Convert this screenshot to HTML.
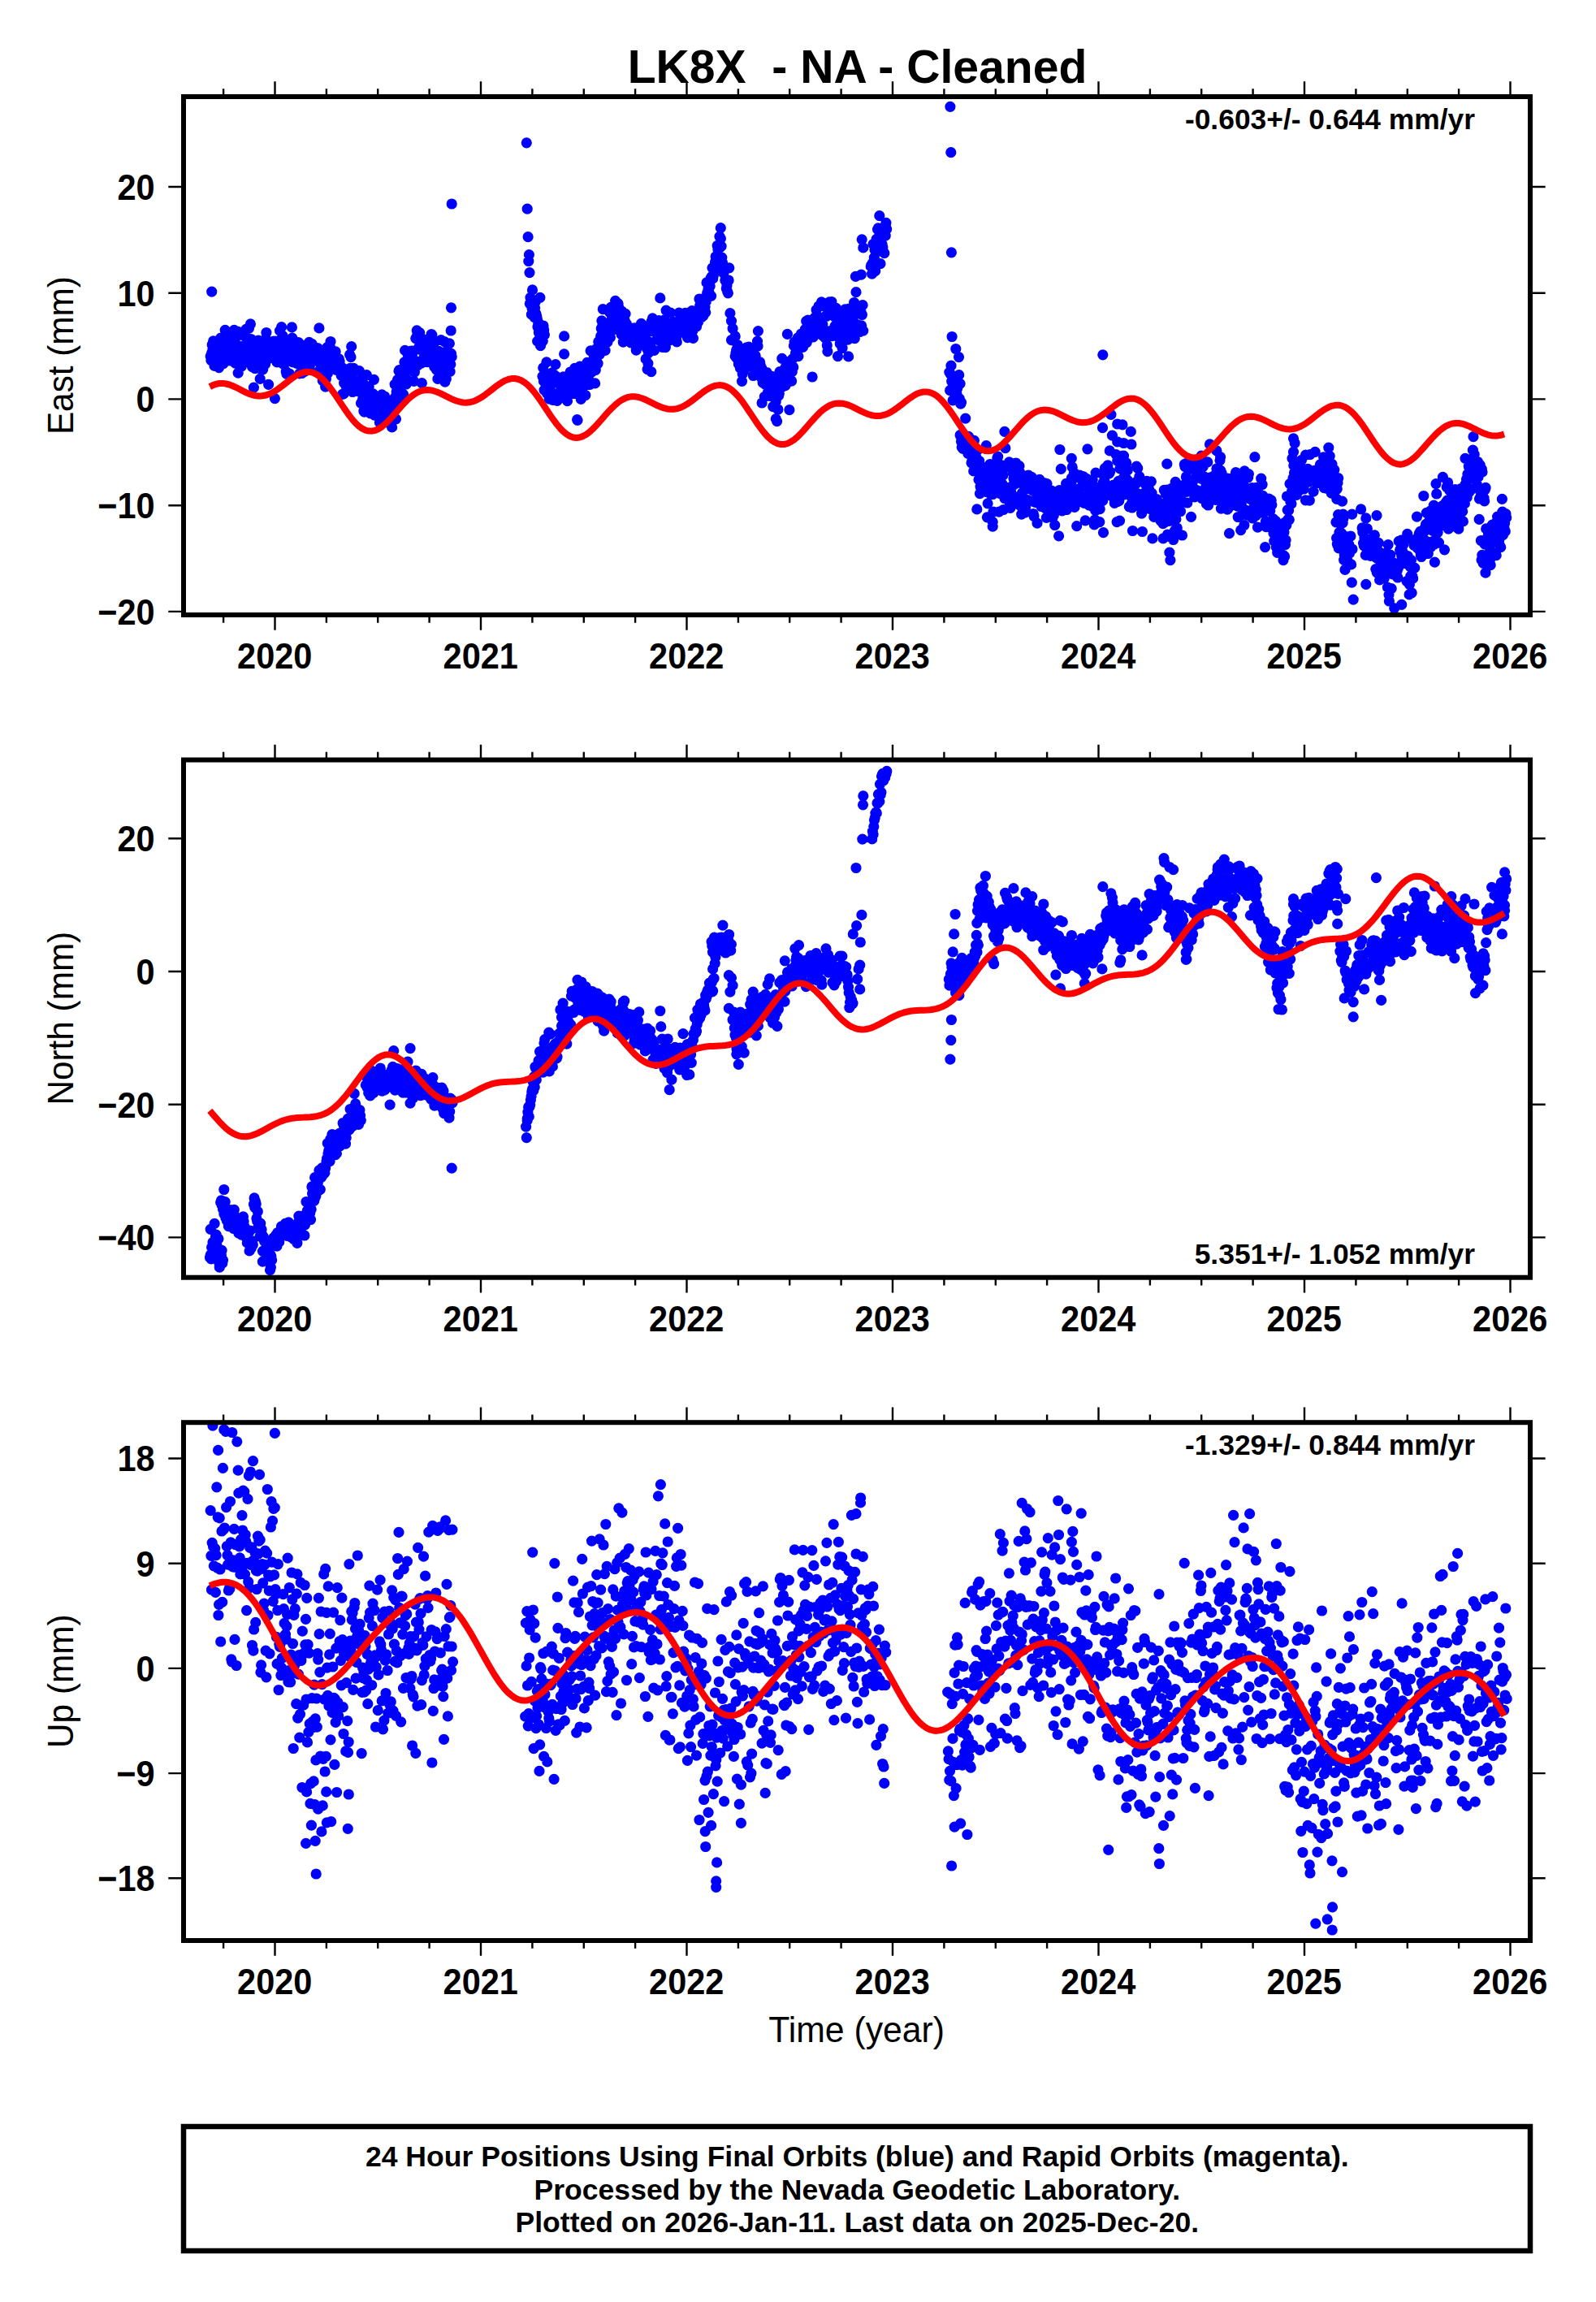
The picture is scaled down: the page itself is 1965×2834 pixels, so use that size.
<!DOCTYPE html>
<html><head><meta charset="utf-8"><title>LK8X - NA - Cleaned</title>
<style>html,body{margin:0;padding:0;background:#fff}body{width:1965px;height:2834px;position:relative;overflow:hidden;font-family:"Liberation Sans",sans-serif}</style></head>
<body>
<svg width="1965" height="2834" viewBox="0 0 1965 2834" style="position:absolute;left:0;top:0">
<rect width="1965" height="2834" fill="#fff"/>
<text x="1055.5" y="101.5" text-anchor="middle" font-family="Liberation Sans, sans-serif" font-weight="bold" font-size="57.1" xml:space="preserve">LK8X  - NA - Cleaned</text>
<path d="M259.2 438.7h0M259.9 443.7h0M260.5 435h0M261.2 424.4h0M261.9 429.8h0M262.6 419.9h0M263.3 431.3h0M264 450.4h0M264.7 431.1h0M265.4 424.4h0M266.1 441.3h0M266.8 438.6h0M267.5 433.5h0M268.2 425.3h0M268.9 436.1h0M269.6 452.6h0M270.3 422.4h0M271 435.9h0M271.7 416.2h0M272.3 421.9h0M273 417.5h0M273.7 438.4h0M274.4 427.7h0M275.1 447.6h0M275.8 441.2h0M276.5 437.1h0M277.2 406.3h0M277.9 436.5h0M278.6 439.9h0M279.3 441.4h0M280 412.7h0M280.7 430.9h0M281.4 420.5h0M282.1 416.7h0M282.8 443.9h0M283.5 423.8h0M284.1 429.4h0M284.8 439h0M285.5 417.1h0M286.2 421.4h0M286.9 428.3h0M287.6 425.8h0M288.3 406.3h0M289 429.8h0M289.7 447.2h0M290.4 408h0M291.1 440.1h0M291.8 424.6h0M292.5 408.2h0M293.2 459.2h0M293.9 440.2h0M294.6 412.5h0M295.3 432.6h0M295.9 441.4h0M296.6 429.1h0M297.3 451h0M298 432.9h0M298.7 437.5h0M299.4 447.1h0M300.1 409.7h0M300.8 429.8h0M301.5 424.9h0M302.2 430.6h0M302.9 405.4h0M303.6 416h0M304.3 431.1h0M305 436.1h0M305.7 445.4h0M306.4 404.4h0M307 418.9h0M307.7 438.2h0M308.4 398.9h0M309.1 417.5h0M309.8 421.7h0M310.5 451.6h0M311.2 447.8h0M311.9 432.2h0M312.6 428.8h0M313.3 424.9h0M314 453.7h0M314.7 426.6h0M315.4 430.5h0M316.1 441.5h0M316.8 430.6h0M317.5 431h0M318.2 419h0M318.8 442.3h0M319.5 443.9h0M320.2 466.4h0M320.9 454.1h0M321.6 443.4h0M322.3 451.3h0M323 433.4h0M323.7 454.8h0M324.4 435.4h0M325.1 449.1h0M325.8 421.9h0M326.5 448.4h0M327.2 417.4h0M327.9 409.5h0M328.6 432.9h0M329.3 424.6h0M330 439.5h0M330.6 473.3h0M331.3 428.7h0M332 426.5h0M332.7 440.8h0M333.4 440.5h0M334.1 430.8h0M334.8 431.5h0M335.5 438.5h0M336.2 439.1h0M336.9 420.1h0M337.6 434.9h0M338.3 436.1h0M339 420.2h0M339.7 436.3h0M340.4 421.2h0M341.1 445.9h0M341.8 436.8h0M342.4 430.8h0M343.1 424.2h0M343.8 431.9h0M344.5 407.1h0M345.2 418.7h0M345.9 441.9h0M346.6 402.7h0M347.3 445.8h0M348 413.3h0M348.7 448.1h0M349.4 428.7h0M350.1 447.9h0M350.8 438.8h0M351.5 419.1h0M352.2 457.5h0M352.9 460.4h0M353.6 434.4h0M354.2 434.7h0M354.9 440.1h0M355.6 432.7h0M356.3 460h0M357 431h0M357.7 440.7h0M358.4 430.1h0M359.1 422.1h0M359.8 416.2h0M360.5 445.8h0M361.2 423.3h0M361.9 438.5h0M362.6 432.6h0M363.3 423.5h0M364 430.3h0M364.7 434.8h0M365.3 447.3h0M366 440.3h0M366.7 440h0M367.4 421.5h0M368.1 426.8h0M368.8 459.8h0M369.5 433h0M370.2 429h0M370.9 450.1h0M371.6 459.5h0M372.3 425h0M373 442.5h0M373.7 438.7h0M374.4 427.7h0M375.1 457.4h0M375.8 445.9h0M376.5 447.6h0M377.1 434.2h0M377.8 442.2h0M378.5 433.2h0M379.2 438h0M379.9 428.2h0M380.6 421.4h0M381.3 450.9h0M382 428.2h0M382.7 435.7h0M383.4 426.3h0M384.1 423.4h0M384.8 427.5h0M385.5 443.3h0M386.2 431.5h0M386.9 433.4h0M387.6 438.4h0M388.3 443.3h0M388.9 439.3h0M389.6 439.4h0M390.3 432h0M391 428.5h0M391.7 458.3h0M392.4 458.7h0M393.1 446.1h0M393.8 455.7h0M394.5 455.2h0M395.2 454.8h0M395.9 458.6h0M396.6 448.1h0M397.3 468.7h0M398 434.9h0M398.7 458.8h0M399.4 458.2h0M400.1 461h0M400.7 476.2h0M401.4 466.5h0M402.1 434.8h0M402.8 427.7h0M403.5 459.5h0M404.2 441.3h0M404.9 446.8h0M405.6 453.8h0M406.3 427.2h0M407 420.5h0M407.7 443.5h0M408.4 446.5h0M409.1 445.3h0M409.8 450.7h0M410.5 438.9h0M411.2 435.2h0M411.9 450.2h0M412.5 444h0M413.2 432.8h0M413.9 455.3h0M414.6 450.6h0M415.3 454.9h0M416 442.7h0M416.7 448.4h0M417.4 441.8h0M418.1 445.2h0M418.8 458.2h0M419.5 451h0M420.2 462.4h0M420.9 461.1h0M421.6 485.4h0M422.3 453.4h0M423 484.9h0M423.6 471.5h0M424.3 471.4h0M425 458.2h0M425.7 467h0M426.4 476.3h0M427.1 466.5h0M427.8 469.5h0M428.5 462.7h0M429.2 474.6h0M429.9 458h0M430.6 436.6h0M431.3 453.4h0M432 439.6h0M432.7 426.7h0M433.4 461.9h0M434.1 482.5h0M434.8 469.8h0M435.4 453.3h0M436.1 456.2h0M436.8 478h0M437.5 473.2h0M438.2 472.6h0M438.9 469.8h0M439.6 470.7h0M440.3 480.6h0M441 481.6h0M441.7 473.3h0M442.4 456.6h0M443.1 475.7h0M443.8 472.3h0M444.5 496.4h0M445.2 467h0M445.9 482.9h0M446.6 491h0M447.2 471.6h0M447.9 506.2h0M448.6 507.1h0M449.3 484.3h0M450 500.5h0M450.7 492.5h0M451.4 461.7h0M452.1 501.7h0M452.8 497.7h0M453.5 499.7h0M454.2 476h0M454.9 488.9h0M455.6 489.5h0M456.3 509h0M457 499.9h0M457.7 494.1h0M458.4 508h0M459 484.6h0M459.7 485.3h0M460.4 467.3h0M461.1 511.1h0M461.8 504h0M462.5 497.8h0M463.2 503.3h0M463.9 499h0M464.6 506.7h0M465.3 508.1h0M466 507.2h0M466.7 503.2h0M467.4 519.9h0M468.1 504.4h0M468.8 496h0M469.5 491.8h0M470.2 485.8h0M470.8 518.7h0M471.5 501.8h0M472.2 500.6h0M472.9 497.5h0M473.6 488h0M474.3 501.8h0M475 511.9h0M475.7 495.6h0M476.4 492.9h0M477.1 495.2h0M477.8 507.7h0M478.5 492.9h0M479.2 513.2h0M479.9 505.6h0M480.6 522h0M481.3 504.9h0M481.9 518.4h0M482.6 525.9h0M483.3 498.1h0M484 491.8h0M484.7 497.5h0M485.4 492.7h0M486.1 473.1h0M486.8 488.6h0M487.5 515.8h0M488.2 482.5h0M488.9 479.3h0M489.6 467.5h0M490.3 485.3h0M491 456.8h0M491.7 455.5h0M492.4 488.9h0M493.1 458.2h0M493.7 482.6h0M494.4 491.8h0M495.1 469.2h0M495.8 470.2h0M496.5 485.3h0M497.2 460.9h0M497.9 445.8h0M498.6 431.4h0M499.3 449.2h0M500 473h0M500.7 466.8h0M501.4 443.1h0M502.1 436.2h0M502.8 445.3h0M503.5 455.4h0M504.2 444.9h0M504.9 453.6h0M505.5 449.6h0M506.2 432.1h0M506.9 436.9h0M507.6 436.2h0M508.3 432h0M509 445.4h0M509.7 469.3h0M510.4 458.1h0M511.1 449.5h0M511.8 416.6h0M512.5 444.9h0M513.2 406.8h0M513.9 411.4h0M514.6 449.6h0M515.3 446.1h0M516 426.8h0M516.7 409.6h0M517.3 430h0M518 428.6h0M518.7 447.2h0M519.4 471.7h0M520.1 443.3h0M520.8 433.3h0M521.5 428.3h0M522.2 442.1h0M522.9 439.6h0M523.6 420h0M524.3 435.1h0M525 418.1h0M525.7 445.6h0M526.4 439.4h0M527.1 445.4h0M527.8 427.4h0M528.4 435.2h0M529.1 423.9h0M529.8 422.3h0M530.5 424.8h0M531.2 411.5h0M531.9 412.3h0M532.6 441.2h0M533.3 433.4h0M534 438.5h0M534.7 451.6h0M535.4 420.8h0M536.1 444.4h0M536.8 453.1h0M537.5 455.4h0M538.2 443.1h0M538.9 466.4h0M539.6 452.5h0M540.2 432.3h0M540.9 436.7h0M541.6 457h0M542.3 450h0M543 418.6h0M543.7 455.3h0M544.4 442.6h0M545.1 454h0M545.8 434.1h0M546.5 436.3h0M547.2 420.6h0M547.9 470.1h0M548.6 439.6h0M549.3 466.4h0M550 436.6h0M550.7 444.2h0M551.4 424h0M552 438.6h0M552.7 451.8h0M553.4 422.8h0M554.1 457.4h0M554.8 448.6h0M555.5 435.4h0M556.2 439.3h0M260.7 359.1h0M359.4 402.9h0M392.9 403.9h0M312.4 477.2h0M338.4 490.6h0M556.2 251h0M555.5 378.8h0M555.2 407h0M648.3 175.8h0M649.2 257.2h0M650.1 291.7h0M651.4 313.6h0M650.8 321.5h0M652 335.6h0M655.5 356.9h0M664.9 366.3h0M652.3 373.8h0M653 366.3h0M653.7 371h0M654.4 387.2h0M655.1 379.8h0M655.8 373.5h0M656.5 375.3h0M657.2 380.1h0M657.9 390.6h0M658.6 379h0M659.3 371.3h0M660 386.5h0M660.7 388.8h0M661.4 392.7h0M662 402.4h0M662.7 398.6h0M663.4 409.3h0M664.1 398.7h0M664.8 414h0M665.5 425.7h0M666.2 414.7h0M666.9 409.8h0M667.6 411.8h0M668.3 419.8h0M669 401h0M669.7 406h0M670.4 412h0M661.7 420.2h0M694.6 413.9h0M694.6 435.8h0M710.6 516.6h0M668 463.3h0M668.7 452.8h0M669.4 469.3h0M670.1 480.1h0M670.8 466.3h0M671.5 469.1h0M672.2 460.9h0M672.9 445.8h0M673.5 484.3h0M674.2 481.9h0M674.9 477.4h0M675.6 479h0M676.3 491.2h0M677 476h0M677.7 463.7h0M678.4 473.6h0M679.1 488.3h0M679.8 458.8h0M680.5 492.4h0M681.2 464.9h0M681.9 461.1h0M682.6 489.5h0M683.3 468.8h0M684 448.6h0M684.7 463.4h0M685.3 484.5h0M686 493.3h0M686.7 471.6h0M687.4 485.7h0M688.1 488.9h0M688.8 469.9h0M689.5 484.1h0M690.2 481.8h0M690.9 472.5h0M691.6 470.9h0M692.3 476.1h0M693 475h0M693.7 463.8h0M694.4 468.6h0M695.1 485.3h0M695.8 475h0M696.5 479h0M697.1 483.8h0M697.8 476.9h0M698.5 493.7h0M699.2 463.2h0M700 464.6h0M700.7 480.8h0M701.4 478.7h0M702.1 458h0M702.8 467h0M703.5 479.9h0M704.2 481.5h0M704.9 484.4h0M705.6 479.1h0M706.2 458.7h0M706.9 478.2h0M707.6 453.3h0M708.3 484.5h0M709 471.1h0M709.7 477.6h0M710.4 477.3h0M711.1 485.1h0M711.8 458h0M712.5 453.7h0M713.2 465.5h0M713.9 451.2h0M714.6 466.1h0M715.3 491.4h0M716 461.3h0M716.7 479.1h0M717.4 455h0M718 475.2h0M718.7 456.7h0M719.4 457.6h0M720.1 467h0M720.8 486.5h0M721.5 467.4h0M722.2 465.2h0M722.9 446.4h0M723.6 469.2h0M724.3 463.6h0M725 473.5h0M725.7 460.2h0M726.4 473.3h0M727.1 431.8h0M727.8 458.6h0M728.5 471.4h0M729.1 457.5h0M729.8 450.8h0M730.5 449.5h0M731.2 438h0M731.9 447.5h0M732.6 471.9h0M733.3 455.5h0M734 429.7h0M734.7 431.4h0M735.4 436.1h0M736.1 447.5h0M736.8 420.7h0M737.5 420.8h0M738.2 436.3h0M738.9 431.5h0M739.6 413.8h0M740.3 404.5h0M740.9 394.8h0M741.6 400.9h0M742.3 380.7h0M743 416h0M743.7 404h0M744.4 422.3h0M745.1 431.4h0M745.8 421.4h0M746.5 399.6h0M747.2 419.8h0M747.9 421.2h0M748.6 405.3h0M749.3 400.1h0M750 403.7h0M750.7 384.7h0M751.4 415.4h0M752.1 378.3h0M752.7 386.8h0M753.4 391.9h0M754.1 393.8h0M754.8 398.4h0M755.5 396.6h0M756.2 393.2h0M756.9 405.4h0M757.6 370.3h0M758.3 388h0M759 382.8h0M759.7 388.6h0M760.4 384.1h0M761.1 373.9h0M761.8 378.7h0M762.5 394.3h0M763.2 385.6h0M763.9 385h0M764.5 406.1h0M765.2 411.9h0M765.9 383.4h0M766.6 401.2h0M767.3 421.2h0M768 402.8h0M768.7 400.3h0M769.4 394.9h0M770.1 386.3h0M770.8 399.2h0M771.5 398.9h0M772.2 416.2h0M772.9 402.3h0M773.6 406.4h0M774.3 402.9h0M775 417.9h0M775.7 407.9h0M776.3 410.1h0M777 422h0M777.7 409.1h0M778.4 406.8h0M779.1 408h0M779.8 404.8h0M780.5 404.4h0M781.2 403.8h0M781.9 421.9h0M782.6 407.6h0M783.3 431.1h0M784 420.7h0M784.7 409.4h0M785.4 411h0M786.1 411.7h0M786.8 416.6h0M787.4 407.9h0M788.1 423.9h0M788.8 406.6h0M789.5 398.3h0M790.2 411.9h0M790.9 400.6h0M791.6 417h0M792.3 425.1h0M793 418.1h0M793.7 403h0M794.4 415.6h0M795.1 441.9h0M795.8 422.7h0M796.5 420.8h0M797.2 430.1h0M797.9 447.3h0M798.6 434.4h0M799.2 421h0M799.9 424.1h0M800.6 423.9h0M801.3 407.7h0M802 395.9h0M802.7 407.8h0M803.4 391.9h0M804.1 403.5h0M804.8 403.8h0M805.5 431.3h0M806.2 397.7h0M806.9 402.7h0M807.6 401.1h0M808.3 406.5h0M809 418.1h0M809.7 407.3h0M810.4 406.1h0M811 394.7h0M811.7 408.2h0M812.4 419.9h0M813.1 419.6h0M813.8 404.5h0M814.5 402.8h0M815.2 417.7h0M815.9 427.5h0M816.6 409.9h0M817.3 413.7h0M818 393.8h0M818.7 401.2h0M819.4 427.6h0M820.1 382.1h0M820.8 405.6h0M821.5 412.6h0M822.2 409.7h0M822.8 403.9h0M823.5 419.4h0M824.2 415.2h0M824.9 413.8h0M825.6 385.1h0M826.3 401.1h0M827 397.9h0M827.7 398.1h0M828.4 409h0M829.1 413.4h0M829.8 413.1h0M830.5 396.5h0M831.2 411.9h0M831.9 413.9h0M832.6 416h0M833.3 420.9h0M834 401.3h0M834.6 397.5h0M835.3 410.5h0M836 385.1h0M836.7 406.4h0M837.4 405.4h0M838.1 408.1h0M838.8 389.4h0M839.5 396.3h0M840.2 401.4h0M840.9 408.1h0M841.6 405.6h0M842.3 392h0M843 389.7h0M843.7 385.3h0M844.4 398.2h0M845.1 389.8h0M845.7 395.9h0M846.4 415.6h0M847.1 396.7h0M847.8 385.1h0M848.5 392.8h0M849.2 388.5h0M849.9 387.7h0M850.6 415.4h0M851.3 409.6h0M852 382.7h0M852.7 407.7h0M853.4 416.4h0M854.1 396.7h0M854.8 392.4h0M855.5 396.9h0M856.2 398.8h0M856.9 401.3h0M857.5 402h0M858.2 398.8h0M858.9 395.9h0M859.6 396.4h0M860.3 388.8h0M861 368h0M861.7 375.8h0M862.4 384.6h0M863.1 379.3h0M863.8 390.5h0M864.5 375h0M865.2 368h0M865.9 388.8h0M866.6 380.6h0M867.3 370.8h0M868 378.1h0M868.7 384.7h0M869.3 371.2h0M870 347.9h0M870.7 360.6h0M871.4 358.9h0M872.1 355.3h0M872.8 358.9h0M873.5 365h0M874.2 352h0M874.9 342.7h0M875.6 364.3h0M876.3 340.5h0M877 329.8h0M877.7 342.9h0M878.4 339.1h0M879.1 328.6h0M879.8 334.3h0M880.5 322.7h0M881.1 315.8h0M881.8 315.4h0M882.5 317.7h0M883.2 302.3h0M883.9 306.9h0M884.6 304.6h0M885.3 319.1h0M886 291.2h0M886.7 304.5h0M887.4 293.7h0M888.1 303.2h0M888.8 317.1h0M889.5 323.4h0M890.2 334.9h0M890.9 336.3h0M891.6 331.2h0M892.3 332.3h0M892.9 345.2h0M893.6 346.3h0M894.3 354.9h0M895 351.4h0M895.7 358.9h0M896.4 360.8h0M897.1 345h0M897.8 329.8h0M711 517.3h0M812.8 366.9h0M797.1 454.6h0M801.8 457.7h0M887.3 280.7h0M898.9 385.7h0M900.5 395.1h0M902.1 404.5h0M905.2 413.9h0M900.5 418.6h0M905.2 438.6h0M905.9 434.6h0M906.6 431h0M907.3 441.1h0M908 424.5h0M908.7 430.5h0M909.4 448.2h0M910.1 439.1h0M910.8 445.5h0M911.4 453.1h0M912.1 453.5h0M912.8 447.6h0M913.5 469.3h0M914.2 460.3h0M914.9 449h0M915.6 457h0M916.3 455.5h0M917 436.9h0M917.7 451.2h0M918.4 451.6h0M919.1 427.8h0M919.8 446.7h0M920.5 446.1h0M921.2 444.3h0M921.9 427.1h0M922.6 444.9h0M923.2 442h0M923.9 444.2h0M924.6 429.6h0M925.3 451.4h0M926 432.1h0M926.7 441.1h0M927.4 462.5h0M928.1 439.5h0M928.8 441h0M929.5 456.8h0M930.2 437.9h0M930.9 442.6h0M931.6 446.9h0M932.3 459.5h0M933 426.2h0M933.7 446.3h0M934.4 449.6h0M935 446.8h0M935.7 445.9h0M936.4 449.9h0M937.1 464.6h0M937.8 453.4h0M938.5 464.7h0M939.2 471.2h0M939.9 459.6h0M940.6 470.6h0M941.3 488.5h0M942 473h0M942.7 460.3h0M943.4 466.5h0M944.1 458.5h0M944.8 469.8h0M945.5 482.6h0M946.1 461.6h0M946.8 472.3h0M947.5 487.4h0M948.2 466.6h0M948.9 483h0M949.6 465.5h0M950.3 463.4h0M951 465.7h0M951.7 500.6h0M952.4 477.1h0M953.1 476.3h0M953.8 480h0M954.5 481.4h0M955.2 494.5h0M955.9 489.8h0M956.6 518.6h0M957.3 488.4h0M957.9 504h0M958.6 487.1h0M959.3 484.7h0M960 457.7h0M960.7 471.3h0M961.4 462.6h0M962.1 463.4h0M962.8 441.4h0M963.5 476.2h0M964.2 456h0M964.9 460.5h0M965.6 462.2h0M966.3 464.8h0M967 474.7h0M967.7 451.1h0M968.4 455.8h0M969.1 466.1h0M969.7 462.7h0M970.4 455.1h0M971.1 452.2h0M971.8 451.6h0M972.5 458.7h0M973.2 469.3h0M973.9 443.8h0M974.6 469h0M975.3 457.7h0M976 441.7h0M976.7 452h0M977.4 425.7h0M978.1 421.1h0M978.8 422.1h0M979.5 434.6h0M980.2 436.5h0M980.9 432.7h0M981.5 435.5h0M982.2 415.9h0M982.9 438.7h0M983.6 415.6h0M984.3 421.6h0M985 422.3h0M985.7 416.2h0M986.4 411h0M987.1 417.7h0M987.8 422.1h0M988.5 427.4h0M989.2 422.3h0M989.9 410.4h0M990.6 408.6h0M991.3 405.5h0M992 419.3h0M992.7 395.3h0M993.3 421.6h0M994 402.2h0M994.7 394.2h0M995.4 406.1h0M996.1 413.4h0M996.8 405.4h0M997.5 411.9h0M998.2 401.5h0M998.9 411.6h0M999.6 414.1h0M1000.3 405.2h0M1001 415h0M1001.7 401.4h0M1002.4 399.7h0M1003.1 391.2h0M1003.8 395.8h0M1004.4 407.5h0M1005.1 381.5h0M1005.8 407.4h0M1006.5 405.3h0M1007.2 404.5h0M1007.9 377h0M1008.6 400.4h0M1009.3 404.4h0M1010 391.1h0M1010.7 402.6h0M1011.4 371.9h0M1012.1 412.6h0M1012.8 399.5h0M1013.5 413.7h0M1014.2 376.8h0M1014.9 414.8h0M1015.6 407.8h0M1016.2 416.4h0M1016.9 388.9h0M1017.6 389.4h0M1018.3 425h0M1019 379.6h0M1019.7 382.2h0M1020.4 384.3h0M1021.1 371.9h0M1021.8 407.6h0M1022.5 412.7h0M1023.2 381.2h0M1023.9 371.5h0M1024.6 413.6h0M1025.3 411.1h0M1026 407.1h0M1026.7 409.3h0M1027.4 389.8h0M1028 401.3h0M1028.7 379.5h0M1029.4 379.4h0M1030.1 413.7h0M1030.8 393.2h0M1031.5 438.6h0M1032.2 412.3h0M1032.9 399.1h0M1033.6 416h0M1034.3 423.2h0M1035 407h0M1035.7 384.8h0M1036.4 416h0M1037.1 428.5h0M1037.8 394.7h0M1038.5 388.1h0M1039.2 413.6h0M1039.8 398.3h0M1040.5 380.8h0M1041.2 391.6h0M1041.9 390h0M1042.6 404.7h0M1043.3 399.7h0M1044 418.1h0M1044.7 411.2h0M1045.4 380.1h0M1046.1 402.9h0M1046.8 408.1h0M1047.5 406.7h0M1048.2 409.8h0M1048.9 391.4h0M1049.6 390.3h0M1050.3 412.6h0M1050.9 389.2h0M1051.6 372.5h0M1052.3 416.7h0M1053 398.4h0M1053.7 403.2h0M1054.4 382.9h0M1055.1 380h0M1055.8 385.7h0M1056.5 400.1h0M1057.2 408h0M1057.9 379.3h0M1058.6 408.5h0M1059.3 385.2h0M1060 384.2h0M1060.7 400.8h0M1061.4 387.5h0M1062.1 375.7h0M1062.7 407.1h0M933.4 407.6h0M932.5 420.2h0M955.3 515.7h0M938.1 496h0M971.9 504.7h0M969.4 411.4h0M1000.1 464h0M1018.9 432.7h0M1044.6 438.9h0M1054 359.7h0M1053.4 340.3h0M1060.3 338.1h0M1061.2 294.8h0M1062.8 304.9h0M1082.8 265.7h0M1090.7 280.1h0M1072.2 327.9h0M1072.9 326.2h0M1073.6 337.2h0M1074.3 323.8h0M1075 300.7h0M1075.7 330.9h0M1076.3 317.2h0M1077 307.7h0M1077.7 333.6h0M1078.4 307.7h0M1079.1 294.4h0M1079.8 303h0M1080.5 282.3h0M1081.2 280.8h0M1081.9 305.4h0M1082.6 284.9h0M1083.3 292.3h0M1084 324.7h0M1084.7 308.9h0M1085.4 301.1h0M1086.1 300.7h0M1086.8 304.4h0M1087.4 309.5h0M1088.1 289.5h0M1088.8 311.7h0M1089.5 279.7h0M1090.2 290.2h0M1090.9 274.3h0M1091.6 282.2h0M1169.9 131.3h0M1170.8 187.7h0M1171.4 310.8h0M1172.1 414.5h0M1176.8 429.5h0M1180.5 439.6h0M1188.7 515.1h0M1236.9 531.4h0M1214.3 548.6h0M1237.8 551.7h0M1168.9 458.2h0M1169.6 480.7h0M1170.3 460.5h0M1171 450.2h0M1171.7 469.3h0M1172.4 470.6h0M1173.1 492.8h0M1173.8 471h0M1174.5 474.9h0M1175.2 477.4h0M1175.9 491.7h0M1176.6 474.2h0M1177.3 486h0M1177.9 485.2h0M1178.6 478.2h0M1179.3 472.9h0M1180 474.5h0M1180.7 461.7h0M1181.4 490.8h0M1182.1 472.3h0M1182.8 497.1h0M1183.5 495.4h0M1182.1 535.7h0M1182.8 536.9h0M1183.5 543.6h0M1184.2 550.6h0M1184.9 535.9h0M1185.6 552.3h0M1186.2 536h0M1186.9 542.1h0M1187.6 549.4h0M1188.3 549.4h0M1189 537.3h0M1189.7 539.2h0M1190.4 544.7h0M1191.1 546.2h0M1191.8 558.3h0M1192.5 537.4h0M1193.2 551h0M1193.9 554.7h0M1194.6 553.9h0M1195.3 560.2h0M1196 569.8h0M1196.7 567.6h0M1197.3 568.9h0M1198 569.5h0M1198.7 579.9h0M1199.4 542.3h0M1200.1 576.7h0M1200.8 566.1h0M1201.5 564.2h0M1202.2 563.6h0M1202.9 554.9h0M1203.6 573.1h0M1204.3 574.2h0M1205 590.6h0M1205.7 567.5h0M1206.4 607.6h0M1207.1 599.1h0M1207.8 594.2h0M1208.5 587.4h0M1209.1 582.6h0M1209.8 576.6h0M1210.5 589.3h0M1211.2 597.6h0M1211.9 592.3h0M1212.6 575.8h0M1213.3 600.9h0M1214 591.4h0M1214.7 605.6h0M1215.4 636.8h0M1216.1 619.8h0M1216.8 606h0M1217.5 582.7h0M1218.2 579.1h0M1218.9 571.5h0M1219.6 608.6h0M1220.3 586.3h0M1220.9 603.1h0M1221.6 595.4h0M1222.3 608.5h0M1223 630.2h0M1223.7 591.3h0M1224.4 587.1h0M1225.1 579h0M1225.8 604.3h0M1226.5 572.5h0M1227.2 571.6h0M1227.9 564.1h0M1228.6 562.2h0M1229.3 594.3h0M1230 630.1h0M1230.7 573.8h0M1231.4 607.6h0M1232.1 596.9h0M1232.7 572.6h0M1233.4 586.3h0M1234.1 596h0M1234.8 585.1h0M1235.5 627.5h0M1236.2 576.6h0M1236.9 613.5h0M1237.6 607.1h0M1238.3 600.3h0M1239 607.7h0M1239.7 613.7h0M1240.4 600.6h0M1241.1 604.9h0M1241.8 607.5h0M1242.5 568.9h0M1243.2 619.2h0M1243.9 625.4h0M1244.5 603.9h0M1245.2 607.5h0M1245.9 577.1h0M1246.6 598.2h0M1247.3 582.7h0M1248 589.1h0M1248.7 611.5h0M1249.4 592.4h0M1250.1 595.5h0M1250.8 570h0M1251.5 593.4h0M1252.2 590.9h0M1252.9 577.5h0M1253.6 583.8h0M1254.3 621.2h0M1255 573.7h0M1255.6 581.3h0M1256.3 590h0M1257 623.4h0M1257.7 633.1h0M1258.4 606.8h0M1259.1 595.4h0M1259.8 596.5h0M1260.5 614.8h0M1261.2 590.7h0M1261.9 631.1h0M1262.6 624.6h0M1263.3 595.9h0M1264 601h0M1264.7 601.8h0M1265.4 615.7h0M1266.1 585h0M1266.8 617.4h0M1267.4 594.6h0M1268.1 591.4h0M1268.8 601.7h0M1269.5 598.9h0M1270.2 587.4h0M1270.9 591.4h0M1271.6 603.8h0M1272.3 632.6h0M1273 635.5h0M1273.7 616.9h0M1274.4 618.3h0M1275.1 595.8h0M1275.8 601h0M1276.5 612.2h0M1277.2 594.2h0M1277.9 593.8h0M1278.6 605.1h0M1279.2 597.4h0M1279.9 590.3h0M1280.6 611h0M1281.3 608.6h0M1282 623.5h0M1282.7 614.8h0M1283.4 611.7h0M1284.1 617.3h0M1284.8 605h0M1285.5 594.7h0M1286.2 603.3h0M1286.9 625.6h0M1287.6 625.9h0M1288.3 637.4h0M1289 595.6h0M1289.7 611.3h0M1290.4 608.6h0M1291 622.2h0M1291.7 614.6h0M1292.4 612.8h0M1293.1 629.1h0M1293.8 622.4h0M1294.5 604h0M1295.2 635.2h0M1295.9 637.4h0M1296.6 615.3h0M1297.3 634.4h0M1298 617.1h0M1298.7 646.5h0M1299.4 624h0M1300.1 615.6h0M1300.8 615.1h0M1301.5 606.4h0M1302.2 611.4h0M1302.8 618.8h0M1303.5 608.8h0M1304.2 603.7h0M1304.9 553.5h0M1305.6 606.9h0M1306.3 577.4h0M1307 611.7h0M1307.7 628.8h0M1308.4 623.4h0M1309.1 611.9h0M1309.8 617.2h0M1310.5 613h0M1311.2 607.8h0M1311.9 605.2h0M1312.6 595.4h0M1313.3 627.5h0M1313.9 607h0M1314.6 622.7h0M1315.3 604.3h0M1316 605.4h0M1316.7 596.9h0M1317.4 610.6h0M1318.1 608h0M1318.8 596.2h0M1319.5 588.5h0M1320.2 575h0M1320.9 613.5h0M1321.6 587.9h0M1322.3 581.9h0M1323 624.4h0M1323.7 607.4h0M1324.4 608h0M1325.1 602.2h0M1325.7 647.6h0M1326.4 615.6h0M1327.1 618.2h0M1327.8 603.2h0M1328.5 588.4h0M1329.2 585.1h0M1329.9 609.7h0M1330.6 614h0M1331.3 600.8h0M1332 587.8h0M1332.7 586.3h0M1333.4 596.6h0M1334.1 586.8h0M1334.8 619.3h0M1335.5 617.7h0M1336.2 640.8h0M1336.9 612.3h0M1337.5 591.5h0M1338.2 589.7h0M1338.9 552.8h0M1339.6 597.1h0M1340.3 601.2h0M1341 622h0M1341.7 617.3h0M1342.4 620.4h0M1343.1 612.2h0M1343.8 615.9h0M1344.5 623.3h0M1345.2 591.1h0M1345.9 604.3h0M1346.6 599.3h0M1347.3 645.9h0M1348 640h0M1348.7 628.5h0M1349.3 600h0M1350 619.4h0M1350.7 619.2h0M1351.4 625.3h0M1352.1 614.7h0M1352.8 620.2h0M1353.5 610.1h0M1354.2 626.7h0M1354.9 614.7h0M1355.6 610.5h0M1356.3 609.3h0M1357 602.5h0M1357.7 616.4h0M1358.4 593.7h0M1359.1 605.5h0M1359.8 591.6h0M1360.4 576.4h0M1361.1 604.8h0M1361.8 584.2h0M1362.5 606.6h0M1363.2 604.1h0M1363.9 572.8h0M1364.6 581.7h0M1365.3 583.1h0M1366 582.4h0M1366.7 580.6h0M1367.4 605h0M1368.1 601.4h0M1368.8 610.9h0M1369.5 602.4h0M1370.2 611.1h0M1370.9 597.2h0M1371.6 608.9h0M1372.2 619.3h0M1372.9 606.8h0M1373.6 604.1h0M1374.3 597.4h0M1375 615.1h0M1375.7 617.6h0M1376.4 603.4h0M1377.1 592.4h0M1377.8 616.6h0M1378.5 641.1h0M1379.2 598.6h0M1379.9 607.9h0M1380.6 606.8h0M1381.3 561.4h0M1382 590.2h0M1382.7 576.3h0M1383.4 609h0M1384 589.8h0M1384.7 584.7h0M1385.4 595.8h0M1386.1 605.1h0M1386.8 589.4h0M1387.5 597.3h0M1388.2 578.9h0M1388.9 591.9h0M1389.6 605.8h0M1390.3 623.8h0M1391 608.1h0M1391.7 598.2h0M1392.4 611.1h0M1393.1 620.1h0M1393.8 625h0M1394.5 612.4h0M1395.2 599.9h0M1395.8 607.8h0M1396.5 609.4h0M1397.2 606.9h0M1397.9 611.1h0M1398.6 595.5h0M1399.3 574.2h0M1400 592.7h0M1400.7 576.4h0M1401.4 607.8h0M1402.1 609.6h0M1402.8 586.7h0M1403.5 621.9h0M1404.2 624.3h0M1404.9 617.4h0M1405.6 632.1h0M1406.3 629.2h0M1407 592.5h0M1407.6 618h0M1408.3 611h0M1409 612.1h0M1409.7 618.2h0M1410.4 596.3h0M1411.1 604.6h0M1411.8 592.3h0M1412.5 598.7h0M1413.2 616.9h0M1413.9 597.8h0M1414.6 602.5h0M1415.3 626.3h0M1416 624.1h0M1416.7 624.1h0M1417.4 592.8h0M1418.1 607.1h0M1418.7 613.1h0M1419.4 622.5h0M1420.1 616.6h0M1420.8 636.4h0M1421.5 622.8h0M1422.2 621.8h0M1422.9 620.5h0M1423.6 630.7h0M1424.3 614.6h0M1425 634.3h0M1425.7 632.9h0M1426.4 628.1h0M1427.1 620.5h0M1427.8 634.4h0M1428.5 639.6h0M1429.2 641.4h0M1429.9 633h0M1430.5 641.6h0M1431.2 631.3h0M1431.9 644.6h0M1432.6 625h0M1433.3 603.4h0M1434 643h0M1434.7 625.5h0M1435.4 608.1h0M1436.1 618.1h0M1436.8 603.1h0M1437.5 658h0M1438.2 632h0M1438.9 609.7h0M1439.6 641.4h0M1440.3 625.8h0M1441 660.9h0M1441.7 616.3h0M1442.3 601.3h0M1443 635.2h0M1443.7 627.4h0M1444.4 625.7h0M1445.1 603.6h0M1445.8 641.9h0M1446.5 653.2h0M1447.2 593.4h0M1447.9 638.9h0M1448.6 608h0M1449.3 650h0M1450 614.9h0M1450.7 604.2h0M1451.4 625.6h0M1452.1 621.2h0M1452.8 601.8h0M1453.5 629.5h0M1454.1 606.7h0M1454.8 598h0M1455.5 659h0M1456.2 617.3h0M1456.9 604.9h0M1457.6 603.8h0M1458.3 571.7h0M1459 574.7h0M1459.7 595.8h0M1460.4 586.9h0M1461.1 605.4h0M1461.8 619h0M1462.5 594.8h0M1463.2 596.8h0M1463.9 600.9h0M1464.6 571.7h0M1465.3 596.9h0M1465.9 577.3h0M1466.6 604.6h0M1467.3 599.6h0M1468 595h0M1468.7 574.2h0M1469.4 601.2h0M1470.1 590.2h0M1470.8 611.9h0M1471.5 588.9h0M1472.2 570.2h0M1472.9 605.7h0M1473.6 603.5h0M1474.3 580.8h0M1475 606.4h0M1475.7 582.6h0M1476.4 582.3h0M1477 587.5h0M1477.7 569.9h0M1478.4 585.9h0M1479.1 589.3h0M1479.8 613.5h0M1480.5 605.8h0M1481.2 574.6h0M1481.9 610.5h0M1482.6 586.8h0M1483.3 592h0M1484 601.1h0M1484.7 589.6h0M1485.4 620.4h0M1486.1 591.8h0M1486.8 568.9h0M1487.5 622h0M1488.2 588.4h0M1488.8 588.4h0M1489.5 546.9h0M1490.2 610.7h0M1490.9 600h0M1491.6 595.5h0M1492.3 599.8h0M1493 614.5h0M1493.7 586.5h0M1494.4 608.5h0M1495.1 585.6h0M1495.8 592.6h0M1496.5 615.3h0M1497.2 602.5h0M1497.9 577h0M1498.6 607.5h0M1499.3 598.2h0M1500 589.9h0M1500.6 607.1h0M1501.3 587h0M1502 566.8h0M1502.7 579.1h0M1503.4 626.1h0M1504.1 582.4h0M1504.8 608.4h0M1505.5 617.3h0M1506.2 622.4h0M1506.9 596.8h0M1507.6 606.7h0M1508.3 611.7h0M1509 621.8h0M1509.7 594.8h0M1510.4 588.9h0M1511.1 627.1h0M1511.8 626.6h0M1512.4 623.2h0M1513.1 605.1h0M1513.8 618.2h0M1514.5 611.6h0M1515.2 620.3h0M1515.9 589h0M1516.6 610.4h0M1517.3 613.6h0M1518 599.6h0M1518.7 621.6h0M1519.4 616.2h0M1520.1 601.8h0M1520.8 615h0M1521.5 581.6h0M1522.2 609.1h0M1522.9 617.7h0M1523.6 623.1h0M1524.2 636.5h0M1524.9 598.9h0M1525.6 592h0M1526.3 619.4h0M1527 623.6h0M1527.7 652.7h0M1528.4 620.8h0M1529.1 596h0M1529.8 633.6h0M1530.5 600.7h0M1531.2 584.9h0M1531.9 646.5h0M1532.6 599.6h0M1533.3 611.9h0M1534 608.3h0M1534.7 628.3h0M1535.3 610.5h0M1536 634.2h0M1536.7 587.8h0M1537.4 583.6h0M1538.1 629.9h0M1538.8 630.6h0M1539.5 614.6h0M1540.2 608.2h0M1540.9 613.9h0M1541.6 600.5h0M1542.3 638h0M1543 627.6h0M1543.7 625.6h0M1544.4 623.3h0M1545.1 633.2h0M1545.8 630.2h0M1546.5 634.7h0M1547.1 600.3h0M1547.8 622.8h0M1548.5 649.2h0M1549.2 600.7h0M1549.9 609.4h0M1550.6 629.9h0M1551.3 622.7h0M1552 620.2h0M1552.7 589.1h0M1553.4 627.4h0M1554.1 596.5h0M1554.8 610.4h0M1555.5 631.4h0M1556.2 613.2h0M1556.9 630.2h0M1557.6 673.7h0M1558.3 641.8h0M1558.9 648.7h0M1559.6 623.2h0M1560.3 622.7h0M1561 614.6h0M1561.7 621.5h0M1562.4 614.1h0M1563.1 616.5h0M1563.8 628.8h0M1564.5 621.4h0M1565.2 615.9h0M1565.9 621.6h0M1566.6 651h0M1567.3 638.5h0M1568 656.5h0M1568.7 666.1h0M1569.4 648.1h0M1222.2 642.6h0M1222.2 648.2h0M1202.8 626.9h0M1277 644.1h0M1303.6 659.8h0M1319.3 564.3h0M1358.5 655.7h0M1353.8 642.6h0M1357.8 436.8h0M1375.1 642.6h0M1394.5 653.5h0M1406.4 654.5h0M1418.9 662.9h0M1432.1 662.9h0M1444.6 664.5h0M1439.9 680.2h0M1440.9 689.6h0M1436.8 571.2h0M1460.3 570.5h0M1479.1 561.1h0M1466.5 636.3h0M1502.6 562.7h0M1497.9 554.9h0M1513.5 656.7h0M1532.3 579.9h0M1544.9 562.7h0M1367.9 510.4h0M1357.5 526.7h0M1375.7 522h0M1382 522.9h0M1392.3 531.4h0M1369.4 536.1h0M1375.7 543.9h0M1383.5 545.5h0M1392.9 547h0M1366.3 554.9h0M1374.1 559.6h0M1383.5 561.1h0M1375.7 567.4h0M1386.7 569.9h0M1378.8 576.8h0M1364.7 579h0M1349.1 582.1h0M1356.9 583.1h0M1570.6 641.4h0M1571.3 673.6h0M1572 651.4h0M1572.7 680.3h0M1573.4 665.7h0M1574.1 649.6h0M1574.8 677h0M1575.5 662.7h0M1576.2 655.1h0M1576.9 646.6h0M1577.6 668.4h0M1578.2 667.3h0M1578.9 666.4h0M1579.6 659.3h0M1580.3 683.7h0M1581 654.9h0M1581.7 643.4h0M1582.4 670.5h0M1583.1 664.8h0M1583.8 646.6h0M1584.5 611h0M1585.2 627.8h0M1585.9 639.4h0M1586.6 628.3h0M1587.3 639.8h0M1588 595.6h0M1588.7 617h0M1589.4 594.9h0M1590 620h0M1590.7 603.8h0M1591.4 609.1h0M1592.1 588.5h0M1592.8 572.9h0M1593.5 582h0M1594.2 581.4h0M1594.9 574h0M1595.6 599h0M1596.3 609.4h0M1597 591.8h0M1597.7 576.6h0M1598.4 587.4h0M1599.1 574.3h0M1599.8 603.6h0M1600.5 593.1h0M1601.2 596h0M1601.8 589.2h0M1602.5 566.3h0M1603.2 582.8h0M1603.9 576.8h0M1604.6 598.6h0M1605.3 602h0M1606 590h0M1606.7 594.4h0M1607.4 615.8h0M1608.1 578.4h0M1608.8 583.8h0M1609.5 587h0M1610.2 577.4h0M1610.9 581.4h0M1611.6 593.1h0M1612.3 616.2h0M1613 559.6h0M1613.6 585.3h0M1614.3 589.5h0M1615 583.4h0M1615.7 580.9h0M1616.4 581.1h0M1617.1 605.1h0M1617.8 581.3h0M1618.5 579.4h0M1619.2 586.1h0M1619.9 593.8h0M1620.6 587.4h0M1621.3 594.6h0M1622 588.5h0M1622.7 589.7h0M1623.4 591.1h0M1624.1 577.5h0M1624.7 577.4h0M1625.4 571.9h0M1626.1 593.9h0M1626.8 586.4h0M1627.5 571.1h0M1628.2 584.2h0M1628.9 594.7h0M1629.6 562.8h0M1630.3 600.7h0M1631 579.9h0M1631.7 578h0M1632.4 591.8h0M1633.1 577.7h0M1633.8 568.7h0M1634.5 601.5h0M1635.2 563.8h0M1635.9 573.1h0M1636.5 583.9h0M1637.2 561.5h0M1637.9 577.6h0M1638.6 584.6h0M1639.3 607.1h0M1640 571.4h0M1640.7 582.4h0M1641.4 593.4h0M1642.1 587.6h0M1642.8 578.4h0M1643.5 598.4h0M1644.2 592.7h0M1644.9 593.9h0M1645.6 602.7h0M1646.3 601.8h0M1647 594.5h0M1647.7 588.7h0M1580 689.6h0M1581.6 684.9h0M1592.5 539.8h0M1594.1 545.5h0M1592.5 556.4h0M1591 564.3h0M1607.6 560.2h0M1619.2 556.4h0M1635.8 551.1h0M1645.8 614.4h0M1644.9 642.8h0M1645.6 662.4h0M1646.3 669.6h0M1646.9 671.2h0M1647.6 633.6h0M1648.3 674.9h0M1649 655.3h0M1649.7 669.8h0M1650.4 671.1h0M1651.1 645h0M1651.8 656.6h0M1652.5 617.1h0M1653.2 643.7h0M1653.9 638.3h0M1654.6 689.3h0M1655.3 683.5h0M1656 701.4h0M1656.7 681.3h0M1657.4 660.5h0M1658 687.1h0M1658.7 663.9h0M1659.4 690.8h0M1660.1 693h0M1660.8 670.3h0M1661.5 681h0M1662.2 676.2h0M1662.9 660h0M1663.6 694.9h0M1664.3 717.2h0M1665 676h0M1653.6 633.2h0M1664.6 633.2h0M1666.2 738.1h0M1675.6 626.9h0M1681.8 637.9h0M1695 634.7h0M1681.8 719.3h0M1677.1 649.9h0M1677.8 655.3h0M1678.5 668.6h0M1679.2 671.8h0M1679.9 661.9h0M1680.6 670.1h0M1681.3 683.4h0M1682 682.3h0M1682.7 669.1h0M1683.4 650.8h0M1684.1 672.9h0M1684.8 676.2h0M1685.5 669.9h0M1686.2 664.4h0M1686.8 663.9h0M1687.5 684.3h0M1688.2 676.4h0M1688.9 678.1h0M1689.6 669.4h0M1690.3 675h0M1691 675.4h0M1691.7 659.4h0M1692.4 658.8h0M1693.1 678.2h0M1693.8 700.6h0M1694.5 686.7h0M1695.2 704.8h0M1695.9 687.7h0M1696.6 684.5h0M1697.3 668.4h0M1698 679.4h0M1698.6 713.9h0M1699.3 697.2h0M1700 698.6h0M1700.7 703.8h0M1701.4 691h0M1702.1 691.4h0M1702.8 697.8h0M1703.5 711.6h0M1704.2 712h0M1704.9 708.6h0M1705.6 701.9h0M1706.3 681h0M1707 696.3h0M1707.7 686.5h0M1708.4 723.1h0M1709.1 670.6h0M1709.8 690.6h0M1710.4 740h0M1711.1 696.4h0M1711.8 683.1h0M1712.5 700.7h0M1713.2 724.6h0M1713.9 702.9h0M1714.6 706.9h0M1715.3 704h0M1716 693h0M1716.7 748.8h0M1717.4 705.7h0M1718.1 698h0M1718.8 695.9h0M1719.5 700.5h0M1720.2 702.7h0M1720.9 711h0M1721.5 699h0M1722.2 666.3h0M1722.9 696.1h0M1723.6 677h0M1724.3 679.4h0M1725 665.1h0M1725.7 684.6h0M1726.4 678.2h0M1727.1 691.2h0M1727.8 670.3h0M1728.5 692.6h0M1729.2 693.5h0M1729.9 683.1h0M1730.6 691h0M1731.3 690.4h0M1732 715.7h0M1732.7 657.4h0M1733.3 684.6h0M1734 663h0M1734.7 689.6h0M1735.4 719.6h0M1736.1 697.6h0M1736.8 709.2h0M1737.5 689.6h0M1738.2 729.8h0M1738.9 709.5h0M1739.6 712.2h0M1740.3 665.6h0M1741 671.3h0M1741.7 699.2h0M1742.4 669.3h0M1743.1 663.9h0M1743.8 666.1h0M1744.5 636.1h0M1745.1 674.5h0M1745.8 662.5h0M1746.5 670.4h0M1747.2 657h0M1747.9 677.7h0M1748.6 654.3h0M1749.3 683.5h0M1750 685.5h0M1750.7 679.1h0M1751.4 673.4h0M1752.1 665.9h0M1752.8 610.5h0M1753.5 664.3h0M1754.2 649.9h0M1754.9 653.1h0M1755.6 645.4h0M1756.3 631.3h0M1756.9 648.4h0M1757.6 667.1h0M1758.3 681.5h0M1759 642.3h0M1759.7 633.5h0M1760.4 670.7h0M1761.1 629h0M1761.8 673.3h0M1762.5 647.6h0M1763.2 628.4h0M1763.9 653.4h0M1764.6 666.4h0M1765.3 622.1h0M1766 670h0M1766.7 642.9h0M1767.4 666.8h0M1768.1 631.8h0M1768.7 608h0M1769.4 640.7h0M1770.1 655.5h0M1770.8 667.5h0M1771.5 668.1h0M1772.2 644.3h0M1772.9 627.6h0M1773.6 626.1h0M1774.3 631.7h0M1775 623.3h0M1775.7 622.9h0M1776.4 587.4h0M1777.1 627.8h0M1777.8 637h0M1778.5 676.8h0M1779.2 647h0M1779.8 619.2h0M1780.5 635h0M1781.2 599.7h0M1781.9 616.2h0M1782.6 594h0M1783.3 651.1h0M1784 634.2h0M1784.7 603.8h0M1785.4 629.8h0M1786.1 642h0M1786.8 626.4h0M1787.5 627.7h0M1788.2 602.8h0M1788.9 606.4h0M1789.6 624.3h0M1790.3 634.8h0M1791 610.4h0M1791.6 602.7h0M1792.3 647.8h0M1793 620h0M1793.7 649.4h0M1794.4 633.6h0M1795.1 638.2h0M1795.8 651.2h0M1796.5 637h0M1797.2 628.8h0M1797.9 605.9h0M1798.6 601.6h0M1799.3 617.1h0M1800 622.3h0M1800.7 629.7h0M1801.4 641.9h0M1802.1 612.9h0M1802.8 606.4h0M1803.4 619.9h0M1804.1 596.5h0M1804.8 595.5h0M1805.5 589.9h0M1806.2 612.4h0M1806.9 583.6h0M1807.6 604.4h0M1808.3 574.1h0M1809 605.7h0M1809.7 579.2h0M1810.4 603.2h0M1811.1 570.5h0M1811.8 581.7h0M1812.5 601.8h0M1813.2 572.8h0M1813.9 589h0M1814.6 584.3h0M1815.2 559.5h0M1815.9 585.1h0M1816.6 591.3h0M1817.3 575.8h0M1818 594.7h0M1818.7 572.2h0M1819.4 568.5h0M1820.1 587.1h0M1820.8 577.8h0M1821.5 614h0M1822.2 572.3h0M1822.9 604.9h0M1823.6 609.2h0M1824.3 577.5h0M1825 581h0M1825.7 611.3h0M1826.4 604.4h0M1827 613.2h0M1827.7 616.8h0M1828.4 602.8h0M1829.1 600.4h0M1725.7 744.4h0M1710 731.9h0M1735.1 731.9h0M1766.4 692.1h0M1768 595.6h0M1814 537.6h0M1813.4 554.2h0M1804 564.3h0M1821.2 639.4h0M1849.4 614.4h0M1823.4 665.5h0M1824.1 689.4h0M1824.8 683.3h0M1825.5 685.1h0M1826.2 693.4h0M1826.9 690.7h0M1827.6 669.3h0M1828.3 670.2h0M1829 705.2h0M1829.7 650.9h0M1830.4 663.2h0M1831.1 688h0M1831.8 668.6h0M1832.5 656.9h0M1833.2 651.1h0M1833.8 680.6h0M1834.5 689h0M1835.2 695.7h0M1835.9 669.2h0M1836.6 679.3h0M1837.3 646.1h0M1838 667.2h0M1838.7 650.6h0M1839.4 662.1h0M1840.1 683h0M1840.8 682.6h0M1841.5 643.9h0M1842.2 683.7h0M1842.9 645.3h0M1843.6 636.2h0M1844.3 659.8h0M1844.9 638.4h0M1845.6 665.8h0M1846.3 670.8h0M1847 659h0M1847.7 673.7h0M1848.4 654.7h0M1849.1 656h0M1849.8 630.1h0M1850.5 658.7h0M1851.2 642.8h0M1851.9 650.2h0M1852.6 644.1h0M1853.3 654h0M1854 632.7h0M1854.7 637.3h0" stroke="#0000ff" stroke-width="13.2" stroke-linecap="round" fill="none"/>
<path d="M258.3 476.1 L262.3 474.1 L266.3 472.7 L270.3 472 L274.3 471.9 L278.3 472.5 L282.3 473.5 L286.3 475 L290.3 476.8 L294.2 478.8 L298.2 480.9 L302.2 482.8 L306.2 484.6 L310.2 486 L314.2 487 L318.2 487.5 L322.2 487.4 L326.2 486.8 L330.2 485.6 L334.2 483.9 L338.2 481.7 L342.2 479 L346.2 476.1 L350.2 473 L354.2 469.8 L358.2 466.8 L362.2 464 L366.1 461.5 L370.1 459.6 L374.1 458.3 L378.1 457.8 L382.1 458 L386.1 459.1 L390.1 461.1 L394.1 463.9 L398.1 467.5 L402.1 471.9 L406.1 476.8 L410.1 482.3 L414.1 488.1 L418.1 494.1 L422.1 500.1 L426.1 506 L430.1 511.6 L434 516.6 L438 521.1 L442 524.8 L446 527.7 L450 529.6 L454 530.6 L458 530.7 L462 529.8 L466 528 L470 525.5 L474 522.2 L478 518.4 L482 514.1 L486 509.6 L490 505 L494 500.4 L498 496.1 L501.9 492 L505.9 488.5 L509.9 485.5 L513.9 483.1 L517.9 481.4 L521.9 480.4 L525.9 480 L529.9 480.3 L533.9 481.2 L537.9 482.5 L541.9 484.1 L545.9 486.1 L549.9 488.1 L553.9 490.1 L557.9 492 L561.9 493.5 L565.9 494.7 L569.9 495.5 L573.8 495.7 L577.8 495.3 L581.8 494.4 L585.8 492.9 L589.8 490.9 L593.8 488.5 L597.8 485.7 L601.8 482.6 L605.8 479.5 L609.8 476.3 L613.8 473.4 L617.8 470.8 L621.8 468.6 L625.8 467 L629.8 466.1 L633.8 466 L637.8 466.7 L641.7 468.3 L645.7 470.7 L649.7 473.9 L653.7 477.9 L657.7 482.6 L661.7 487.9 L665.7 493.5 L669.7 499.5 L673.7 505.5 L677.7 511.5 L681.7 517.2 L685.7 522.5 L689.7 527.3 L693.7 531.3 L697.7 534.6 L701.7 537 L705.7 538.5 L709.6 539 L713.6 538.5 L717.6 537.1 L721.6 534.9 L725.6 532 L729.6 528.4 L733.6 524.3 L737.6 519.9 L741.6 515.3 L745.6 510.7 L749.6 506.2 L753.6 502.1 L757.6 498.3 L761.6 495 L765.6 492.3 L769.6 490.3 L773.6 488.9 L777.6 488.3 L781.5 488.3 L785.5 488.9 L789.5 490 L793.5 491.5 L797.5 493.3 L801.5 495.3 L805.5 497.3 L809.5 499.3 L813.5 501 L817.5 502.4 L821.5 503.4 L825.5 503.8 L829.5 503.8 L833.5 503.1 L837.5 501.9 L841.5 500.1 L845.5 497.8 L849.4 495.2 L853.4 492.2 L857.4 489.1 L861.4 486 L865.4 482.9 L869.4 480.1 L873.4 477.7 L877.4 475.9 L881.4 474.6 L885.4 474.1 L889.4 474.4 L893.4 475.6 L897.4 477.6 L901.4 480.5 L905.4 484.2 L909.4 488.5 L913.4 493.5 L917.3 499 L921.3 504.9 L925.3 510.9 L929.3 516.9 L933.3 522.7 L937.3 528.3 L941.3 533.3 L945.3 537.7 L949.3 541.4 L953.3 544.2 L957.3 546.1 L961.3 547 L965.3 547 L969.3 546.1 L973.3 544.2 L977.3 541.6 L981.3 538.3 L985.3 534.4 L989.2 530.2 L993.2 525.7 L997.2 521 L1001.2 516.5 L1005.2 512.1 L1009.2 508.1 L1013.2 504.6 L1017.2 501.7 L1021.2 499.3 L1025.2 497.7 L1029.2 496.7 L1033.2 496.4 L1037.2 496.7 L1041.2 497.6 L1045.2 498.9 L1049.2 500.6 L1053.2 502.6 L1057.1 504.6 L1061.1 506.6 L1065.1 508.4 L1069.1 510 L1073.1 511.2 L1077.1 511.9 L1081.1 512 L1085.1 511.7 L1089.1 510.7 L1093.1 509.2 L1097.1 507.1 L1101.1 504.6 L1105.1 501.8 L1109.1 498.8 L1113.1 495.6 L1117.1 492.5 L1121.1 489.6 L1125 487 L1129 484.8 L1133 483.3 L1137 482.4 L1141 482.4 L1145 483.1 L1149 484.7 L1153 487.2 L1157 490.5 L1161 494.6 L1165 499.3 L1169 504.6 L1173 510.3 L1177 516.2 L1181 522.3 L1185 528.2 L1189 533.9 L1193 539.2 L1196.9 543.9 L1200.9 547.9 L1204.9 551.2 L1208.9 553.5 L1212.9 554.9 L1216.9 555.3 L1220.9 554.8 L1224.9 553.4 L1228.9 551.1 L1232.9 548.1 L1236.9 544.5 L1240.9 540.4 L1244.9 536 L1248.9 531.4 L1252.9 526.8 L1256.9 522.3 L1260.9 518.1 L1264.8 514.4 L1268.8 511.1 L1272.8 508.5 L1276.8 506.5 L1280.8 505.2 L1284.8 504.6 L1288.8 504.7 L1292.8 505.3 L1296.8 506.4 L1300.8 508 L1304.8 509.8 L1308.8 511.8 L1312.8 513.8 L1316.8 515.8 L1320.8 517.5 L1324.8 518.8 L1328.8 519.8 L1332.7 520.2 L1336.7 520.1 L1340.7 519.4 L1344.7 518.1 L1348.7 516.3 L1352.7 514 L1356.7 511.3 L1360.7 508.4 L1364.7 505.3 L1368.7 502.1 L1372.7 499.1 L1376.7 496.3 L1380.7 493.9 L1384.7 492.1 L1388.7 490.9 L1392.7 490.5 L1396.7 490.8 L1400.7 492.1 L1404.6 494.1 L1408.6 497.1 L1412.6 500.8 L1416.6 505.2 L1420.6 510.2 L1424.6 515.8 L1428.6 521.6 L1432.6 527.6 L1436.6 533.6 L1440.6 539.5 L1444.6 545 L1448.6 550 L1452.6 554.3 L1456.6 557.9 L1460.6 560.7 L1464.6 562.5 L1468.6 563.4 L1472.5 563.3 L1476.5 562.3 L1480.5 560.4 L1484.5 557.8 L1488.5 554.4 L1492.5 550.5 L1496.5 546.2 L1500.5 541.7 L1504.5 537.1 L1508.5 532.5 L1512.5 528.2 L1516.5 524.2 L1520.5 520.8 L1524.5 517.8 L1528.5 515.5 L1532.5 513.9 L1536.5 513 L1540.4 512.7 L1544.4 513.1 L1548.4 514 L1552.4 515.4 L1556.4 517.1 L1560.4 519 L1564.4 521.1 L1568.4 523.1 L1572.4 524.9 L1576.4 526.4 L1580.4 527.6 L1584.4 528.2 L1588.4 528.4 L1592.4 528 L1596.4 527 L1600.4 525.4 L1604.4 523.3 L1608.4 520.8 L1612.3 518 L1616.3 514.9 L1620.3 511.7 L1624.3 508.6 L1628.3 505.7 L1632.3 503.2 L1636.3 501.1 L1640.3 499.6 L1644.3 498.8 L1648.3 498.7 L1652.3 499.6 L1656.3 501.2 L1660.3 503.8 L1664.3 507.1 L1668.3 511.2 L1672.3 516 L1676.3 521.3 L1680.2 527 L1684.2 533 L1688.2 539 L1692.2 545 L1696.2 550.6 L1700.2 555.9 L1704.2 560.6 L1708.2 564.5 L1712.2 567.7 L1716.2 570 L1720.2 571.3 L1724.2 571.7 L1728.2 571.1 L1732.2 569.6 L1736.2 567.3 L1740.2 564.2 L1744.2 560.6 L1748.1 556.4 L1752.1 552 L1756.1 547.4 L1760.1 542.8 L1764.1 538.4 L1768.1 534.2 L1772.1 530.5 L1776.1 527.3 L1780.1 524.7 L1784.1 522.8 L1788.1 521.5 L1792.1 521 L1796.1 521 L1800.1 521.7 L1804.1 522.9 L1808.1 524.4 L1812.1 526.3 L1816.1 528.3 L1820 530.3 L1824 532.2 L1828 533.9 L1832 535.3 L1836 536.2 L1840 536.6 L1844 536.4 L1848 535.7 L1852 534.4" stroke="#ff0000" stroke-width="8" fill="none" stroke-linejoin="round"/>
<path d="M275.1 119v-9.8M275.1 757v9.8M338.5 119v-18.7M338.5 757v18.7M401.9 119v-9.8M401.9 757v9.8M465.2 119v-9.8M465.2 757v9.8M528.6 119v-9.8M528.6 757v9.8M592 119v-18.7M592 757v18.7M655.4 119v-9.8M655.4 757v9.8M718.8 119v-9.8M718.8 757v9.8M782.1 119v-9.8M782.1 757v9.8M845.5 119v-18.7M845.5 757v18.7M908.9 119v-9.8M908.9 757v9.8M972.2 119v-9.8M972.2 757v9.8M1035.6 119v-9.8M1035.6 757v9.8M1099 119v-18.7M1099 757v18.7M1162.4 119v-9.8M1162.4 757v9.8M1225.8 119v-9.8M1225.8 757v9.8M1289.1 119v-9.8M1289.1 757v9.8M1352.5 119v-18.7M1352.5 757v18.7M1415.9 119v-9.8M1415.9 757v9.8M1479.2 119v-9.8M1479.2 757v9.8M1542.6 119v-9.8M1542.6 757v9.8M1606 119v-18.7M1606 757v18.7M1669.4 119v-9.8M1669.4 757v9.8M1732.8 119v-9.8M1732.8 757v9.8M1796.1 119v-9.8M1796.1 757v9.8M1859.5 119v-18.7M1859.5 757v18.7M226 230h-18.7M1884 230h18.7M226 360.7h-18.7M1884 360.7h18.7M226 491.4h-18.7M1884 491.4h18.7M226 622.2h-18.7M1884 622.2h18.7M226 752.9h-18.7M1884 752.9h18.7" stroke="#000" stroke-width="2.4" fill="none"/>
<rect x="226" y="119" width="1658" height="638" fill="none" stroke="#000" stroke-width="6.0"/>
<text transform="translate(338.2 823) scale(1 1.08)" text-anchor="middle" font-family="Liberation Sans, sans-serif" font-weight="bold" font-size="41.5">2020</text>
<text transform="translate(591.7 823) scale(1 1.08)" text-anchor="middle" font-family="Liberation Sans, sans-serif" font-weight="bold" font-size="41.5">2021</text>
<text transform="translate(845.2 823) scale(1 1.08)" text-anchor="middle" font-family="Liberation Sans, sans-serif" font-weight="bold" font-size="41.5">2022</text>
<text transform="translate(1098.7 823) scale(1 1.08)" text-anchor="middle" font-family="Liberation Sans, sans-serif" font-weight="bold" font-size="41.5">2023</text>
<text transform="translate(1352.2 823) scale(1 1.08)" text-anchor="middle" font-family="Liberation Sans, sans-serif" font-weight="bold" font-size="41.5">2024</text>
<text transform="translate(1605.7 823) scale(1 1.08)" text-anchor="middle" font-family="Liberation Sans, sans-serif" font-weight="bold" font-size="41.5">2025</text>
<text transform="translate(1859.2 823) scale(1 1.08)" text-anchor="middle" font-family="Liberation Sans, sans-serif" font-weight="bold" font-size="41.5">2026</text>
<text transform="translate(190.6 245.9) scale(1 1.08)" text-anchor="end" font-family="Liberation Sans, sans-serif" font-weight="bold" font-size="41.5">20</text>
<text transform="translate(190.6 376.6) scale(1 1.08)" text-anchor="end" font-family="Liberation Sans, sans-serif" font-weight="bold" font-size="41.5">10</text>
<text transform="translate(190.6 507.3) scale(1 1.08)" text-anchor="end" font-family="Liberation Sans, sans-serif" font-weight="bold" font-size="41.5">0</text>
<text transform="translate(190.6 638.1) scale(1 1.08)" text-anchor="end" font-family="Liberation Sans, sans-serif" font-weight="bold" font-size="41.5">−10</text>
<text transform="translate(190.6 768.8) scale(1 1.08)" text-anchor="end" font-family="Liberation Sans, sans-serif" font-weight="bold" font-size="41.5">−20</text>
<text transform="translate(89.9 437.6) rotate(-90) scale(1 1.065)" text-anchor="middle" font-family="Liberation Sans, sans-serif" font-size="42.3">East (mm)</text>
<text x="1816" y="159" text-anchor="end" font-family="Liberation Sans, sans-serif" font-weight="bold" font-size="35.4">-0.603+/- 0.644 mm/yr</text>
<path d="M258.5 1548.2h0M259.2 1544.8h0M259.9 1549.8h0M260.6 1535.6h0M261.3 1549.2h0M262 1529.4h0M262.7 1537.5h0M263.4 1541.1h0M264.1 1506.4h0M264.8 1532.7h0M265.5 1522.3h0M266.2 1520.1h0M266.9 1533.1h0M267.6 1539.1h0M268.3 1551h0M268.9 1525h0M269.6 1554.1h0M270.3 1560.2h0M271 1547.4h0M271.7 1549.3h0M272.4 1545.5h0M273.1 1539.3h0M273.8 1555.1h0M274.5 1551.3h0M275.8 1464.5h0M259.2 1513.3h0M333.4 1560.3h0M323.4 1553.1h0M387.6 1449.7h0M436.2 1346.4h0M437.7 1358.9h0M484.7 1293.7h0M505.1 1290.6h0M502 1307.2h0M556.2 1438.2h0M271.7 1480.3h0M272.4 1477.8h0M273.1 1483.6h0M273.8 1478.7h0M274.5 1488.7h0M275.2 1488.6h0M275.9 1494.5h0M276.6 1488.4h0M277.2 1479.6h0M277.9 1499.2h0M278.6 1492.1h0M279.3 1502.8h0M280 1497.9h0M280.7 1504.3h0M281.4 1509.7h0M282.1 1502.5h0M282.8 1508.6h0M283.5 1489.6h0M284.2 1505.8h0M284.9 1501.6h0M285.6 1500.8h0M286.3 1501.5h0M287 1501.6h0M287.7 1512.5h0M288.3 1489.3h0M289 1503.8h0M289.7 1497.7h0M290.4 1510.8h0M291.1 1503.5h0M291.8 1509.9h0M292.5 1506.7h0M293.2 1515.4h0M293.9 1518.2h0M294.6 1506.9h0M295.3 1513.2h0M296 1505h0M296.7 1519.4h0M297.4 1520.1h0M298.1 1508.8h0M298.8 1518h0M299.5 1497.8h0M300.1 1503.7h0M300.8 1509.6h0M301.5 1517h0M302.2 1521.9h0M302.9 1523.4h0M303.6 1523.7h0M304.3 1529.9h0M305 1523.6h0M305.7 1515.9h0M306.4 1517.1h0M307.1 1539.9h0M307.8 1515h0M308.5 1528.1h0M309.2 1536.8h0M309.9 1531.9h0M310.6 1527.8h0M311.3 1532.5h0M312.4 1482.6h0M313.1 1474.9h0M313.8 1486.7h0M314.5 1478.9h0M315.2 1482.3h0M315.9 1500h0M316.6 1503.1h0M317.3 1491.5h0M318 1510h0M318.7 1513.4h0M319.4 1510.6h0M320.1 1522.2h0M320.7 1506.1h0M321.4 1515h0M322.1 1513.6h0M322.8 1520.1h0M323.5 1540.3h0M324.2 1522.4h0M324.9 1525.9h0M325.6 1528.2h0M326.3 1540.4h0M327 1537.5h0M327.7 1552.1h0M328.4 1540.8h0M329.1 1536.2h0M329.8 1544.5h0M330.5 1548.1h0M331.2 1541.2h0M331.9 1554.6h0M332.5 1563.7h0M333.2 1545h0M333.9 1546.7h0M334.6 1551.4h0M335.3 1530.4h0M336 1529.6h0M336.7 1523.9h0M337.4 1532.6h0M338.1 1531.3h0M338.8 1522h0M339.5 1520.8h0M340.2 1531.9h0M340.9 1534.2h0M341.6 1517.7h0M342.3 1528.9h0M343 1525.4h0M343.7 1528.9h0M344.3 1519.5h0M345 1518.2h0M345.7 1518.6h0M346.4 1509.8h0M347.1 1521.7h0M347.8 1516.2h0M348.5 1520.9h0M349.2 1512.2h0M349.9 1513.5h0M350.6 1507.3h0M351.3 1506.4h0M352 1519h0M352.7 1511.2h0M353.4 1521.3h0M354.1 1509.3h0M354.8 1519.7h0M355.4 1504.9h0M356.1 1516.7h0M356.8 1511.7h0M357.5 1522.7h0M358.2 1517.2h0M358.9 1511.5h0M359.6 1521.7h0M360.3 1515.1h0M361 1520.1h0M361.7 1525.5h0M362.4 1510.8h0M363.1 1509.7h0M363.8 1521.8h0M364.5 1515.8h0M365.2 1525.6h0M365.9 1530.3h0M366.6 1521.5h0M367.2 1504.8h0M367.9 1497.2h0M368.6 1510.5h0M369.3 1506.2h0M370 1516.7h0M370.7 1501.8h0M371.4 1497.4h0M372.1 1505.6h0M372.8 1497.5h0M373.5 1504.9h0M374.2 1520.6h0M374.9 1521h0M375.6 1507.8h0M376.3 1499.7h0M377 1479.5h0M377.7 1497.2h0M378.4 1490.3h0M379 1498h0M379.7 1489.6h0M380.4 1493.2h0M381.1 1484.8h0M381.8 1493.1h0M382.5 1501.5h0M383.2 1488.8h0M383.9 1460.9h0M384.6 1469.5h0M385.3 1464.7h0M386 1468h0M386.7 1478.4h0M387.4 1475.7h0M388.1 1467.2h0M388.8 1472.5h0M389.5 1466.4h0M390.2 1457.6h0M390.8 1453.8h0M391.5 1455h0M392.2 1465.9h0M392.9 1440.8h0M393.6 1464.3h0M394.3 1464.3h0M395 1448.8h0M395.7 1449.3h0M396.4 1437.9h0M397.1 1441h0M397.8 1446.2h0M398.5 1439.7h0M399.2 1442.9h0M399.9 1443.8h0M400.6 1438.1h0M401.3 1433.8h0M402 1429.6h0M402.6 1426.1h0M403.3 1407.5h0M404 1420.3h0M404.7 1416.6h0M405.4 1407h0M406.1 1429.6h0M406.8 1402.5h0M407.5 1404.2h0M408.2 1417.2h0M408.9 1396.7h0M409.6 1400.9h0M410.3 1397.1h0M411 1401.5h0M411.7 1408.3h0M412.4 1410.9h0M413.1 1421.6h0M413.7 1417.1h0M414.4 1419.9h0M415.1 1408.9h0M415.8 1398.1h0M416.5 1409.1h0M417.2 1396h0M417.9 1395.3h0M418.6 1410.9h0M419.3 1408.6h0M420 1400h0M420.7 1403.5h0M421.4 1404.5h0M422.1 1382.6h0M422.8 1394.6h0M423.5 1386.4h0M424.2 1395.5h0M424.9 1392.7h0M425.5 1408.1h0M426.2 1400.7h0M426.9 1386.3h0M427.6 1388.4h0M428.3 1377.4h0M429 1387.7h0M429.7 1391.2h0M430.4 1390.1h0M431.1 1365.5h0M431.8 1375.9h0M432.5 1378.7h0M433.2 1381.1h0M433.9 1386.7h0M434.6 1365h0M435.3 1377.3h0M436 1369.7h0M436.7 1375.8h0M437.3 1378.7h0M438 1376.6h0M438.7 1370.2h0M439.4 1377.9h0M440.1 1368.5h0M440.8 1369.4h0M441.5 1384.4h0M442.2 1378.5h0M442.9 1366.6h0M443.6 1373.3h0M444.3 1379.3h0M450.3 1335.8h0M451 1325.3h0M451.7 1336.4h0M452.3 1339.2h0M453 1330.4h0M453.7 1345.6h0M454.4 1316.8h0M455.1 1328.5h0M455.8 1348.9h0M456.5 1325.4h0M457.2 1318h0M457.9 1346.2h0M458.6 1341.5h0M459.3 1324.4h0M460 1345.3h0M460.7 1327.8h0M461.4 1325.9h0M462.1 1335h0M462.8 1328.2h0M463.5 1323.2h0M464.1 1330.6h0M464.8 1328.9h0M465.5 1330.7h0M466.2 1328.1h0M466.9 1336.4h0M467.6 1322.3h0M468.3 1315h0M469 1319.7h0M469.7 1331.2h0M470.4 1343.1h0M471.1 1339.8h0M471.8 1328.9h0M472.5 1342.3h0M473.2 1324.3h0M473.9 1341.5h0M474.6 1327.1h0M475.2 1335.1h0M475.9 1335.5h0M476.6 1327.9h0M477.3 1336.6h0M478 1322.8h0M478.7 1324.5h0M479.4 1333.9h0M480.1 1360.1h0M480.8 1333.4h0M481.5 1328.7h0M482.2 1317.3h0M482.9 1337.9h0M483.6 1313.4h0M484.3 1322.3h0M485 1331.1h0M485.7 1315.2h0M486.4 1342.2h0M487 1333.2h0M487.7 1318.6h0M488.4 1321.4h0M489.1 1315.6h0M489.8 1317.7h0M490.5 1333.6h0M491.2 1334.2h0M491.9 1337.7h0M492.6 1336h0M493.3 1328.3h0M494 1333.1h0M494.7 1316.8h0M495.4 1331.5h0M496.1 1345.1h0M496.8 1343.8h0M497.5 1327.7h0M498.2 1330.8h0M498.8 1341.3h0M499.5 1345h0M500.2 1317.9h0M500.9 1325.9h0M501.6 1332.7h0M502.3 1340h0M503 1321.9h0M503.7 1339h0M504.4 1333h0M505.1 1358.2h0M505.8 1341.2h0M506.5 1338.1h0M507.2 1337.3h0M507.9 1350.6h0M508.6 1351.8h0M509.3 1334h0M510 1343.5h0M510.6 1329.2h0M511.3 1324.9h0M512 1318h0M512.7 1319.1h0M513.4 1326.8h0M514.1 1323.5h0M514.8 1339.1h0M515.5 1344.2h0M516.2 1334h0M516.9 1329.6h0M517.6 1348.6h0M518.3 1324.8h0M519 1322.4h0M519.7 1348.2h0M520.4 1346.2h0M521.1 1347h0M521.7 1337.2h0M522.4 1327.4h0M523.1 1336.3h0M523.8 1346.6h0M524.5 1338.1h0M525.2 1338.9h0M525.9 1330.1h0M526.6 1330.8h0M527.3 1349.2h0M528 1345h0M528.7 1338.1h0M529.4 1337.1h0M530.1 1340.1h0M530.8 1353.4h0M531.5 1338.3h0M532.2 1347.6h0M532.9 1326.6h0M533.5 1335.8h0M534.2 1354.8h0M534.9 1361.1h0M535.6 1338.9h0M536.3 1343.3h0M537 1360.7h0M537.7 1350.1h0M538.4 1339.2h0M539.1 1348h0M539.8 1343.8h0M540.5 1353.9h0M541.2 1352.6h0M541.9 1343h0M542.6 1349.9h0M543.3 1350.8h0M544 1339.2h0M544.7 1348.5h0M545.3 1365.3h0M546 1343h0M546.7 1370.7h0M547.4 1364.6h0M548.1 1355.6h0M548.8 1363.5h0M549.5 1362.3h0M550.2 1367.8h0M550.9 1356.6h0M551.6 1358.7h0M552.3 1357.2h0M553 1376.2h0M553.7 1368.5h0M554.4 1352.1h0M555.1 1356.9h0M555.8 1353.5h0M556.5 1357.7h0M557.1 1357.6h0M648.3 1400.6h0M647.6 1387.1h0M649.2 1379.3h0M675.8 1271.2h0M693.1 1235.2h0M689.9 1243h0M691.5 1252.4h0M649.2 1377h0M649.9 1369.2h0M650.6 1362.9h0M651.3 1374.7h0M652 1362.6h0M652.7 1359.9h0M653.4 1353.9h0M654.1 1349.6h0M654.8 1344.5h0M655.4 1341h0M656.1 1331.5h0M656.8 1342.5h0M657.5 1325.6h0M658.2 1338.4h0M658.9 1313.3h0M659.6 1315h0M660.3 1329.4h0M661 1317.1h0M661.7 1311.8h0M662.4 1318.8h0M663.1 1305.7h0M663.8 1312.8h0M664.5 1294.6h0M665.2 1308.9h0M665.9 1302.6h0M666.5 1312.1h0M667.2 1311.9h0M667.9 1300.5h0M668.6 1320.2h0M669.3 1298.6h0M670 1284.3h0M670.7 1279.6h0M671.4 1315.1h0M672.1 1302.5h0M672.8 1296h0M673.5 1295h0M674.2 1292.3h0M674.9 1311.9h0M675.6 1300.7h0M676.3 1318.9h0M677 1299.4h0M677.7 1273.1h0M678.3 1305.4h0M679 1292h0M679.7 1290h0M680.4 1312.9h0M681.1 1294h0M681.8 1304.9h0M682.5 1291.9h0M683.2 1285.3h0M683.9 1298.1h0M684.6 1284.7h0M685.3 1302.9h0M686 1301.2h0M686.7 1285.2h0M687.4 1286.7h0M688.1 1281.6h0M688.8 1272.1h0M689.5 1286.7h0M690.1 1275.6h0M690.8 1280.2h0M691.5 1262.8h0M692.2 1275.7h0M692.9 1276.7h0M693.6 1263.1h0M694.3 1267.4h0M695 1260.4h0M695.7 1277.1h0M696.4 1262.3h0M697.1 1276.7h0M697.8 1285.1h0M698.5 1269.6h0M699.2 1245.3h0M700 1258.2h0M700.7 1248.8h0M701.4 1247.5h0M702.1 1266.6h0M702.8 1261.6h0M703.5 1226.2h0M704.2 1220.3h0M704.9 1246.1h0M705.6 1226.8h0M706.2 1246.5h0M706.9 1243.1h0M707.6 1222.2h0M708.3 1227.2h0M709 1229.2h0M709.7 1218.6h0M710.4 1217.9h0M711.1 1224.9h0M711.8 1236h0M712.5 1226.6h0M713.2 1228.9h0M713.9 1226.1h0M714.6 1216.4h0M715.3 1243.7h0M716 1209h0M716.7 1224.9h0M717.4 1239.6h0M718 1222.8h0M718.7 1243.5h0M719.4 1245.4h0M720.1 1227.2h0M720.8 1236.7h0M721.5 1222.8h0M722.2 1237h0M722.9 1237.7h0M723.6 1242.2h0M724.3 1251.5h0M725 1239.9h0M725.7 1249.6h0M726.4 1242.6h0M727.1 1230.2h0M727.8 1241.1h0M728.5 1238.9h0M729.1 1220.5h0M729.8 1249.7h0M730.5 1238.7h0M731.2 1244.6h0M731.9 1238.6h0M732.6 1246.1h0M733.3 1246.4h0M734 1235.8h0M734.7 1241.6h0M735.4 1223h0M736.1 1257.1h0M736.8 1236.1h0M737.5 1225.4h0M738.2 1241.9h0M738.9 1243.3h0M739.6 1252.9h0M740.3 1236.8h0M740.9 1244.7h0M741.6 1228.2h0M742.3 1262.3h0M743 1249.6h0M743.7 1269.2h0M744.4 1239.1h0M745.1 1254.9h0M745.8 1235.8h0M746.5 1254h0M747.2 1255.8h0M747.9 1231.6h0M748.6 1238.3h0M749.3 1239.2h0M750 1230.1h0M750.7 1240.9h0M751.4 1239.1h0M752.1 1233.2h0M752.7 1248h0M753.4 1258.2h0M754.1 1243.9h0M754.8 1255.6h0M755.5 1255.7h0M756.2 1250.2h0M756.9 1247.7h0M757.6 1258.4h0M758.3 1256.8h0M759 1250h0M759.7 1247.5h0M760.4 1271.9h0M761.1 1270.3h0M761.8 1248.9h0M762.5 1249.5h0M763.2 1261h0M763.9 1242.9h0M764.5 1251.9h0M765.2 1251.5h0M765.9 1242.1h0M766.6 1243.3h0M767.3 1233.5h0M768 1244.3h0M768.7 1232.2h0M769.4 1274.5h0M770.1 1261.5h0M770.8 1262.8h0M771.5 1251.9h0M772.2 1264.4h0M772.9 1265.1h0M773.6 1259.8h0M774.3 1262.6h0M775 1248.6h0M775.7 1264.7h0M776.3 1253.6h0M777 1251.9h0M777.7 1250.2h0M778.4 1266.9h0M779.1 1272.7h0M779.8 1249.6h0M780.5 1284.4h0M781.2 1280.6h0M781.9 1264.9h0M782.6 1267h0M783.3 1266.5h0M784 1275.7h0M784.7 1263h0M785.4 1256.2h0M786.1 1273.4h0M786.8 1245.9h0M787.4 1272.3h0M788.1 1286.1h0M788.8 1278.2h0M789.5 1279.7h0M790.2 1278.1h0M790.9 1280.2h0M791.6 1276.8h0M792.3 1267.2h0M793 1276h0M793.7 1276.5h0M794.4 1293.9h0M795.1 1291.4h0M795.8 1277.9h0M796.5 1269.2h0M797.2 1266.1h0M797.9 1275.4h0M798.6 1289h0M799.2 1280.1h0M799.9 1275.5h0M800.6 1269h0M801.3 1287.4h0M802 1282.5h0M802.7 1279.7h0M803.4 1288.6h0M804.1 1304.6h0M804.8 1284.3h0M805.5 1306.5h0M806.2 1305h0M806.9 1296.8h0M807.6 1309.4h0M808.3 1295.5h0M809 1291.7h0M809.7 1300.4h0M810.4 1292.5h0M811 1306.6h0M811.7 1293h0M812.4 1298.4h0M813.1 1307.8h0M813.8 1263.9h0M814.5 1297.8h0M815.2 1279.1h0M815.9 1301.5h0M816.6 1296.5h0M817.3 1301.4h0M818 1315.3h0M818.7 1288.6h0M819.4 1304h0M820.1 1302.7h0M820.8 1291.4h0M821.5 1320.5h0M822.2 1315.5h0M822.8 1301.8h0M823.5 1300.5h0M824.2 1341.7h0M824.9 1305.3h0M825.6 1291.7h0M826.3 1307.9h0M827 1310.4h0M827.7 1305.8h0M828.4 1307.3h0M829.1 1295.2h0M829.8 1308.3h0M830.5 1297h0M831.2 1289.4h0M831.9 1293.6h0M832.6 1293.6h0M833.3 1304.5h0M834 1301.3h0M834.6 1290.7h0M835.3 1297.3h0M836 1301.6h0M836.7 1316.8h0M837.4 1290h0M838.1 1306.7h0M838.8 1313.4h0M839.5 1293.7h0M840.2 1306.8h0M840.9 1302.8h0M841.6 1291h0M842.3 1304h0M843 1309.5h0M843.7 1311.6h0M844.4 1296.2h0M845.1 1301.3h0M845.7 1323.5h0M846.4 1285.5h0M847.1 1303.1h0M847.8 1308.2h0M848.5 1300.1h0M849.2 1297.1h0M849.9 1287.5h0M850.6 1298h0M851.3 1308.3h0M852 1288.2h0M852.7 1290h0M853.4 1280.4h0M854.1 1272.7h0M854.8 1273.8h0M855.5 1253.1h0M856.2 1266.7h0M856.9 1271.1h0M857.5 1269.5h0M858.2 1261h0M858.9 1243.1h0M859.6 1256.2h0M860.3 1242.1h0M861 1244.3h0M861.7 1253.2h0M862.4 1236h0M863.1 1249.5h0M863.8 1242.8h0M864.5 1242.8h0M865.2 1234.3h0M865.9 1242.5h0M866.6 1237.5h0M867.3 1241.6h0M868 1243.9h0M868.7 1225.2h0M869.3 1229.7h0M870 1227h0M870.7 1221.2h0M871.4 1218.8h0M872.1 1223.4h0M872.8 1220.4h0M873.5 1210.2h0M874.2 1217.6h0M874.9 1219.6h0M875.6 1209.1h0M876.3 1209.4h0M877 1220.9h0M877.7 1219.8h0M878.4 1205.1h0M879.1 1204.5h0M711 1206.3h0M721.3 1214.8h0M767.4 1235.2h0M812.8 1244.5h0M826.9 1329.1h0M822.2 1279h0M841 1272.7h0M848.8 1322.9h0M877.6 1192.9h0M897.4 1200.7h0M900.5 1203.8h0M902.1 1213.2h0M898.9 1221.1h0M897.4 1241.4h0M903.6 1246.1h0M911.5 1246.1h0M902.1 1255.5h0M876.1 1159.4h0M876.8 1164.6h0M877.5 1172.1h0M878.1 1172.8h0M878.8 1165.6h0M879.5 1154.1h0M880.2 1186.1h0M880.9 1178.3h0M881.6 1172.4h0M882.3 1172h0M883 1164.3h0M883.7 1165h0M884.4 1168.6h0M885.1 1167.6h0M885.8 1162.5h0M886.5 1154.3h0M887.2 1164.4h0M887.9 1168.8h0M888.6 1154.2h0M889.3 1160.8h0M889.9 1139.1h0M890.6 1158h0M891.3 1160.4h0M892 1154.6h0M892.7 1154.2h0M893.4 1173h0M894.1 1161.2h0M894.8 1169.1h0M895.5 1160.4h0M896.2 1169.6h0M896.9 1157.9h0M897.6 1150.5h0M898.3 1162.8h0M899 1163.2h0M899.7 1170.2h0M900.4 1162.6h0M904.3 1265.7h0M905 1274.1h0M905.6 1259.6h0M906.3 1277.2h0M907 1291h0M907.7 1274.8h0M908.4 1280.9h0M909.1 1265.4h0M909.8 1295.3h0M910.5 1257.4h0M911.2 1277.5h0M911.9 1272.7h0M912.6 1265.3h0M913.3 1288.3h0M914 1268h0M914.7 1271.5h0M915.4 1271.8h0M916.1 1258.3h0M916.8 1251.9h0M917.4 1266.7h0M918.1 1259.1h0M918.8 1266.1h0M919.5 1250.8h0M920.2 1248.1h0M920.9 1251.9h0M921.6 1252.5h0M922.3 1252.6h0M923 1271h0M923.7 1236.5h0M924.4 1260.3h0M925.1 1230.6h0M925.8 1242.4h0M926.5 1248.1h0M927.2 1221.1h0M927.9 1229.1h0M928.6 1253.8h0M929.2 1250.4h0M929.9 1247.3h0M930.6 1239.7h0M931.3 1274.8h0M932 1249.5h0M932.7 1240.1h0M933.4 1262.9h0M934.1 1245.8h0M934.8 1233.7h0M935.5 1249.4h0M936.2 1237.8h0M936.9 1243.1h0M937.6 1240.8h0M938.3 1227.3h0M939 1248.5h0M939.7 1240.1h0M940.4 1226.4h0M941 1227.8h0M941.7 1246.4h0M942.4 1224.4h0M943.1 1232.9h0M943.8 1234.8h0M944.5 1231.3h0M945.2 1211.8h0M945.9 1241.5h0M946.6 1244.4h0M947.3 1239.8h0M948 1252.8h0M948.7 1238.7h0M949.4 1243.5h0M950.1 1253.1h0M950.8 1234.1h0M951.5 1259.3h0M952.1 1258.5h0M952.8 1241.1h0M953.5 1252.5h0M954.2 1240.7h0M954.9 1224.7h0M955.6 1246.9h0M956.3 1234.8h0M957 1237.2h0M957.7 1231h0M958.4 1242.5h0M959.1 1231.5h0M959.8 1209.6h0M960.5 1225.6h0M961.2 1228h0M961.9 1208.2h0M962.6 1206.5h0M963.3 1207.1h0M963.9 1208.9h0M964.6 1217.2h0M965.3 1220.9h0M966 1233.2h0M966.7 1220.4h0M967.4 1212.3h0M968.1 1214.2h0M968.8 1216.2h0M969.5 1196.9h0M970.2 1208.9h0M970.9 1207.2h0M971.6 1202h0M972.3 1196.7h0M973 1195.6h0M973.7 1200.9h0M974.4 1192.8h0M975.1 1214h0M975.7 1208.8h0M976.4 1198.6h0M977.1 1198.6h0M977.8 1202.2h0M978.5 1190h0M979.2 1190.7h0M979.9 1181.8h0M980.6 1177.8h0M981.3 1178.6h0M982 1208h0M982.7 1179.5h0M983.4 1197.3h0M984.1 1207.3h0M984.8 1190.4h0M985.5 1204.6h0M986.2 1205.3h0M986.9 1198h0M987.5 1207.5h0M988.2 1196.7h0M988.9 1183h0M989.6 1198.5h0M990.3 1192.3h0M991 1182.5h0M991.7 1182.7h0M992.4 1214.6h0M993.1 1189.4h0M993.8 1189.9h0M994.5 1184.5h0M995.2 1195.3h0M995.9 1187.3h0M996.6 1187.1h0M997.3 1179.3h0M998 1176.5h0M998.7 1181.1h0M999.3 1188.7h0M1000 1206.1h0M1000.7 1198.8h0M1001.4 1202.5h0M1002.1 1195.2h0M1002.8 1186.5h0M1003.5 1177.3h0M1004.2 1188.8h0M1004.9 1173.7h0M1005.6 1189.3h0M1006.3 1206.8h0M1007 1195.8h0M1007.7 1204h0M1008.4 1191.3h0M1009.1 1187.1h0M1009.8 1191.5h0M1010.4 1194.1h0M1011.1 1206.8h0M1011.8 1212.2h0M1012.5 1187.1h0M1013.2 1190.2h0M1013.9 1187.9h0M1014.6 1183.3h0M1015.3 1178.3h0M1016 1186h0M1016.7 1192.4h0M1017.4 1191.9h0M1018.1 1179.2h0M1018.8 1188.5h0M1019.5 1175.5h0M1020.2 1197.1h0M1020.9 1180.6h0M1021.6 1186.9h0M1022.2 1188.5h0M1022.9 1190.1h0M1023.6 1188.2h0M1024.3 1182.1h0M1025 1209.6h0M1025.7 1193h0M1026.4 1195.6h0M1027.1 1212.8h0M1027.8 1193.5h0M1028.5 1200.8h0M1029.2 1199h0M1029.9 1207.8h0M1030.6 1203.9h0M1031.3 1202.1h0M1032 1192.3h0M1032.7 1195.5h0M1033.4 1202.4h0M1034 1177.1h0M1034.7 1191.7h0M1035.4 1189h0M1036.1 1189h0M1036.8 1177.2h0M1037.5 1200.2h0M1038.2 1191.2h0M1038.9 1198.2h0M1039.6 1197.2h0M1040.3 1189.7h0M1041 1199.1h0M1041.7 1190.5h0M1042.4 1200.2h0M1043.1 1200h0M1043.8 1207.8h0M1044.5 1215.1h0M1045.2 1221.9h0M1045.8 1240.5h0M1046.5 1233.8h0M1047.2 1227.2h0M1047.9 1232.4h0M1048.6 1231.1h0M1049.3 1236.1h0M1050 1235.1h0M909.3 1310.3h0M906.8 1297.8h0M916.2 1296.2h0M956.9 1263.3h0M947.5 1204.8h0M966.3 1182.8h0M983.5 1163.7h0M978.8 1167.8h0M1017 1167.8h0M1058.7 1188.2h0M1057.1 1192.9h0M1055.6 1205.4h0M1058.7 1217.9h0M1050.3 1149.9h0M1054.6 1139.6h0M1060.9 1126.4h0M1059.3 1160h0M1054 1068.5h0M1061.8 1033.1h0M1062.5 990.8h0M1062.8 979.8h0M1073.7 1032.9h0M1074.4 1023.5h0M1075.1 1027.3h0M1075.8 1017.6h0M1076.5 1009.6h0M1077.2 1006.8h0M1077.9 1001.1h0M1078.6 1000h0M1079.3 1000.9h0M1080 988.7h0M1080.7 988.9h0M1081.4 977.8h0M1082.1 978.7h0M1082.8 986.7h0M1083.5 965.3h0M1084.2 978.6h0M1084.9 975.4h0M1085.5 955.7h0M1086.2 953.7h0M1086.9 952.4h0M1087.6 961.2h0M1088.3 953.9h0M1089 955.3h0M1089.7 957.2h0M1090.4 953.6h0M1091.1 952.5h0M1091.8 949.3h0M1169.9 1304.1h0M1170.8 1280.6h0M1171.4 1255.5h0M1174.6 1149.9h0M1176.1 1125.5h0M1222.2 1181.9h0M1223.7 1186.6h0M1168.3 1205.7h0M1169 1213.2h0M1169.7 1209.7h0M1170.4 1198.8h0M1171.1 1185.8h0M1171.8 1190.7h0M1172.5 1197h0M1173.2 1171.9h0M1173.8 1192.8h0M1174.5 1204.6h0M1175.2 1198.5h0M1175.9 1191.6h0M1176.6 1222.2h0M1177.3 1216.4h0M1178 1196.6h0M1178.7 1212.8h0M1179.4 1209.5h0M1180.1 1188.3h0M1180.8 1225.4h0M1181.5 1184.7h0M1182.2 1194.3h0M1182.9 1185h0M1183.6 1195.6h0M1184.3 1179.3h0M1185 1193.3h0M1185.6 1202.9h0M1186.3 1193.9h0M1187 1188.1h0M1187.7 1208.1h0M1188.4 1183.6h0M1189.1 1202.6h0M1189.8 1190.7h0M1190.5 1195.4h0M1191.2 1195.7h0M1191.9 1196.9h0M1192.6 1195h0M1193.3 1183.8h0M1194 1184h0M1194.7 1192h0M1195.4 1187.9h0M1196.1 1179.5h0M1196.8 1186.3h0M1197.4 1183.7h0M1198.1 1188.9h0M1198.8 1185.6h0M1199.5 1179.4h0M1200.2 1172.2h0M1200.9 1176.6h0M1201.6 1163.4h0M1202.3 1151.4h0M1203 1172h0M1203.7 1161.7h0M1204.4 1163.6h0M1202.8 1136.3h0M1203.5 1121.3h0M1204.1 1113.7h0M1204.8 1119.4h0M1205.5 1107.6h0M1206.2 1131.1h0M1206.9 1092.8h0M1207.6 1096.1h0M1208.3 1109.1h0M1209 1098.7h0M1209.7 1123.1h0M1210.4 1090.4h0M1211.1 1099.7h0M1211.8 1109.9h0M1212.5 1113.1h0M1213.2 1118.4h0M1213.9 1110.1h0M1214.6 1130h0M1215.2 1103.3h0M1215.9 1112.3h0M1216.6 1120.6h0M1217.3 1110.5h0M1218 1116.2h0M1218.7 1122h0M1219.4 1125.2h0M1220.1 1120h0M1220.8 1129.5h0M1221.5 1123.7h0M1222.2 1138.6h0M1222.9 1125.3h0M1223.6 1152.2h0M1224.3 1154.3h0M1225 1152.2h0M1225.7 1144.2h0M1226.4 1142.3h0M1227 1155.2h0M1227.7 1151.7h0M1228.4 1159.4h0M1229.1 1145.5h0M1229.8 1155.1h0M1230.5 1137.1h0M1231.2 1139.9h0M1231.9 1122.6h0M1232.6 1129.6h0M1233.3 1133.3h0M1234 1119.9h0M1234.7 1120.8h0M1235.4 1133.6h0M1236.1 1126.2h0M1236.8 1136.9h0M1237.5 1099.3h0M1238.2 1130h0M1238.8 1127.9h0M1239.5 1104.3h0M1240.2 1107.1h0M1240.9 1131.6h0M1241.6 1109.2h0M1242.3 1116.6h0M1243 1130.3h0M1243.7 1117.6h0M1244.4 1125.8h0M1245.1 1111.9h0M1245.8 1124.8h0M1246.5 1133.6h0M1247.2 1121.7h0M1247.9 1093.7h0M1248.6 1125.8h0M1249.3 1120.5h0M1250 1112.7h0M1250.6 1136.8h0M1251.3 1109.9h0M1252 1141.5h0M1252.7 1119.9h0M1253.4 1139.4h0M1254.1 1125.5h0M1254.8 1115.9h0M1255.5 1125.5h0M1256.2 1128.6h0M1256.9 1129.3h0M1257.6 1134.2h0M1258.3 1115.1h0M1259 1126.2h0M1259.7 1126.9h0M1260.4 1120.4h0M1261.1 1116.7h0M1261.8 1115.1h0M1262.4 1128.4h0M1263.1 1137.1h0M1263.8 1123.3h0M1264.5 1118.1h0M1265.2 1141.8h0M1265.9 1109.8h0M1266.6 1129.9h0M1267.3 1117h0M1268 1112.5h0M1268.7 1133.8h0M1269.4 1131.4h0M1270.1 1146h0M1270.8 1152.7h0M1271.5 1123.2h0M1272.2 1139.6h0M1272.9 1139.7h0M1273.5 1122.5h0M1274.2 1121h0M1274.9 1150.1h0M1275.6 1132.9h0M1276.3 1136h0M1277 1130.5h0M1277.7 1133.1h0M1278.4 1133.3h0M1279.1 1145.9h0M1279.8 1151.9h0M1280.5 1133.9h0M1281.2 1125.7h0M1281.9 1141.4h0M1282.6 1123.4h0M1283.3 1132.5h0M1284 1155.1h0M1284.7 1169.5h0M1285.3 1153.6h0M1286 1141.5h0M1286.7 1158.9h0M1287.4 1128.2h0M1288.1 1146.7h0M1288.8 1165.6h0M1289.5 1159.5h0M1290.2 1134.8h0M1290.9 1132.9h0M1291.6 1157.1h0M1292.3 1147.2h0M1293 1146.1h0M1293.7 1156.1h0M1294.4 1147.7h0M1295.1 1135.6h0M1295.8 1162.8h0M1296.5 1154.7h0M1297.1 1150.6h0M1297.8 1148.8h0M1298.5 1162.9h0M1299.2 1152.9h0M1299.9 1169.9h0M1300.6 1161.3h0M1301.3 1176.7h0M1302 1162.5h0M1302.7 1166.5h0M1303.4 1152.1h0M1304.1 1161.8h0M1304.8 1181.5h0M1305.5 1216.9h0M1306.2 1170.9h0M1306.9 1172.7h0M1307.6 1188.3h0M1308.3 1185.6h0M1308.9 1170.5h0M1309.6 1178.6h0M1310.3 1158.9h0M1311 1170.6h0M1311.7 1181.9h0M1312.4 1192.5h0M1313.1 1172.4h0M1313.8 1164.5h0M1314.5 1174.2h0M1315.2 1186.8h0M1315.9 1177.3h0M1316.6 1164.4h0M1317.3 1173.3h0M1318 1184.4h0M1318.7 1161.3h0M1319.4 1151.5h0M1320.1 1175.6h0M1320.7 1183.7h0M1321.4 1188.7h0M1322.1 1174h0M1322.8 1167.7h0M1323.5 1172h0M1324.2 1171.4h0M1324.9 1167h0M1325.6 1166.8h0M1326.3 1167.7h0M1327 1191.5h0M1327.7 1162.5h0M1328.4 1182.2h0M1329.1 1168.6h0M1329.8 1193.2h0M1330.5 1177.5h0M1331.2 1172.5h0M1331.8 1189.3h0M1332.5 1177.7h0M1333.2 1166.3h0M1333.9 1196.3h0M1334.6 1188.2h0M1335.3 1210.6h0M1336 1199.8h0M1336.7 1198.6h0M1337.4 1182.3h0M1338.1 1162.1h0M1338.8 1181.9h0M1339.5 1171h0M1340.2 1174.9h0M1340.9 1164.4h0M1341.6 1156.1h0M1342.3 1150.4h0M1343 1174.6h0M1343.6 1181.3h0M1344.3 1161.4h0M1345 1175h0M1345.7 1185.8h0M1346.4 1157.9h0M1347.1 1162.4h0M1347.8 1152.1h0M1348.5 1180.8h0M1349.2 1166.2h0M1349.9 1161.3h0M1350.6 1151.4h0M1351.3 1169.9h0M1352 1178.5h0M1352.7 1155.6h0M1353.4 1151.6h0M1354.1 1163.3h0M1354.8 1143.2h0M1355.4 1155.2h0M1356.1 1159.1h0M1356.8 1146.3h0M1357.5 1141.6h0M1358.2 1156.1h0M1358.9 1152.2h0M1359.6 1143.6h0M1360.3 1148.7h0M1361 1145.1h0M1361.7 1127.3h0M1362.4 1123.6h0M1363.1 1131.9h0M1363.8 1142.8h0M1364.5 1145.3h0M1365.2 1121.1h0M1365.9 1141h0M1366.6 1137.3h0M1367.2 1127.7h0M1367.9 1128.9h0M1368.6 1129.2h0M1369.3 1145.1h0M1370 1111.5h0M1370.7 1130.2h0M1371.4 1121.5h0M1372.1 1123.8h0M1372.8 1149h0M1373.5 1141.3h0M1374.2 1120.1h0M1374.9 1137.6h0M1375.6 1142.8h0M1376.3 1125h0M1377 1142.8h0M1377.7 1136.4h0M1378.4 1139.2h0M1379 1134.8h0M1379.7 1157.6h0M1380.4 1139.2h0M1381.1 1138.1h0M1381.8 1168.6h0M1382.5 1137.2h0M1383.2 1132.5h0M1383.9 1119.8h0M1384.6 1151.6h0M1385.3 1142.8h0M1386 1143h0M1386.7 1139.2h0M1387.4 1139.1h0M1388.1 1131.2h0M1388.8 1138.6h0M1389.5 1160.4h0M1390.1 1149.3h0M1390.8 1165.5h0M1391.5 1128.7h0M1392.2 1127.7h0M1392.9 1124h0M1393.6 1152.3h0M1394.3 1116.1h0M1395 1143.1h0M1395.7 1156.5h0M1396.4 1136.1h0M1397.1 1147.6h0M1397.8 1114.8h0M1398.5 1139h0M1399.2 1124.4h0M1399.9 1151.6h0M1400.6 1145.2h0M1401.3 1136.5h0M1401.9 1156.8h0M1402.6 1153.3h0M1403.3 1144.8h0M1404 1140.7h0M1404.7 1132.5h0M1405.4 1143.7h0M1406.1 1175.9h0M1406.8 1138.6h0M1407.5 1148.1h0M1408.2 1131.4h0M1408.9 1146.4h0M1409.6 1141.8h0M1410.3 1131.2h0M1411 1114.6h0M1411.7 1124.6h0M1412.4 1144.2h0M1413.1 1127.4h0M1413.7 1130.9h0M1414.4 1120.2h0M1415.1 1100.6h0M1415.8 1118.8h0M1416.5 1117.8h0M1417.2 1108.9h0M1417.9 1114.6h0M1418.6 1120h0M1419.3 1114.6h0M1420 1127.4h0M1420.7 1123.3h0M1421.4 1102.6h0M1422.1 1122.9h0M1422.8 1114h0M1423.5 1110.3h0M1424.2 1121.8h0M1424.9 1109.3h0M1425.5 1114.1h0M1426.2 1111.3h0M1426.9 1101.6h0M1427.6 1083.2h0M1428.3 1084.6h0M1429 1099.3h0M1429.7 1091.6h0M1430.4 1088.1h0M1431.1 1099.7h0M1431.8 1109.1h0M1432.5 1103.7h0M1433.2 1109.3h0M1433.9 1098.3h0M1434.6 1108.3h0M1435.3 1114.6h0M1436 1111.4h0M1436.7 1092.1h0M1437.3 1114.4h0M1438 1107.6h0M1438.7 1141.7h0M1439.4 1140.3h0M1440.1 1141.2h0M1440.8 1129.8h0M1441.5 1120h0M1442.2 1132.6h0M1442.9 1125.1h0M1443.6 1138.3h0M1444.3 1123.1h0M1445 1119.1h0M1445.7 1129.7h0M1446.4 1147.6h0M1447.1 1122.8h0M1447.8 1148.4h0M1448.4 1154.5h0M1449.1 1113.7h0M1449.8 1128.6h0M1450.5 1120.1h0M1451.2 1127h0M1451.9 1122.9h0M1452.6 1127.5h0M1453.3 1140.6h0M1454 1139.7h0M1454.7 1135.8h0M1455.4 1128.3h0M1456.1 1133.5h0M1456.8 1132.8h0M1457.5 1143h0M1458.2 1143.7h0M1458.9 1156.7h0M1459.6 1148h0M1460.2 1172.4h0M1460.9 1180.8h0M1461.6 1162.2h0M1462.3 1144.6h0M1463 1166.8h0M1463.7 1147.9h0M1464.4 1117.8h0M1465.1 1143.8h0M1465.8 1151.2h0M1466.5 1143.3h0M1467.2 1157h0M1467.9 1150.6h0M1468.6 1149.9h0M1469.3 1120.5h0M1470 1124.4h0M1470.7 1139.2h0M1471.4 1138.2h0M1472 1119.6h0M1472.7 1121.5h0M1473.4 1132.9h0M1474.1 1106.4h0M1474.8 1105.8h0M1475.5 1131.2h0M1476.2 1136.9h0M1476.9 1121.8h0M1477.6 1102.9h0M1478.3 1123.3h0M1479 1106.4h0M1479.7 1124.1h0M1480.4 1112.5h0M1481.1 1120.4h0M1481.8 1121.8h0M1482.5 1106h0M1483.2 1119h0M1483.8 1122h0M1484.5 1116.5h0M1485.2 1122h0M1485.9 1097.2h0M1486.6 1114.7h0M1487.3 1102.7h0M1488 1088.5h0M1488.7 1101.2h0M1489.4 1095.2h0M1490.1 1093.2h0M1490.8 1097.1h0M1491.5 1103.9h0M1492.2 1088.7h0M1492.9 1094.3h0M1493.6 1082h0M1494.3 1100.5h0M1494.9 1108.4h0M1495.6 1102.4h0M1496.3 1100.8h0M1497 1083.7h0M1497.7 1078h0M1498.4 1086.8h0M1499.1 1070.6h0M1499.8 1069.9h0M1500.5 1097.2h0M1501.2 1071.8h0M1501.9 1102.1h0M1502.6 1064.1h0M1503.3 1087.8h0M1504 1066.1h0M1504.7 1086.8h0M1505.4 1072.9h0M1506.1 1085.6h0M1506.7 1082.6h0M1507.4 1078.1h0M1508.1 1087.1h0M1508.8 1103.9h0M1509.5 1081.7h0M1510.2 1099.1h0M1510.9 1093.7h0M1511.6 1089.4h0M1512.3 1117.1h0M1513 1066.8h0M1513.7 1080.3h0M1514.4 1069.6h0M1515.1 1081.7h0M1515.8 1084.8h0M1516.5 1128.7h0M1517.2 1090.6h0M1517.9 1112h0M1518.5 1106.7h0M1519.2 1084.1h0M1519.9 1093.8h0M1520.6 1106.1h0M1521.3 1085.2h0M1522 1082.3h0M1522.7 1087.2h0M1523.4 1067.3h0M1524.1 1070.1h0M1524.8 1084.7h0M1525.5 1089.3h0M1526.2 1074h0M1526.9 1079.2h0M1527.6 1086.1h0M1528.3 1082.4h0M1529 1095.5h0M1529.7 1095.2h0M1530.3 1088.8h0M1531 1073.9h0M1531.7 1080.1h0M1532.4 1098.1h0M1533.1 1074.7h0M1533.8 1096h0M1534.5 1081.8h0M1535.2 1082.4h0M1535.9 1102.5h0M1536.6 1085.8h0M1537.3 1082h0M1538 1083.8h0M1538.7 1093.5h0M1539.4 1126.8h0M1540.1 1072.7h0M1540.8 1098.8h0M1541.5 1093.7h0M1542.1 1101.4h0M1542.8 1092.4h0M1543.5 1075.8h0M1544.2 1117.2h0M1544.9 1089.8h0M1545.6 1105.2h0M1546.3 1095.1h0M1547 1102.4h0M1547.7 1113.6h0M1548.4 1130.1h0M1549.1 1132.9h0M1549.8 1119.5h0M1550.5 1131.6h0M1551.2 1127.7h0M1551.9 1136.2h0M1552.6 1140.7h0M1553.2 1145h0M1553.9 1138h0M1554.6 1141.2h0M1555.3 1148.6h0M1556 1142.3h0M1556.7 1134.5h0M1557.4 1165.3h0M1558.1 1145.4h0M1558.8 1161.7h0M1559.5 1154.7h0M1560.2 1173h0M1560.9 1142.3h0M1561.6 1184.5h0M1562.3 1163h0M1563 1153.6h0M1563.7 1171.9h0M1564.4 1194.1h0M1565 1170.8h0M1565.7 1151.6h0M1566.4 1164.3h0M1567.1 1185.7h0M1567.8 1153.7h0M1568.5 1169.1h0M1569.2 1167.7h0M1569.9 1197.8h0M1213.4 1078.5h0M1262.9 1098.9h0M1270.7 1103.6h0M1284.8 1113h0M1305.2 1133.3h0M1308.3 1134.9h0M1299.9 1200.1h0M1331.8 1155.3h0M1356.9 1192.9h0M1357.8 1091.7h0M1367.9 1099.8h0M1369.4 1105.1h0M1379.8 1181.9h0M1378.8 1185h0M1397.6 1111.4h0M1433 1056.6h0M1433.6 1061.3h0M1444.6 1070.7h0M1439.9 1067.5h0M1455.6 1114.5h0M1460.3 1181.3h0M1479.1 1098.9h0M1507.3 1058.1h0M1499.4 1067.5h0M1526.1 1066h0M1548 1081.6h0M1569.9 1147.4h0M1570.6 1186.7h0M1571.3 1193.3h0M1572 1216.2h0M1572.7 1210.7h0M1573.4 1222.4h0M1574.1 1242.5h0M1574.8 1214.9h0M1575.5 1225.4h0M1576.2 1209.2h0M1576.9 1204h0M1577.6 1209.1h0M1578.2 1186.2h0M1578.9 1171.6h0M1579.6 1210h0M1580.3 1188.4h0M1581 1199.3h0M1581.7 1186.4h0M1582.4 1182.5h0M1583.1 1191.9h0M1583.8 1193.1h0M1584.5 1159.1h0M1585.2 1190.1h0M1585.9 1155.4h0M1586.6 1171.5h0M1587.3 1198.3h0M1588 1161.3h0M1588.7 1180.8h0M1589.4 1147.8h0M1590 1157.6h0M1590.7 1147.3h0M1591.4 1149.5h0M1592.1 1133.2h0M1592.8 1127.4h0M1593.5 1144.9h0M1594.2 1116.1h0M1594.9 1127.6h0M1595.6 1148.6h0M1596.3 1133.8h0M1597 1127.3h0M1597.7 1135.3h0M1598.4 1148.4h0M1599.1 1140.1h0M1599.8 1142.6h0M1600.5 1142.3h0M1601.2 1164.5h0M1601.8 1137.7h0M1602.5 1113.2h0M1603.2 1139.7h0M1603.9 1135.8h0M1604.6 1140h0M1605.3 1116.3h0M1606 1145.3h0M1606.7 1132h0M1607.4 1127.2h0M1608.1 1106.2h0M1608.8 1131.8h0M1609.5 1119.1h0M1610.2 1138.3h0M1610.9 1117.1h0M1611.6 1105.3h0M1612.3 1122.5h0M1613 1113h0M1613.6 1125.7h0M1614.3 1108.1h0M1615 1121.2h0M1615.7 1122.3h0M1616.4 1123.3h0M1617.1 1114h0M1617.8 1107.5h0M1618.5 1114.3h0M1619.2 1111.3h0M1619.9 1120.5h0M1620.6 1115.6h0M1621.3 1096.4h0M1622 1118.4h0M1622.7 1131.5h0M1623.4 1117.3h0M1624.1 1124.9h0M1624.7 1114.9h0M1625.4 1104.4h0M1626.1 1094.8h0M1626.8 1118.2h0M1627.5 1126.7h0M1628.2 1122.3h0M1628.9 1119.8h0M1629.6 1113.1h0M1630.3 1107.4h0M1631 1107h0M1631.7 1102.3h0M1632.4 1104.4h0M1633.1 1088h0M1633.8 1091.9h0M1634.5 1107.4h0M1635.2 1098.7h0M1635.9 1075.5h0M1636.5 1093.4h0M1637.2 1072.2h0M1637.9 1114.1h0M1638.6 1101.1h0M1639.3 1098.6h0M1640 1087.3h0M1640.7 1080.2h0M1641.4 1090.6h0M1642.1 1090h0M1642.8 1081.4h0M1643.5 1090.4h0M1644.2 1092.1h0M1644.9 1092.4h0M1645.6 1081.1h0M1646.3 1069.8h0M1578.4 1243h0M1576.9 1230.5h0M1569 1146.8h0M1592.5 1106.7h0M1592.5 1113h0M1644.2 1067.5h0M1638 1070.7h0M1647.4 1100.4h0M1645.8 1114.5h0M1646.7 1120.8h0M1656.8 1106.7h0M1646.7 1137.4h0M1649.9 1171.1h0M1650.6 1162.6h0M1651.3 1182.4h0M1652 1184.5h0M1652.7 1177.5h0M1653.3 1175.3h0M1654 1162.7h0M1654.7 1177.6h0M1655.4 1171.6h0M1656.1 1195h0M1656.8 1197.1h0M1657.5 1171h0M1658.2 1206.2h0M1658.9 1201.6h0M1659.6 1201.3h0M1660.3 1210.8h0M1661 1218.8h0M1661.7 1208.7h0M1662.4 1216.7h0M1663.1 1221.3h0M1663.8 1207h0M1664.4 1215.9h0M1665.1 1204.4h0M1665.8 1197.9h0M1666.5 1199.7h0M1667.2 1214.5h0M1667.9 1213.8h0M1668.6 1208.1h0M1669.3 1193.5h0M1670 1207.5h0M1670.7 1187.9h0M1671.4 1195.9h0M1672.1 1203.3h0M1672.8 1176.5h0M1673.5 1176.5h0M1674.2 1163.2h0M1674.9 1162.8h0M1675.6 1199.5h0M1676.2 1190.3h0M1676.9 1157.5h0M1677.6 1188.4h0M1678.3 1175.9h0M1679 1198.1h0M1679.7 1184.3h0M1680.4 1184.7h0M1681.1 1189.6h0M1681.8 1199.2h0M1682.5 1195.6h0M1683.2 1186.7h0M1683.9 1191.9h0M1684.6 1192h0M1685.3 1171.5h0M1686 1186h0M1686.7 1186h0M1687.4 1170.1h0M1688 1185h0M1688.7 1163h0M1689.4 1174.5h0M1690.1 1158.2h0M1690.8 1169.2h0M1691.5 1157.8h0M1692.2 1165.7h0M1692.9 1177.6h0M1693.6 1158.3h0M1694.3 1185.8h0M1695 1177.7h0M1695.7 1181h0M1696.4 1182.9h0M1697.1 1194.4h0M1697.8 1195.2h0M1698.5 1206.4h0M1699.2 1188.8h0M1699.8 1182.4h0M1700.5 1174.9h0M1701.2 1175.5h0M1701.9 1184.3h0M1702.6 1173.1h0M1703.3 1160.9h0M1704 1166.4h0M1704.7 1166.6h0M1705.4 1169.8h0M1706.1 1158.4h0M1706.8 1133.2h0M1707.5 1151.3h0M1708.2 1175.2h0M1708.9 1162.9h0M1709.6 1132.4h0M1710.3 1161.9h0M1711 1140.9h0M1711.6 1183.7h0M1712.3 1163.7h0M1713 1147.4h0M1713.7 1173.2h0M1714.4 1155h0M1715.1 1167.3h0M1715.8 1157.8h0M1716.5 1138.5h0M1717.2 1165.5h0M1717.9 1134h0M1718.6 1171.8h0M1719.3 1148.4h0M1720 1133h0M1720.7 1121h0M1721.4 1168.4h0M1722.1 1166.8h0M1722.7 1129.1h0M1723.4 1168.5h0M1724.1 1139.5h0M1724.8 1140.9h0M1725.5 1140.7h0M1726.2 1139.1h0M1726.9 1160.3h0M1727.6 1148h0M1728.3 1117.5h0M1729 1175.6h0M1729.7 1164h0M1730.4 1143.3h0M1731.1 1156h0M1731.8 1148.5h0M1732.5 1152.5h0M1733.2 1159.6h0M1733.9 1158h0M1734.5 1144.7h0M1735.2 1139.6h0M1735.9 1157.8h0M1736.6 1137.8h0M1737.3 1171.3h0M1738 1130.1h0M1738.7 1143.1h0M1739.4 1133.1h0M1740.1 1119.2h0M1740.8 1148.2h0M1741.5 1128.5h0M1742.2 1116.8h0M1742.9 1125.5h0M1743.6 1145.5h0M1744.3 1105.6h0M1745 1143.6h0M1745.7 1132.5h0M1746.3 1112.8h0M1747 1138h0M1747.7 1137.2h0M1748.4 1125.2h0M1749.1 1126h0M1749.8 1145.5h0M1750.5 1144.2h0M1751.2 1111.3h0M1751.9 1124.7h0M1752.6 1117.6h0M1753.3 1118h0M1754 1103.2h0M1754.7 1140.7h0M1755.4 1128.9h0M1756.1 1134.1h0M1756.8 1154h0M1757.5 1127.9h0M1758.1 1141.2h0M1758.8 1145.2h0M1759.5 1138.5h0M1760.2 1143.1h0M1760.9 1158.1h0M1761.6 1142.6h0M1762.3 1167.4h0M1763 1140.4h0M1763.7 1153h0M1764.4 1130.8h0M1765.1 1151.6h0M1765.8 1135.3h0M1766.5 1168.8h0M1767.2 1165.2h0M1767.9 1157.8h0M1768.6 1170h0M1769.3 1165.9h0M1769.9 1152.4h0M1770.6 1140.9h0M1771.3 1129.4h0M1772 1150.9h0M1772.7 1142.5h0M1773.4 1140.3h0M1774.1 1143.9h0M1774.8 1120.1h0M1775.5 1170.8h0M1776.2 1127h0M1776.9 1141.4h0M1777.6 1155.1h0M1778.3 1121.5h0M1779 1158.5h0M1779.7 1153.2h0M1780.4 1143.5h0M1781 1122.2h0M1781.7 1140.5h0M1782.4 1113.1h0M1783.1 1166.3h0M1783.8 1156.9h0M1784.5 1133.4h0M1785.2 1125.5h0M1785.9 1156.2h0M1786.6 1171.3h0M1787.3 1125.4h0M1788 1136.5h0M1788.7 1113.9h0M1789.4 1152.2h0M1790.1 1151.2h0M1790.8 1179.7h0M1791.5 1142.7h0M1792.2 1142.5h0M1792.8 1144.6h0M1793.5 1162.1h0M1794.2 1124.1h0M1794.9 1154.1h0M1795.6 1141.9h0M1796.3 1128h0M1797 1118.1h0M1797.7 1139h0M1798.4 1145.9h0M1799.1 1115.2h0M1799.8 1133.5h0M1800.5 1159.4h0M1801.2 1128.1h0M1801.9 1135h0M1802.6 1127.1h0M1803.3 1145.9h0M1804 1147.9h0M1804.6 1145.2h0M1805.3 1150.8h0M1806 1139.1h0M1806.7 1141.3h0M1807.4 1141.9h0M1808.1 1166.8h0M1808.8 1153.7h0M1809.5 1159.3h0M1810.2 1178.3h0M1810.9 1181.2h0M1811.6 1168.6h0M1812.3 1176.9h0M1813 1187.9h0M1813.7 1190.6h0M1814.4 1176h0M1815.1 1189.8h0M1815.8 1186.7h0M1816.4 1201.5h0M1817.1 1179.2h0M1817.8 1195h0M1818.5 1195.9h0M1819.2 1183.6h0M1819.9 1205.5h0M1820.6 1202.1h0M1821.3 1182.8h0M1822 1216.9h0M1822.7 1178.4h0M1823.4 1182.9h0M1824.1 1182.8h0M1824.8 1191.4h0M1825.5 1184.6h0M1826.2 1173.8h0M1826.9 1189.5h0M1827.6 1176.7h0M1828.2 1181.8h0M1828.9 1194.7h0M1829.6 1160.6h0M1830.3 1122.2h0M1831 1144.6h0M1831.7 1130.3h0M1832.4 1139.9h0M1833.1 1139.6h0M1833.8 1117.8h0M1834.5 1120.2h0M1835.2 1129.4h0M1835.9 1125.3h0M1836.6 1092.3h0M1837.3 1135.4h0M1838 1121.7h0M1838.7 1120.6h0M1839.3 1123.1h0M1840 1102.2h0M1840.7 1119.4h0M1841.4 1135.3h0M1842.1 1133.6h0M1842.8 1126.9h0M1843.5 1116.3h0M1844.2 1105.8h0M1844.9 1128.5h0M1845.6 1124.9h0M1846.3 1112.3h0M1847 1091h0M1847.7 1100.1h0M1848.4 1086.6h0M1849.1 1124.5h0M1849.8 1110h0M1850.5 1099.5h0M1851.1 1103h0M1851.8 1127.8h0M1852.5 1114.5h0M1853.2 1087.9h0M1853.9 1096.1h0M1854.6 1082h0M1666.2 1251.8h0M1655.2 1228.9h0M1666.2 1233.6h0M1679.6 1217.9h0M1694.4 1080.7h0M1700.6 1231.4h0M1741.4 1098.9h0M1750.8 1103.6h0M1766.4 1091h0M1786.8 1103.6h0M1804 1106.7h0M1815 1113h0M1816.5 1222.6h0M1825.9 1213.2h0M1852.6 1073.8h0M1849.4 1149.9h0M1852.6 1120.8h0" stroke="#0000ff" stroke-width="13.2" stroke-linecap="round" fill="none"/>
<path d="M258.3 1367.4 L262.3 1372.1 L266.3 1376.7 L270.3 1381.2 L274.3 1385.3 L278.3 1389.1 L282.3 1392.3 L286.3 1394.9 L290.3 1396.9 L294.2 1398.3 L298.2 1399.1 L302.2 1399.2 L306.2 1398.8 L310.2 1397.8 L314.2 1396.4 L318.2 1394.7 L322.2 1392.7 L326.2 1390.5 L330.2 1388.3 L334.2 1386.1 L338.2 1384 L342.2 1382.1 L346.2 1380.4 L350.2 1379 L354.2 1377.9 L358.2 1377 L362.2 1376.4 L366.1 1376 L370.1 1375.7 L374.1 1375.6 L378.1 1375.4 L382.1 1375.2 L386.1 1374.8 L390.1 1374.2 L394.1 1373.2 L398.1 1371.8 L402.1 1370 L406.1 1367.7 L410.1 1364.8 L414.1 1361.4 L418.1 1357.6 L422.1 1353.2 L426.1 1348.5 L430.1 1343.4 L434 1338.1 L438 1332.7 L442 1327.3 L446 1322 L450 1317 L454 1312.3 L458 1308.2 L462 1304.7 L466 1301.9 L470 1299.8 L474 1298.6 L478 1298.3 L482 1298.7 L486 1300.1 L490 1302.2 L494 1305 L498 1308.4 L501.9 1312.3 L505.9 1316.7 L509.9 1321.2 L513.9 1326 L517.9 1330.7 L521.9 1335.2 L525.9 1339.5 L529.9 1343.5 L533.9 1346.9 L537.9 1349.8 L541.9 1352.2 L545.9 1353.8 L549.9 1354.9 L553.9 1355.3 L557.9 1355.1 L561.9 1354.4 L565.9 1353.2 L569.9 1351.6 L573.8 1349.7 L577.8 1347.6 L581.8 1345.4 L585.8 1343.2 L589.8 1341.1 L593.8 1339.1 L597.8 1337.3 L601.8 1335.7 L605.8 1334.4 L609.8 1333.4 L613.8 1332.7 L617.8 1332.2 L621.8 1331.9 L625.8 1331.7 L629.8 1331.6 L633.8 1331.4 L637.8 1331.1 L641.7 1330.6 L645.7 1329.8 L649.7 1328.6 L653.7 1327 L657.7 1324.9 L661.7 1322.3 L665.7 1319.2 L669.7 1315.5 L673.7 1311.4 L677.7 1306.8 L681.7 1301.9 L685.7 1296.7 L689.7 1291.3 L693.7 1285.9 L697.7 1280.5 L701.7 1275.3 L705.7 1270.5 L709.6 1266.1 L713.6 1262.3 L717.6 1259.2 L721.6 1256.8 L725.6 1255.2 L729.6 1254.4 L733.6 1254.5 L737.6 1255.4 L741.6 1257.2 L745.6 1259.6 L749.6 1262.8 L753.6 1266.5 L757.6 1270.7 L761.6 1275.2 L765.6 1279.8 L769.6 1284.6 L773.6 1289.2 L777.6 1293.6 L781.5 1297.8 L785.5 1301.4 L789.5 1304.6 L793.5 1307.2 L797.5 1309.2 L801.5 1310.5 L805.5 1311.3 L809.5 1311.3 L813.5 1310.9 L817.5 1309.9 L821.5 1308.5 L825.5 1306.7 L829.5 1304.7 L833.5 1302.5 L837.5 1300.3 L841.5 1298.1 L845.5 1296.1 L849.4 1294.2 L853.4 1292.5 L857.4 1291.1 L861.4 1290 L865.4 1289.1 L869.4 1288.5 L873.4 1288.1 L877.4 1287.9 L881.4 1287.7 L885.4 1287.5 L889.4 1287.3 L893.4 1286.9 L897.4 1286.3 L901.4 1285.3 L905.4 1283.9 L909.4 1282 L913.4 1279.6 L917.3 1276.8 L921.3 1273.4 L925.3 1269.4 L929.3 1265.1 L933.3 1260.3 L937.3 1255.2 L941.3 1249.9 L945.3 1244.5 L949.3 1239.1 L953.3 1233.8 L957.3 1228.8 L961.3 1224.2 L965.3 1220.1 L969.3 1216.6 L973.3 1213.9 L977.3 1211.9 L981.3 1210.7 L985.3 1210.4 L989.2 1211 L993.2 1212.3 L997.2 1214.5 L1001.2 1217.3 L1005.2 1220.8 L1009.2 1224.8 L1013.2 1229.1 L1017.2 1233.7 L1021.2 1238.4 L1025.2 1243.1 L1029.2 1247.7 L1033.2 1252 L1037.2 1255.9 L1041.2 1259.3 L1045.2 1262.2 L1049.2 1264.4 L1053.2 1266.1 L1057.1 1267.1 L1061.1 1267.4 L1065.1 1267.2 L1069.1 1266.5 L1073.1 1265.3 L1077.1 1263.6 L1081.1 1261.7 L1085.1 1259.6 L1089.1 1257.4 L1093.1 1255.2 L1097.1 1253.1 L1101.1 1251.1 L1105.1 1249.3 L1109.1 1247.8 L1113.1 1246.5 L1117.1 1245.5 L1121.1 1244.8 L1125 1244.3 L1129 1244 L1133 1243.8 L1137 1243.7 L1141 1243.5 L1145 1243.2 L1149 1242.7 L1153 1241.8 L1157 1240.6 L1161 1239 L1165 1236.9 L1169 1234.2 L1173 1231.1 L1177 1227.4 L1181 1223.2 L1185 1218.6 L1189 1213.7 L1193 1208.5 L1196.9 1203.1 L1200.9 1197.6 L1204.9 1192.3 L1208.9 1187.2 L1212.9 1182.4 L1216.9 1178 L1220.9 1174.3 L1224.9 1171.2 L1228.9 1168.8 L1232.9 1167.2 L1236.9 1166.5 L1240.9 1166.7 L1244.9 1167.7 L1248.9 1169.5 L1252.9 1172 L1256.9 1175.2 L1260.9 1178.9 L1264.8 1183.1 L1268.8 1187.6 L1272.8 1192.3 L1276.8 1197 L1280.8 1201.7 L1284.8 1206.1 L1288.8 1210.2 L1292.8 1213.8 L1296.8 1217 L1300.8 1219.5 L1304.8 1221.5 L1308.8 1222.8 L1312.8 1223.4 L1316.8 1223.5 L1320.8 1223 L1324.8 1222 L1328.8 1220.5 L1332.7 1218.7 L1336.7 1216.7 L1340.7 1214.6 L1344.7 1212.3 L1348.7 1210.1 L1352.7 1208.1 L1356.7 1206.2 L1360.7 1204.5 L1364.7 1203.1 L1368.7 1202 L1372.7 1201.2 L1376.7 1200.6 L1380.7 1200.2 L1384.7 1200 L1388.7 1199.8 L1392.7 1199.7 L1396.7 1199.4 L1400.7 1199 L1404.6 1198.3 L1408.6 1197.3 L1412.6 1195.9 L1416.6 1194 L1420.6 1191.6 L1424.6 1188.7 L1428.6 1185.3 L1432.6 1181.3 L1436.6 1176.9 L1440.6 1172.1 L1444.6 1167 L1448.6 1161.7 L1452.6 1156.3 L1456.6 1150.9 L1460.6 1145.6 L1464.6 1140.6 L1468.6 1136.1 L1472.5 1132 L1476.5 1128.6 L1480.5 1125.9 L1484.5 1123.9 L1488.5 1122.8 L1492.5 1122.6 L1496.5 1123.2 L1500.5 1124.6 L1504.5 1126.8 L1508.5 1129.7 L1512.5 1133.2 L1516.5 1137.2 L1520.5 1141.6 L1524.5 1146.2 L1528.5 1150.9 L1532.5 1155.6 L1536.5 1160.1 L1540.4 1164.4 L1544.4 1168.3 L1548.4 1171.6 L1552.4 1174.5 L1556.4 1176.7 L1560.4 1178.3 L1564.4 1179.3 L1568.4 1179.6 L1572.4 1179.3 L1576.4 1178.6 L1580.4 1177.3 L1584.4 1175.7 L1588.4 1173.8 L1592.4 1171.7 L1596.4 1169.4 L1600.4 1167.2 L1604.4 1165.1 L1608.4 1163.1 L1612.3 1161.4 L1616.3 1159.8 L1620.3 1158.6 L1624.3 1157.6 L1628.3 1156.9 L1632.3 1156.5 L1636.3 1156.2 L1640.3 1156 L1644.3 1155.8 L1648.3 1155.6 L1652.3 1155.3 L1656.3 1154.8 L1660.3 1153.9 L1664.3 1152.7 L1668.3 1151 L1672.3 1148.9 L1676.3 1146.2 L1680.2 1143 L1684.2 1139.3 L1688.2 1135.1 L1692.2 1130.5 L1696.2 1125.5 L1700.2 1120.3 L1704.2 1114.9 L1708.2 1109.4 L1712.2 1104.1 L1716.2 1099 L1720.2 1094.2 L1724.2 1089.9 L1728.2 1086.2 L1732.2 1083.1 L1736.2 1080.8 L1740.2 1079.3 L1744.2 1078.7 L1748.1 1078.9 L1752.1 1079.9 L1756.1 1081.8 L1760.1 1084.3 L1764.1 1087.6 L1768.1 1091.3 L1772.1 1095.6 L1776.1 1100.1 L1780.1 1104.8 L1784.1 1109.5 L1788.1 1114.1 L1792.1 1118.5 L1796.1 1122.6 L1800.1 1126.2 L1804.1 1129.3 L1808.1 1131.8 L1812.1 1133.7 L1816.1 1135 L1820 1135.6 L1824 1135.6 L1828 1135.1 L1832 1134 L1836 1132.6 L1840 1130.8 L1844 1128.7 L1848 1126.6 L1852 1124.3" stroke="#ff0000" stroke-width="8" fill="none" stroke-linejoin="round"/>
<path d="M275.1 935.5v-9.8M275.1 1572.7v9.8M338.5 935.5v-18.7M338.5 1572.7v18.7M401.9 935.5v-9.8M401.9 1572.7v9.8M465.2 935.5v-9.8M465.2 1572.7v9.8M528.6 935.5v-9.8M528.6 1572.7v9.8M592 935.5v-18.7M592 1572.7v18.7M655.4 935.5v-9.8M655.4 1572.7v9.8M718.8 935.5v-9.8M718.8 1572.7v9.8M782.1 935.5v-9.8M782.1 1572.7v9.8M845.5 935.5v-18.7M845.5 1572.7v18.7M908.9 935.5v-9.8M908.9 1572.7v9.8M972.2 935.5v-9.8M972.2 1572.7v9.8M1035.6 935.5v-9.8M1035.6 1572.7v9.8M1099 935.5v-18.7M1099 1572.7v18.7M1162.4 935.5v-9.8M1162.4 1572.7v9.8M1225.8 935.5v-9.8M1225.8 1572.7v9.8M1289.1 935.5v-9.8M1289.1 1572.7v9.8M1352.5 935.5v-18.7M1352.5 1572.7v18.7M1415.9 935.5v-9.8M1415.9 1572.7v9.8M1479.2 935.5v-9.8M1479.2 1572.7v9.8M1542.6 935.5v-9.8M1542.6 1572.7v9.8M1606 935.5v-18.7M1606 1572.7v18.7M1669.4 935.5v-9.8M1669.4 1572.7v9.8M1732.8 935.5v-9.8M1732.8 1572.7v9.8M1796.1 935.5v-9.8M1796.1 1572.7v9.8M1859.5 935.5v-18.7M1859.5 1572.7v18.7M226 1032.3h-18.7M1884 1032.3h18.7M226 1196h-18.7M1884 1196h18.7M226 1359.7h-18.7M1884 1359.7h18.7M226 1523.4h-18.7M1884 1523.4h18.7" stroke="#000" stroke-width="2.4" fill="none"/>
<rect x="226" y="935.5" width="1658" height="637.2" fill="none" stroke="#000" stroke-width="6.0"/>
<text transform="translate(338.2 1638.7) scale(1 1.08)" text-anchor="middle" font-family="Liberation Sans, sans-serif" font-weight="bold" font-size="41.5">2020</text>
<text transform="translate(591.7 1638.7) scale(1 1.08)" text-anchor="middle" font-family="Liberation Sans, sans-serif" font-weight="bold" font-size="41.5">2021</text>
<text transform="translate(845.2 1638.7) scale(1 1.08)" text-anchor="middle" font-family="Liberation Sans, sans-serif" font-weight="bold" font-size="41.5">2022</text>
<text transform="translate(1098.7 1638.7) scale(1 1.08)" text-anchor="middle" font-family="Liberation Sans, sans-serif" font-weight="bold" font-size="41.5">2023</text>
<text transform="translate(1352.2 1638.7) scale(1 1.08)" text-anchor="middle" font-family="Liberation Sans, sans-serif" font-weight="bold" font-size="41.5">2024</text>
<text transform="translate(1605.7 1638.7) scale(1 1.08)" text-anchor="middle" font-family="Liberation Sans, sans-serif" font-weight="bold" font-size="41.5">2025</text>
<text transform="translate(1859.2 1638.7) scale(1 1.08)" text-anchor="middle" font-family="Liberation Sans, sans-serif" font-weight="bold" font-size="41.5">2026</text>
<text transform="translate(190.6 1048.2) scale(1 1.08)" text-anchor="end" font-family="Liberation Sans, sans-serif" font-weight="bold" font-size="41.5">20</text>
<text transform="translate(190.6 1211.9) scale(1 1.08)" text-anchor="end" font-family="Liberation Sans, sans-serif" font-weight="bold" font-size="41.5">0</text>
<text transform="translate(190.6 1375.6) scale(1 1.08)" text-anchor="end" font-family="Liberation Sans, sans-serif" font-weight="bold" font-size="41.5">−20</text>
<text transform="translate(190.6 1539.3) scale(1 1.08)" text-anchor="end" font-family="Liberation Sans, sans-serif" font-weight="bold" font-size="41.5">−40</text>
<text transform="translate(89.9 1253.7) rotate(-90) scale(1 1.065)" text-anchor="middle" font-family="Liberation Sans, sans-serif" font-size="42.3">North (mm)</text>
<text x="1816" y="1555.8" text-anchor="end" font-family="Liberation Sans, sans-serif" font-weight="bold" font-size="35.4">5.351+/- 1.052 mm/yr</text>
<path d="M259.2 1859.7h0M259.9 1915.3h0M260.5 1957.2h0M261.2 1899.3h0M261.9 1755.1h0M262.6 1904.2h0M263.3 1927.8h0M264 1912.5h0M264.7 1906.3h0M265.4 1960.4h0M266.1 1914.7h0M266.8 1830.8h0M267.5 1930.2h0M268.2 1867.8h0M268.9 1988.5h0M269.6 1975.3h0M270.3 1868.8h0M271 1932h0M271.7 2021h0M273 1885h0M273.7 1972.4h0M274.4 1807.4h0M275.1 1883h0M275.8 1760h0M276.5 1881h0M277.9 1762.3h0M278.6 1855.6h0M279.3 1903.6h0M280 1914.6h0M280.7 1926.2h0M281.4 1958h0M282.1 1956h0M282.8 1956h0M283.5 1848.5h0M284.1 1898.8h0M284.8 2042.8h0M285.5 2045.8h0M286.2 1928.6h0M286.9 1920.9h0M287.6 1929.2h0M288.3 1882.3h0M289 2018.4h0M289.7 1901.5h0M290.4 1926.9h0M291.1 2050.5h0M291.8 1774.8h0M292.5 1920.7h0M293.2 1810.2h0M293.9 1838.2h0M294.6 1903.9h0M295.3 1917.8h0M295.9 1937.9h0M296.6 1895.4h0M297.3 1931.6h0M298 1865.6h0M298.7 1884h0M299.4 1835.1h0M300.1 1926.5h0M300.8 1836.3h0M301.5 1938.1h0M302.2 1889.4h0M302.9 1898h0M303.6 1982.6h0M304.3 1924.3h0M305 1845.4h0M305.7 1947.3h0M306.4 1816.7h0M307 1954.9h0M307.7 1905.4h0M308.4 1812h0M309.1 1926.5h0M309.8 1904.9h0M310.5 2025.5h0M311.2 1921.7h0M311.9 2032.2h0M312.6 2006h0M313.3 1923h0M314 1911.6h0M314.7 1997.4h0M315.4 1933.7h0M316.1 1956.5h0M316.8 1934.2h0M317.5 1891.2h0M318.2 1912.8h0M318.8 1897.1h0M319.5 1815.4h0M320.2 1895.6h0M320.9 2058.8h0M321.6 2049.8h0M322.3 1931.4h0M323 1925.7h0M323.7 1948.8h0M324.4 1982.2h0M325.1 1974.1h0M325.8 1926.4h0M326.5 1909.2h0M327.2 2032.1h0M327.9 2064.8h0M328.6 1912.2h0M329.3 1833.5h0M330 1988.5h0M330.6 1939h0M331.3 1958.3h0M332 2035.8h0M332.7 1940.9h0M333.4 1880h0M334.1 1848.7h0M334.8 1923.1h0M335.5 1872.3h0M336.2 1971.4h0M336.9 1857.4h0M337.6 1938.9h0M338.3 1856.1h0M339 1956.7h0M339.7 1962.6h0M340.4 2015.3h0M341.1 2048.4h0M341.8 1982.5h0M342.4 1925.7h0M343.1 2080.5h0M343.8 2024.3h0M344.5 2027.3h0M345.2 2023.6h0M345.9 2062.5h0M346.6 2053.2h0M347.3 2041.4h0M348 2056.5h0M348.7 1962.6h0M349.4 1980.7h0M350.1 1998.4h0M350.8 2013h0M351.5 2012.1h0M352.2 2018h0M352.9 2002.2h0M353.6 1987.5h0M354.2 1918.2h0M354.9 2070.6h0M355.6 2056.7h0M356.3 1954.5h0M357 2062.6h0M357.7 2070.8h0M358.4 2037.2h0M359.1 1936h0M359.8 1969h0M360.5 2023.5h0M361.2 2152.5h0M361.9 1988.4h0M362.6 2050.2h0M363.3 1980.6h0M364 2047.3h0M364.7 2097.7h0M365.3 1962.1h0M366 1937.8h0M366.7 2115.1h0M367.4 2061.1h0M368.1 2037.7h0M368.8 2139.2h0M369.5 2110.3h0M370.2 1948.4h0M370.9 2044.3h0M371.6 2099.5h0M372.3 2008.2h0M373 2036.6h0M373.7 2099h0M374.4 2035.1h0M375.1 1951.5h0M375.8 2024.8h0M376.5 1993.3h0M377.1 2092h0M377.8 1967.4h0M378.5 2144.9h0M379.2 2024.7h0M379.9 2132.4h0M380.6 2035.2h0M381.3 2122.2h0M382 2220.4h0M382.7 2195.6h0M383.4 2247.2h0M384.1 2090.7h0M384.8 2119.3h0M385.5 2126.6h0M386.2 2192.9h0M386.9 2074.1h0M387.6 2221.7h0M388.3 2115.9h0M388.9 2166.9h0M389.6 2091h0M390.3 2126.2h0M391 2035.7h0M391.7 2043.1h0M392.4 1967.3h0M393.1 2011.7h0M393.8 2058.7h0M394.5 2162h0M395.2 1984h0M395.9 2254.9h0M396.6 2073.7h0M397.3 2222.9h0M398 2165.3h0M398.7 1937.9h0M399.4 2092h0M400.1 2181h0M400.7 1931.3h0M401.4 2162.3h0M402.1 1985.4h0M402.8 2053.1h0M403.5 2087.4h0M404.2 1952.9h0M404.9 2100h0M405.6 2036.9h0M406.3 2011.3h0M407 2141.8h0M407.7 2242.6h0M408.4 2096.2h0M409.1 2108.3h0M409.8 2052h0M410.5 1985.1h0M411.2 2090.3h0M411.9 2172.4h0M412.5 2091.6h0M413.2 2120.4h0M413.9 2029.1h0M414.6 2206.5h0M415.3 1954.7h0M416 2096h0M416.7 2112.5h0M417.4 2101.1h0M418.1 2020.6h0M418.8 1994.7h0M419.5 2044.3h0M420.2 2074.8h0M420.9 1967.2h0M421.6 2018.7h0M422.3 2101.7h0M423 2134.5h0M423.6 2036.3h0M424.3 2028.2h0M425 2029.2h0M425.7 2155.9h0M426.4 2071.7h0M427.1 2031.1h0M427.8 2118.6h0M428.5 2157.4h0M429.2 2144.5h0M429.9 1925.6h0M430.6 2039.5h0M431.3 2020.2h0M432 2030h0M432.7 1983.8h0M433.4 1994h0M434.1 1985.8h0M434.8 2080.4h0M435.4 2037.9h0M436.1 1978.8h0M436.8 1973.5h0M437.5 2005h0M438.2 2066.2h0M438.9 2046.4h0M439.6 2014.7h0M440.3 1915h0M441 2015.5h0M441.7 2007.3h0M442.4 2024h0M443.1 1999.4h0M443.8 2021.6h0M444.5 2025.4h0M445.2 2158.6h0M445.9 2083.4h0M446.6 2053.2h0M447.2 2065.9h0M447.9 2058.3h0M448.6 2083.1h0M449.3 2013.7h0M450 2026.7h0M450.7 2081h0M451.4 2068.2h0M452.1 2036.5h0M452.8 2097.7h0M453.5 2055.2h0M454.2 1991.8h0M454.9 1952.1h0M455.6 1985.1h0M456.3 2048.4h0M457 2045.5h0M457.7 2074.5h0M458.4 2001.6h0M459 1974.1h0M459.7 2045.7h0M460.4 2051.4h0M461.1 1982.5h0M461.8 2037.8h0M462.5 2126h0M463.2 2052.4h0M463.9 2039.2h0M464.6 1957.1h0M465.3 2105.7h0M466 2061.9h0M466.7 2037.1h0M467.4 2020.8h0M468.1 1945.2h0M468.8 2024.5h0M469.5 2030.9h0M470.2 2093.9h0M470.8 1991.5h0M471.5 2128.8h0M472.2 2036.5h0M472.9 2118.1h0M473.6 1984h0M474.3 2044.1h0M475 2084.5h0M475.7 2036.9h0M476.4 1997.5h0M477.1 2056.5h0M477.8 2109h0M478.5 2012h0M479.2 1983.4h0M479.9 2098.8h0M480.6 1997.1h0M481.3 2094.9h0M481.9 2004h0M482.6 1957.8h0M483.3 2005h0M484 2106.2h0M484.7 1966.6h0M485.4 2024.2h0M486.1 2045.3h0M486.8 1969.6h0M487.5 2112.4h0M488.2 2032.3h0M488.9 2046.9h0M489.6 1918.5h0M490.3 1938.4h0M491 1886.4h0M491.7 1979.3h0M492.4 1997.8h0M493.1 2038.6h0M493.7 2119.8h0M494.4 1965h0M495.1 1965.3h0M495.8 2012.1h0M496.5 2078.3h0M497.2 1931.7h0M497.9 2035.7h0M498.6 2001.6h0M499.3 1988.7h0M500 2065.5h0M500.7 1987h0M501.4 1922.2h0M502.1 2066.3h0M502.8 2029h0M503.5 2036.3h0M504.2 2023h0M504.9 2078.5h0M505.5 2014.6h0M506.2 2066.8h0M506.9 2063.5h0M507.6 2149h0M508.3 2086.5h0M509 2088.8h0M509.7 2014.5h0M510.4 2029.2h0M511.1 1975.2h0M511.8 2158.3h0M512.5 1997.1h0M513.2 2031.9h0M513.9 2100.1h0M514.6 1905.3h0M515.3 1996.9h0M516 2006.1h0M516.7 1968.3h0M517.3 1967.5h0M518 1986.4h0M518.7 2098.6h0M519.4 2068.6h0M520.1 2022.4h0M520.8 2025.4h0M521.5 1916.2h0M522.2 2061.9h0M522.9 2051.1h0M523.6 1940.2h0M524.3 2042.1h0M525 2014.8h0M525.7 1968.5h0M526.4 1964.6h0M527.1 1979.3h0M527.8 1886.2h0M528.4 2039.7h0M529.1 2037.5h0M529.8 2045.1h0M530.5 2042.2h0M531.2 2006.5h0M531.9 2170h0M532.6 1878.4h0M533.3 2106.3h0M534 2078.5h0M534.7 2067.9h0M535.4 2033h0M536.1 2008.8h0M536.8 1961h0M537.5 1883.4h0M538.2 2017.6h0M538.9 1884.3h0M539.6 2072.5h0M540.2 2075h0M540.9 1882.3h0M541.6 1879.9h0M542.3 2034.9h0M543 2066.9h0M543.7 2056.4h0M544.4 2055.2h0M545.1 2076h0M545.8 2088.6h0M546.5 2141.3h0M547.2 2014.5h0M547.9 2058h0M548.6 1871.9h0M549.3 2005.6h0M550 1950.4h0M550.7 2066.2h0M551.4 2112.9h0M552 2026.8h0M552.7 1883.6h0M553.4 1991.4h0M554.1 1990.5h0M554.8 1976.6h0M555.5 2056.4h0M556.2 2027h0M556.9 1883.2h0M557.6 2045.8h0M389.2 2307h0M376.6 2269.4h0M388.2 2266.3h0M428.3 2251.3h0M402.3 2243.8h0M391.7 2227.2h0M429.3 2209h0M371.9 2200.5h0M377.6 2205.9h0M401.7 2205.9h0M285.8 1763.5h0M338.4 1764.4h0M268.6 1785.4h0M311.5 1798.6h0M646.7 2113.2h0M647.4 1998.2h0M648.1 2050.9h0M648.8 1983.7h0M649.5 2075h0M650.2 2124.8h0M650.9 2109.6h0M651.6 2041h0M652.2 2006.4h0M652.9 1993.9h0M653.6 1996.7h0M654.3 2070.4h0M655 2114.8h0M655.7 1911.1h0M656.4 1982h0M657.1 2152.6h0M657.8 1998.7h0M658.5 2094.2h0M659.2 2016.1h0M659.9 2127.7h0M660.6 2112.7h0M661.3 2081.8h0M662 2102.5h0M662.7 2079.6h0M663.3 2123h0M664 2180.4h0M664.7 2147.8h0M665.4 2052.6h0M666.1 2054.7h0M666.8 2066.9h0M667.5 2078.1h0M668.2 2092.7h0M668.9 2035.5h0M669.6 2162.4h0M670.3 2101.9h0M671 2086h0M671.7 2072.7h0M672.4 2127.5h0M673.1 2033.2h0M673.8 2168.9h0M674.5 2100h0M675.1 2107.3h0M675.8 2115.3h0M676.5 2119h0M677.2 2102.8h0M677.9 2074.7h0M678.6 2073h0M679.3 2027.1h0M680 2098.4h0M680.7 2056.2h0M681.4 2036h0M682.1 2190.3h0M682.8 1924.6h0M683.5 2056.8h0M684.2 2130.3h0M684.9 2103.6h0M685.6 2102.8h0M686.3 1966h0M686.9 2004.3h0M687.6 2122.9h0M688.3 2041.4h0M689 2123.9h0M689.7 2062.5h0M690.4 2088.2h0M691.1 2104.5h0M691.8 2072.7h0M692.5 2096.9h0M693.2 2061.2h0M693.9 2081.9h0M694.6 2080.2h0M695.3 2118.4h0M696 2016.7h0M696.7 2010.5h0M697.4 2077.7h0M698.1 2079.9h0M698.7 2034.2h0M700 2067h0M700.7 2079.9h0M701.4 2067.8h0M702.1 2090.4h0M702.8 2043.7h0M703.5 2050.9h0M704.2 2063.8h0M704.9 2098.5h0M705.6 1946.1h0M706.2 2038.5h0M706.9 1972.9h0M707.6 2017.4h0M708.3 2014.3h0M709 2091h0M709.7 2133.1h0M710.4 2079.3h0M711.1 1973.2h0M711.8 2037.7h0M712.5 1984.7h0M713.2 2048.4h0M713.9 2126h0M714.6 2063h0M715.3 2079.7h0M716 2049.5h0M716.7 1919.3h0M717.4 1962h0M718 2047.4h0M718.7 2076.3h0M719.4 2102.9h0M720.1 2015.2h0M720.8 2028.7h0M721.5 2043.4h0M722.2 2126.8h0M722.9 2031.5h0M723.6 1954.2h0M724.3 2093.6h0M725 2071.1h0M725.7 2078.5h0M726.4 1990h0M727.1 2050.7h0M727.8 1952.7h0M728.5 1897.1h0M729.1 2000.8h0M729.8 1971.5h0M730.5 2015.8h0M731.2 2042.5h0M731.9 1986.6h0M732.6 2087.2h0M733.3 1973.8h0M734 2038h0M734.7 1938.7h0M735.4 2002.7h0M736.1 1973.1h0M736.8 1993.9h0M737.5 2026.7h0M738.2 1894.8h0M738.9 1993.9h0M739.6 1957.1h0M740.3 2001.4h0M740.9 2028.9h0M741.6 1985.7h0M742.3 1998.1h0M743 1902h0M743.7 2014.2h0M744.4 1937.6h0M745.1 2017.2h0M745.8 1876.5h0M746.5 2082.7h0M747.2 1928.3h0M747.9 2069.7h0M748.6 1980.6h0M749.3 2045.8h0M750 2015.8h0M750.7 2051.2h0M751.4 1993.6h0M752.1 2061.2h0M752.7 2022.9h0M753.4 2027.4h0M754.1 2083.4h0M754.8 1956.8h0M755.5 2058.3h0M756.2 2007.2h0M756.9 1931.7h0M757.6 2017.4h0M758.3 1965.1h0M759 2111.7h0M759.7 1923.8h0M760.4 1982.2h0M761.1 1996.8h0M761.8 1856.8h0M762.5 2003.1h0M763.2 1918.1h0M763.9 2003.2h0M764.5 2097h0M765.2 1981.1h0M765.9 1862.1h0M766.6 1975.1h0M767.3 1984.7h0M768 2011.8h0M768.7 1958.9h0M769.4 1913.3h0M770.1 1968.7h0M770.8 1929.5h0M771.5 2068.5h0M772.2 1948.7h0M772.9 1946.6h0M773.6 1981.6h0M774.3 1906.6h0M775 1953.2h0M775.7 1960.3h0M776.3 1932.8h0M777 1969.5h0M777.7 2048.7h0M778.4 2014.3h0M779.1 1944.9h0M779.8 1960.1h0M780.5 2027.9h0M781.2 1940h0M781.9 1996h0M782.6 1983.3h0M783.3 2026.6h0M784 1977.8h0M784.7 1975.4h0M785.4 1935.6h0M786.1 1997h0M786.8 1934.9h0M787.4 2065.6h0M788.1 1983.6h0M788.8 1972.3h0M789.5 2027.7h0M790.2 1998.7h0M790.9 1993.6h0M791.6 2000.1h0M792.3 1955.9h0M793 1952.9h0M793.7 1961.3h0M794.4 2088.5h0M795.1 1911h0M795.8 1963.9h0M796.5 1954.4h0M797.2 2029.4h0M797.9 2113.3h0M798.6 1936.2h0M799.2 2034.1h0M799.9 2027.4h0M800.6 2006.3h0M801.3 2043.7h0M802 1956.5h0M802.7 2043.2h0M803.4 2018.9h0M804.1 1947.2h0M804.8 2078.2h0M805.5 2039h0M806.2 2035.6h0M806.9 1909.3h0M807.6 1988.1h0M808.3 1938.6h0M809 2024h0M809.7 2080.8h0M810.4 1841.8h0M811 1988.5h0M811.7 1964.5h0M812.4 2043h0M813.1 2005.8h0M813.8 1925h0M814.5 1981.6h0M815.2 1926.5h0M815.9 1911.8h0M816.6 1991.1h0M817.3 1965.1h0M818 1998.4h0M818.7 1875.9h0M819.4 2136.4h0M820.1 2076h0M820.8 2063.7h0M821.5 1948.6h0M822.2 1898h0M822.8 1975.5h0M823.5 1991.4h0M824.2 2142.1h0M824.9 2142h0M825.6 2002.6h0M826.3 2089.5h0M827 2089.3h0M827.7 2001.9h0M828.4 2109.8h0M829.1 2034.7h0M829.8 1980.6h0M830.5 1952.4h0M831.2 2003.3h0M831.9 2052.8h0M832.6 1928.3h0M833.3 1917.8h0M834 2051.4h0M834.6 1881.3h0M835.3 2152.7h0M836 1994.8h0M836.7 2074.9h0M837.4 2150.8h0M838.1 1913.5h0M838.8 1927.2h0M839.5 2096.4h0M840.2 1983.4h0M840.9 2001.3h0M841.6 2033.2h0M842.3 2095.7h0M843 2101.1h0M843.7 2056.8h0M844.4 2041.4h0M845.1 2048.4h0M845.7 2088h0M846.4 2167.3h0M847.1 2054.4h0M847.8 2133.8h0M848.5 2013h0M849.2 2080.6h0M849.9 2124.1h0M850.6 2150.6h0M851.3 2068.1h0M852 2016h0M852.7 2066h0M853.4 2091.8h0M854.1 2100.9h0M854.8 2073.8h0M855.5 1948h0M856.2 2040.7h0M856.9 2117.1h0M857.5 2161.1h0M858.2 2017.4h0M858.9 2069.9h0M859.6 1949.6h0M860.3 2057.8h0M861 2240.5h0M861.7 2113.9h0M862.4 2070.3h0M863.1 2073.8h0M863.8 2048h0M864.5 2022.3h0M865.2 2146.4h0M865.9 2134.6h0M866.6 2215.5h0M867.3 2062.7h0M868 2191.8h0M868.7 2273.5h0M869.3 2066.2h0M870 2186.6h0M870.7 1980.3h0M871.4 2181.1h0M872.1 2231.3h0M872.8 2124.5h0M873.5 2136.9h0M874.2 2100.8h0M874.9 2161.2h0M875.6 2247.4h0M876.3 2150.5h0M877 2123.2h0M877.7 2159.7h0M878.4 2208.7h0M879.1 1981.6h0M879.8 2134h0M880.5 2084h0M881.1 2173.8h0M881.8 2166.4h0M882.5 2139.1h0M883.2 2193.2h0M883.9 2045h0M884.6 2112h0M885.3 2070.5h0M886 2135.4h0M886.7 2158.1h0M887.4 2113.7h0M888.1 2018.3h0M888.8 2130.6h0M889.5 2091.3h0M890.2 2140.1h0M890.9 2105.3h0M891.6 2217.6h0M892.3 2118.2h0M892.9 2031.4h0M893.6 2104.6h0M894.3 1971.9h0M895 2128.8h0M895.7 2149.9h0M896.4 2057.8h0M897.1 2115.1h0M897.8 2027.3h0M898.5 1959.7h0M899.2 2059.7h0M899.9 2103.1h0M900.6 1964.1h0M901.3 2122.3h0M902 2133.2h0M902.7 2136h0M903.4 2162.4h0M904 2141.5h0M904.7 2047.1h0M905.4 2073.6h0M906.1 2094.8h0M906.8 2012.9h0M907.5 2190.2h0M908.2 2126.5h0M908.9 2052.9h0M909.6 2029.8h0M910.3 2221.2h0M911 2134.7h0M911.7 2135h0M912.4 2197.2h0M913.1 2082.9h0M913.8 2052.1h0M914.5 2087.8h0M915.2 1998.4h0M915.8 2080.6h0M916.5 1949.6h0M917.2 2035.6h0M917.9 2039h0M918.6 1947.7h0M919.3 2168.8h0M920 1959.4h0M920.7 2173.1h0M921.4 2047.6h0M922.1 2100.8h0M922.8 2020.8h0M923.5 2187.8h0M924.2 2121h0M924.9 2183.1h0M925.6 2159.1h0M926.3 2116.4h0M927 2082.4h0M927.6 2053.2h0M928.3 2086.6h0M929 2039h0M929.7 2023.4h0M930.4 1958.9h0M931.1 2007.5h0M931.8 2094.1h0M932.5 2024.5h0M933.2 2088.1h0M933.9 2053.5h0M934.6 1985.7h0M935.3 2009.8h0M936 2022.7h0M936.7 2044.2h0M937.4 2052.5h0M938.1 2146.1h0M938.8 2017.5h0M939.4 1952.8h0M940.1 2130.3h0M940.8 2049.2h0M941.5 2098.9h0M942.2 2207.4h0M942.9 2170.7h0M943.6 2135.4h0M944.3 2171.3h0M945 2083.1h0M945.7 2118.9h0M946.4 2057.8h0M947.1 2055h0M947.8 2024.9h0M948.5 2145.3h0M949.2 2135.9h0M949.9 2011.4h0M950.6 2104.1h0M951.2 2034.9h0M951.9 2104.4h0M952.6 2029.4h0M953.3 2075.3h0M954 2019.5h0M954.7 2029.6h0M955.4 2032h0M956.1 2057.1h0M956.8 2033.4h0M957.5 1995h0M958.2 2154.7h0M958.9 2045h0M959.6 1972.3h0M960.3 1944.3h0M961 1942.5h0M961.7 2051.2h0M962.3 2184.4h0M963 1952.3h0M963.7 2044.6h0M964.4 1964h0M965.1 2098.6h0M965.8 2099.6h0M966.5 2077.4h0M967.2 2180.7h0M967.9 2124h0M968.6 2096.1h0M969.3 2026.3h0M970 1989h0M970.7 1972.1h0M971.4 1945.3h0M972.1 2125.6h0M972.8 2047.8h0M973.5 2063h0M974.1 2044.1h0M974.8 2128.7h0M975.5 2014.9h0M976.2 2085.8h0M976.9 2054.3h0M977.6 2024.7h0M978.3 1907.9h0M979 2080.9h0M979.7 1993.9h0M980.4 2037.5h0M981.1 2065.6h0M981.8 2056.8h0M982.5 2091.6h0M983.2 2007.9h0M983.9 2039.8h0M984.6 2026.4h0M985.3 1999.9h0M985.9 2058.4h0M986.6 1988.2h0M987.3 2075.9h0M988 1935.8h0M988.7 1908.4h0M989.4 1982.4h0M990.1 2051.6h0M990.8 1951.8h0M991.5 1975.3h0M992.2 1987h0M992.9 2005.3h0M993.6 1989.3h0M994.3 2026.7h0M995 1941.6h0M995.7 2129.3h0M996.4 2064.5h0M997.1 1978.3h0M997.7 2064.2h0M998.4 2034.7h0M999.1 2064.4h0M999.8 1908.6h0M1000.5 2079.4h0M1001.2 2015.6h0M1001.9 1927.4h0M1002.6 2074.9h0M1003.3 2003.4h0M1004 1978.7h0M1004.7 2021.7h0M1005.4 1944.4h0M1006.1 2056.8h0M1006.8 2015.8h0M1007.5 1987.8h0M1008.2 2052.2h0M1008.9 2014.3h0M1009.5 1981.6h0M1010.2 1973.1h0M1010.9 2009h0M1011.6 2051h0M1012.3 2010.2h0M1013 1970h0M1013.7 2082.3h0M1014.4 2010.6h0M1015.1 1994.9h0M1015.8 2075.1h0M1016.5 1921.8h0M1017.2 1993.6h0M1017.9 1899.3h0M1018.6 1978h0M1019.3 2007.1h0M1020 2038.9h0M1020.6 1951h0M1021.3 2079.2h0M1022 2035.9h0M1022.7 1967.3h0M1023.4 2097.5h0M1024.1 1995.8h0M1024.8 1948.3h0M1025.5 2022.5h0M1026.2 1876.6h0M1026.9 2117.7h0M1027.6 2033h0M1028.3 1963.8h0M1029 2019.4h0M1029.7 2011.9h0M1030.4 2093.7h0M1031.1 1975.1h0M1031.8 1926.1h0M1032.4 1898.3h0M1033.1 1981.1h0M1033.8 1916.7h0M1034.5 1982.6h0M1035.2 2012.1h0M1035.9 1955.3h0M1036.6 1917.2h0M1037.3 2056.3h0M1038 1976.8h0M1038.7 2027.6h0M1039.4 2047.7h0M1040.1 1928h0M1040.8 1965h0M1041.5 2115.2h0M1042.2 2010.3h0M1042.9 1957.3h0M1043.6 1977.8h0M1044.2 1951.7h0M1044.9 1933.7h0M1045.6 1964.4h0M1046.3 1987.5h0M1047 2000.4h0M1047.7 2033.3h0M1048.4 1865.3h0M1049.1 1945h0M1049.8 2065.3h0M1050.5 1968.4h0M1051.2 2076h0M1051.9 2047h0M1052.6 1935.3h0M1053.3 2051.5h0M1054 1913h0M1054.7 2029h0M1055.4 2095.3h0M1056 2121.7h0M1056.7 1985.8h0M1057.4 2052.3h0M1058.1 2045.1h0M1058.8 2047.7h0M1059.5 1849.9h0M1060.2 1956.8h0M1060.9 1988.5h0M1061.6 2002.4h0M1062.3 1916.3h0M1063 2051.3h0M1063.7 2083h0M1064.4 1999.3h0M1065.1 1979.9h0M1065.8 1981.9h0M1066.5 2009.5h0M1067.1 2067.4h0M1067.8 2072.6h0M1068.5 1977.2h0M1069.2 1956.9h0M1069.9 1962.6h0M1070.6 2116.9h0M1071.3 2029.2h0M1072 2029.7h0M1072.7 2049h0M1073.4 2064.1h0M1074.1 2024.1h0M1074.8 1953.3h0M1075.5 1977h0M1076.2 2052.2h0M1076.9 2075.5h0M1077.6 2036.4h0M1078.3 2019.6h0M1078.9 2148.3h0M1079.6 2043.9h0M1080.3 2063.8h0M1081 2035.3h0M1081.7 2041h0M1082.4 2006.2h0M1083.1 2068.1h0M1083.8 2048.8h0M1084.5 2137.3h0M1085.2 2040.9h0M1085.9 2074.7h0M1086.6 2171.5h0M1087.3 2128.7h0M1088 2175h0M1088.7 2195.4h0M1089.4 2026.1h0M1090.1 2074.6h0M1090.7 2034.1h0M882.6 2292.9h0M881.7 2315.8h0M881.7 2323.3h0M868.2 2254.7h0M912.4 2244.4h0M1059.6 1844h0M1054 1863.7h0M813.4 1827.7h0M1166.7 2083.1h0M1167.4 2155.9h0M1168.1 2165.7h0M1168.8 2191.4h0M1169.5 2180.3h0M1170.2 2085.5h0M1170.9 2192.7h0M1171.6 2297h0M1172.3 2097.6h0M1173 2140.4h0M1173.7 2169.3h0M1174.4 2210.6h0M1175.1 2059.4h0M1175.8 2025.2h0M1176.4 2088.3h0M1177.1 2201.6h0M1177.8 2172.7h0M1178.5 2015.8h0M1179.2 2024.6h0M1179.9 2073h0M1180.6 2050.1h0M1181.3 2130.5h0M1182 2128.4h0M1182.7 2244.8h0M1183.4 2166.6h0M1184.1 2132.3h0M1184.8 2173.2h0M1185.5 2085.3h0M1186.2 2051.5h0M1186.9 2124.2h0M1187.6 2157.1h0M1188.2 1973.4h0M1188.9 2147.9h0M1189.6 2135.4h0M1190.3 2071.7h0M1191 2116.5h0M1191.7 2115.9h0M1192.4 2140.5h0M1193.1 2163h0M1193.8 2091.7h0M1194.5 2174.2h0M1195.2 2176.2h0M1195.9 2151.8h0M1196.6 1960.4h0M1197.3 1958.5h0M1198 2148.4h0M1198.7 2075h0M1199.3 2054h0M1200 2065h0M1200.7 1969.2h0M1201.4 2051.2h0M1202.1 2031.6h0M1202.8 2033.3h0M1203.5 2062.5h0M1204.2 1950.3h0M1204.9 2117.4h0M1205.6 1947.4h0M1206.3 2154.3h0M1207 1976.1h0M1207.7 2051.9h0M1208.4 2075.2h0M1209.1 2036.7h0M1209.8 2081.6h0M1210.5 2039.2h0M1211.1 1971.5h0M1211.8 2049.9h0M1212.5 2091.4h0M1213.2 2017.5h0M1213.9 1971.4h0M1214.6 2008.1h0M1215.3 2047.5h0M1216 2037.2h0M1216.7 2072.2h0M1217.4 2057.8h0M1218.1 2084.8h0M1218.8 1961.6h0M1219.5 2150.3h0M1220.2 2054.7h0M1220.9 2127.4h0M1221.6 2043.7h0M1222.3 2056.9h0M1222.9 2062.7h0M1223.6 2146.4h0M1224.3 2146.1h0M1225 2077h0M1225.7 2134.8h0M1226.4 2001.4h0M1227.1 2029.9h0M1227.8 1973.2h0M1228.5 2054h0M1229.2 1988.1h0M1229.9 2038.6h0M1230.6 2056.7h0M1231.3 1888.6h0M1232 2133.7h0M1232.7 2021.7h0M1233.4 1985.1h0M1234.1 1909.2h0M1234.7 1984.3h0M1235.4 1899.4h0M1236.1 2022.3h0M1236.8 2027.2h0M1237.5 2116.2h0M1238.2 2020.1h0M1238.9 2078.3h0M1239.6 2118.5h0M1240.3 2140.2h0M1241 2001.1h0M1241.7 2047.8h0M1242.4 1936.8h0M1243.1 1971.1h0M1243.8 2007.1h0M1244.5 2019.4h0M1245.2 1964.1h0M1245.9 1997.4h0M1246.5 2046.4h0M1247.2 1989.2h0M1247.9 2004.2h0M1248.6 1976.3h0M1249.3 2102.6h0M1250 2109.6h0M1250.7 2038h0M1251.4 2025.6h0M1252.1 2142.8h0M1252.8 2049.7h0M1253.5 1978.4h0M1254.2 1897.4h0M1254.9 2009h0M1255.6 2151.6h0M1256.3 1967.9h0M1257 2149.5h0M1257.6 2019.7h0M1258.3 2011.9h0M1259 2081.7h0M1259.7 1975h0M1260.4 2031.2h0M1261.1 1923.2h0M1261.8 1884.9h0M1262.5 1933h0M1263.2 1978.4h0M1263.9 1894.7h0M1264.6 1857.7h0M1265.3 2000.2h0M1266 1978h0M1266.7 1976.8h0M1267.4 1976.9h0M1268.1 1861.6h0M1268.8 2074.3h0M1269.4 1923.8h0M1270.1 1997.4h0M1270.8 2042.2h0M1271.5 2071.4h0M1272.2 1993.1h0M1272.9 1977.5h0M1273.6 2020.6h0M1274.3 2059h0M1275 2055.7h0M1275.7 2002.8h0M1276.4 2056.3h0M1277.1 2056.8h0M1277.8 2078.2h0M1278.5 2034.5h0M1279.2 2088.6h0M1279.9 2019.8h0M1280.6 2047.9h0M1281.2 2006.8h0M1281.9 1959.1h0M1282.6 1910.8h0M1283.3 1994.4h0M1284 2028h0M1284.7 2075h0M1285.4 1985.6h0M1286.1 1938.3h0M1286.8 1935.1h0M1287.5 2032.2h0M1288.2 2005h0M1288.9 1948.6h0M1289.6 2048.3h0M1290.3 1893.6h0M1291 2041.1h0M1291.7 2027.4h0M1292.4 2023.7h0M1293 1959.1h0M1293.7 2058.9h0M1294.4 2083.6h0M1295.1 1914.1h0M1295.8 2013.9h0M1296.5 2043h0M1297.2 2124.5h0M1297.9 1977h0M1298.6 1904.9h0M1299.3 1997h0M1300 2106.8h0M1300.7 2007.2h0M1301.4 2027h0M1302.1 2135.5h0M1302.8 1847.5h0M1303.5 1889.5h0M1304.2 2079.6h0M1304.8 2032.2h0M1305.5 1919.7h0M1306.2 2037.3h0M1306.9 2019.4h0M1307.6 2024.4h0M1308.3 1942h0M1309 2004.1h0M1309.7 1944.3h0M1310.4 2048.4h0M1311.1 2030.5h0M1311.8 2120.5h0M1312.5 2047.1h0M1313.2 1857.8h0M1313.9 2027.2h0M1314.6 2092.2h0M1315.3 2032.9h0M1315.9 2099h0M1316.6 2042.4h0M1317.3 2093.6h0M1318 1945.1h0M1318.7 2068.8h0M1319.4 1898.3h0M1320.1 2146.9h0M1320.8 1885.4h0M1321.5 1910.3h0M1322.2 2046.9h0M1322.9 2028.3h0M1323.6 2059.1h0M1324.3 2043.4h0M1325 2009.2h0M1325.7 1926.4h0M1326.4 2035.4h0M1327.1 2040.8h0M1327.7 2025.6h0M1328.4 2153.1h0M1329.1 1941.5h0M1329.8 2032.9h0M1330.5 2086.5h0M1331.2 2019.3h0M1331.9 1984.8h0M1332.6 2024h0M1333.3 2143.8h0M1334 2025.8h0M1334.7 2086.3h0M1335.4 1988h0M1336.1 2049.1h0M1336.8 1958.2h0M1337.5 1982.8h0M1338.2 2042.9h0M1338.9 2024.6h0M1339.5 2113.4h0M1340.2 1938.7h0M1340.9 2061.3h0M1341.6 2115.5h0M1342.3 2091.8h0M1343 1987.4h0M1343.7 1984.6h0M1344.4 1991.4h0M1345.1 2046.9h0M1345.8 2055.7h0M1346.5 2075.3h0M1347.2 2078.1h0M1347.9 1978.3h0M1348.6 2006.5h0M1349.3 2003.4h0M1350 1916h0M1350.7 2039.8h0M1351.3 2055.2h0M1352 2178.8h0M1352.7 2056.8h0M1353.4 2047.5h0M1354.1 2185.7h0M1354.8 2048h0M1355.5 2063h0M1356.2 2108.5h0M1356.9 2106.3h0M1357.6 2048.5h0M1358.3 2007.1h0M1359 1965.4h0M1359.7 2047.7h0M1360.4 2021.9h0M1361.1 2102.1h0M1361.8 2059.2h0M1362.5 2128.1h0M1363.1 1975.5h0M1363.8 2137.2h0M1364.5 2007.8h0M1365.2 1977.9h0M1365.9 2003.3h0M1366.6 2037.4h0M1367.3 2138.7h0M1368 2133.1h0M1368.7 2027h0M1369.4 2107.8h0M1370.1 2104.9h0M1370.8 2024h0M1371.5 2005.2h0M1372.2 1967.9h0M1372.9 2007.6h0M1373.6 1943h0M1374.2 2021h0M1374.9 2036.5h0M1375.6 2057.7h0M1376.3 2016h0M1377 2190.9h0M1377.7 2044.6h0M1378.4 2103.9h0M1379.1 2139.7h0M1379.8 2168.5h0M1380.5 2108.9h0M1381.2 2018.7h0M1381.9 2006.3h0M1382.6 1998.1h0M1383.3 2059.4h0M1384 2094.2h0M1384.7 2111.4h0M1385.4 2176.9h0M1386 2120.9h0M1386.7 2225.4h0M1387.4 2211.8h0M1388.1 2105h0M1388.8 2166.7h0M1389.5 1955.8h0M1390.2 2211.7h0M1390.9 2110.8h0M1391.6 2125.4h0M1392.3 1988.5h0M1393 2209.6h0M1393.7 2052.7h0M1394.4 2057.9h0M1395.1 2180.2h0M1395.8 2061.5h0M1396.5 1982.5h0M1397.2 2145.1h0M1397.8 1983.2h0M1398.5 2121.1h0M1399.2 2085.4h0M1399.9 2157.2h0M1400.6 2028.4h0M1401.3 2184.4h0M1402 2134.7h0M1402.7 2221.8h0M1403.4 2091.1h0M1404.1 2224h0M1404.8 2178h0M1405.5 2186.5h0M1406.2 2082.9h0M1406.9 2154.8h0M1407.6 2149.3h0M1408.3 2048.2h0M1409 2017.3h0M1409.6 2021.5h0M1410.3 2232.7h0M1411 2099h0M1411.7 2148.9h0M1412.4 2117.7h0M1413.1 2120h0M1413.8 2129.9h0M1414.5 2091.5h0M1415.2 2230.6h0M1415.9 2087.7h0M1416.6 2109.1h0M1417.3 2028.1h0M1418 2128.7h0M1418.7 2066.8h0M1419.4 2064.8h0M1420.1 2139.1h0M1420.7 2043.9h0M1421.4 2106.6h0M1422.1 2161.3h0M1422.8 2212.1h0M1423.5 2080.7h0M1424.2 2126.7h0M1424.9 2127.6h0M1425.6 2077.7h0M1426.3 2032.4h0M1427 1962.7h0M1427.7 2187.7h0M1428.4 2139.9h0M1429.1 2056.7h0M1429.8 2090.9h0M1430.5 2072.6h0M1431.2 2059.7h0M1431.9 2122.4h0M1432.5 2247.3h0M1433.2 2061.9h0M1433.9 2109h0M1434.6 2076.9h0M1435.3 2078.4h0M1436 2073.3h0M1436.7 2100.3h0M1437.4 2099.8h0M1438.1 2139h0M1438.8 2113.6h0M1439.5 2043.2h0M1440.2 2235.7h0M1440.9 2021.8h0M1441.6 2086.7h0M1442.3 2185.1h0M1443 2048.8h0M1443.7 2208.9h0M1444.3 2164.8h0M1445 2129.9h0M1445.7 2002h0M1446.4 2164.3h0M1447.1 2079.7h0M1447.8 2055.4h0M1448.5 2191.1h0M1449.2 2022.2h0M1449.9 2108.2h0M1450.6 2049.2h0M1451.3 2111.2h0M1452 2026.8h0M1452.7 2057.2h0M1453.4 2022.1h0M1454.1 2023h0M1454.8 2057.7h0M1455.5 2034.3h0M1456.1 2058.3h0M1456.8 2164.5h0M1457.5 2059.1h0M1458.2 1924.4h0M1458.9 2093.8h0M1459.6 2099.2h0M1460.3 2140.2h0M1461 2145.6h0M1461.7 2129.8h0M1462.4 2065.6h0M1463.1 2118.2h0M1463.8 1998.6h0M1464.5 2149.3h0M1465.2 2121.4h0M1465.9 2110.4h0M1466.6 2022.1h0M1467.3 2065.3h0M1467.9 2018h0M1468.6 2088.8h0M1469.3 1987.2h0M1470 2150.8h0M1470.7 2129.4h0M1471.4 2201.4h0M1472.1 2087h0M1472.8 2065.5h0M1473.5 2061.5h0M1474.2 2025h0M1474.9 2018.8h0M1475.6 1939.2h0M1476.3 1979.6h0M1477 2012.2h0M1477.7 2018.1h0M1478.4 1958.5h0M1479 1952h0M1479.7 2022.8h0M1480.4 2093.6h0M1481.1 2032.5h0M1481.8 2076.8h0M1482.5 2107.7h0M1483.2 2104.9h0M1483.9 2051h0M1484.6 2070.7h0M1485.3 1978.4h0M1486 2010.5h0M1486.7 2097.3h0M1487.4 2003.2h0M1488.1 2210.6h0M1488.8 2162.4h0M1489.5 2061.3h0M1490.2 2137.9h0M1490.8 1936.3h0M1491.5 1985.2h0M1492.2 2035.3h0M1492.9 2059.8h0M1493.6 2053h0M1494.3 2002.9h0M1495 2161.4h0M1495.7 2079.9h0M1496.4 2075.7h0M1497.1 2102.7h0M1497.8 2031.5h0M1498.5 2027.4h0M1499.2 1999.4h0M1499.9 1958.2h0M1500.6 2156.9h0M1501.3 1971.4h0M1502 1967.6h0M1502.6 2006.2h0M1503.3 1954.1h0M1504 2151.4h0M1504.7 2085h0M1505.4 2109.1h0M1506.1 2171.9h0M1506.8 2087.1h0M1507.5 2070.7h0M1508.2 1966h0M1508.9 1982.4h0M1509.6 1926.6h0M1510.3 1994.8h0M1511 1958.7h0M1511.7 2130.8h0M1512.4 2081.7h0M1513.1 2037.2h0M1513.8 1948.9h0M1514.4 2069.6h0M1515.1 2090.9h0M1515.8 2036.4h0M1516.5 1969.1h0M1517.2 2061.9h0M1517.9 2140h0M1518.6 1865.4h0M1519.3 2091.9h0M1520 1898.6h0M1520.7 2028.6h0M1521.4 2133.8h0M1522.1 2034.4h0M1522.8 2065.3h0M1523.5 2035.4h0M1524.2 2037.4h0M1524.9 2153.8h0M1525.6 2139.9h0M1526.2 1988.5h0M1526.9 1988.2h0M1527.6 2007.8h0M1528.3 2166.5h0M1529 2029.3h0M1529.7 2126.2h0M1530.4 1997.9h0M1531.1 1880.9h0M1531.8 2089.6h0M1532.5 2000.7h0M1533.2 1972.5h0M1533.9 1968.1h0M1534.6 1969.9h0M1535.3 1955.3h0M1536 1906.9h0M1536.7 2105.3h0M1537.3 2038.6h0M1538 2076.6h0M1538.7 2009.8h0M1539.4 2045.5h0M1540.1 2011.2h0M1540.8 2120.1h0M1541.5 2040.5h0M1542.2 2051.5h0M1542.9 1981.6h0M1543.6 1910.3h0M1544.3 1991.9h0M1545 2000.9h0M1545.7 2016.1h0M1546.4 1920.8h0M1547.1 2140.5h0M1547.8 2087.5h0M1548.5 1948.3h0M1549.1 1956.6h0M1549.8 1974.9h0M1550.5 2070.6h0M1551.2 2115.8h0M1551.9 1996.9h0M1552.6 2090.4h0M1553.3 2011.2h0M1554 2145.7h0M1554.7 2123.4h0M1555.4 2067.5h0M1556.1 2111h0M1556.8 2051.7h0M1557.5 2017.5h0M1558.2 1981.4h0M1558.9 2051.3h0M1559.6 2032.6h0M1560.3 2018.5h0M1560.9 2009.1h0M1561.6 2019.8h0M1562.3 1952.9h0M1563 2022.2h0M1563.7 2140.8h0M1564.4 2029.2h0M1565.1 2109.5h0M1565.8 1966.3h0M1566.5 1961.8h0M1567.2 2038.6h0M1567.9 2055.7h0M1568.6 1980.1h0M1569.3 2085.9h0M1175.2 2249.1h0M1190.9 2258.5h0M1258.2 1850.3h0M1331.2 1863.1h0M1427.4 2294.5h0M1426.8 2275.7h0M1364.7 2277.3h0M1538.6 1863.7h0M1570.6 2071.9h0M1571.3 1900.5h0M1572 1952.6h0M1572.7 2038.2h0M1573.4 2012.9h0M1574.1 2043.7h0M1574.8 1989.9h0M1575.5 2140.7h0M1576.2 1958.2h0M1576.9 1929.5h0M1577.6 2019.5h0M1578.2 2021.8h0M1578.9 2051.1h0M1579.6 2076.2h0M1580.3 2021.2h0M1581 2112.1h0M1581.7 2199.4h0M1582.4 2135.8h0M1583.1 2204h0M1583.8 2144.6h0M1584.5 2089.9h0M1585.2 2200.2h0M1585.9 2129.5h0M1586.6 2206.6h0M1587.3 2098h0M1588 1934.7h0M1588.7 2060.6h0M1589.4 2109.2h0M1590 2141.9h0M1590.7 2102.8h0M1591.4 2179.2h0M1592.1 2036.2h0M1592.8 2075.1h0M1593.5 2175.9h0M1594.2 2102.4h0M1594.9 2121.1h0M1595.6 2185.6h0M1596.3 2153.8h0M1597 2019.5h0M1597.7 2110.3h0M1598.4 2002.9h0M1599.1 2099.1h0M1599.8 2131.2h0M1600.5 2017.1h0M1601.2 2214.7h0M1601.8 2254.3h0M1602.5 2169.4h0M1603.2 2218.3h0M1603.9 2280.5h0M1604.6 2123.5h0M1605.3 2205.1h0M1606 2181.1h0M1606.7 2018.5h0M1607.4 2125.4h0M1608.1 2114.6h0M1608.8 2220.6h0M1609.5 2153.8h0M1610.2 2247.4h0M1610.9 2119.5h0M1611.6 2006.4h0M1612.3 2295.9h0M1613 2306h0M1613.6 2186.3h0M1614.3 2149.4h0M1615 2250.3h0M1615.7 2119.2h0M1616.4 2171.6h0M1617.1 2095.7h0M1617.8 2214.7h0M1618.5 2176.1h0M1619.2 2106.1h0M1619.9 2113.1h0M1620.6 2052.9h0M1621.3 2088.3h0M1622 2280.1h0M1622.7 2135h0M1623.4 2258.3h0M1624.1 2163.8h0M1624.7 2195.4h0M1625.4 2170h0M1626.1 2155.6h0M1626.8 2262.6h0M1627.5 1983h0M1628.2 2221.3h0M1628.9 2228.6h0M1629.6 2170.2h0M1630.3 2183.9h0M1631 2148.3h0M1631.7 2245.6h0M1632.4 2180.6h0M1633.1 2070.1h0M1633.8 2174.1h0M1634.5 2257.4h0M1635.2 2166h0M1635.9 2164.7h0M1636.5 2152.7h0M1637.2 2120.9h0M1637.9 2119.4h0M1638.6 2035.9h0M1639.3 2154.5h0M1640 2290.8h0M1640.7 2135.6h0M1641.4 2111.8h0M1642.1 2225.7h0M1642.8 2167.5h0M1643.5 2182.4h0M1644.2 2223.9h0M1644.9 2205.1h0M1645.6 2130h0M1646.3 2097.7h0M1647 2243h0M1647.7 2122.5h0M1648.3 2077.4h0M1649 2108.3h0M1649.7 2174.1h0M1650.4 2053.8h0M1651.1 2175.9h0M1651.8 2109.7h0M1652.5 2304.6h0M1653.2 2150.2h0M1653.9 2100.5h0M1654.6 2194.8h0M1655.3 2199.4h0M1656 2100h0M1656.7 2120h0M1657.4 2079.2h0M1658.1 2180h0M1658.8 2041h0M1659.5 2113.9h0M1660.1 1989.6h0M1660.8 2145.6h0M1661.5 2014.9h0M1662.2 2077.7h0M1662.9 2182.9h0M1663.6 2152.1h0M1664.3 2149.3h0M1665 2110.3h0M1665.7 2104.1h0M1666.4 2030.7h0M1667.1 2160h0M1667.8 2181.8h0M1668.5 2173.2h0M1669.2 2128h0M1669.9 2207.1h0M1670.6 2176.1h0M1671.3 2236.1h0M1671.9 2161.9h0M1672.6 2145.1h0M1673.3 2123.9h0M1674 1987.8h0M1674.7 2173.2h0M1675.4 2116.2h0M1676.1 2234.8h0M1676.8 1972.5h0M1677.5 2205.1h0M1678.2 2126.7h0M1678.9 2158.9h0M1679.6 2078h0M1680.3 2166.4h0M1681 2150.3h0M1681.7 2197h0M1682.4 2164.3h0M1683 2165.7h0M1683.7 2251h0M1684.4 2152.6h0M1685.1 2113.5h0M1685.8 2182.5h0M1686.5 2096h0M1687.2 2141.5h0M1687.9 2094.5h0M1688.6 2073.4h0M1689.3 1959.6h0M1690 2125.6h0M1690.7 1986.7h0M1691.4 2128.1h0M1692.1 2198.4h0M1692.8 2047.6h0M1693.5 2208.5h0M1694.2 2136.7h0M1694.8 2188.1h0M1695.5 2036.8h0M1696.2 2128.7h0M1696.9 2140.8h0M1697.6 2247h0M1698.3 2223h0M1699 2137.3h0M1699.7 2104.2h0M1700.4 2245.4h0M1701.1 2114.8h0M1701.8 2129.7h0M1702.5 2143.4h0M1703.2 2168h0M1703.9 2148.6h0M1704.6 2051.2h0M1705.3 2075.1h0M1706 2194.7h0M1706.6 2220.7h0M1707.3 2119.5h0M1708 2108.6h0M1708.7 2071.3h0M1709.4 2139.7h0M1710.1 2048.9h0M1710.8 2111h0M1711.5 2091.1h0M1712.2 2087.1h0M1712.9 2104h0M1713.6 2085.8h0M1714.3 2085.7h0M1715 2099.8h0M1715.7 2089.1h0M1716.4 2083.4h0M1717.1 2060.4h0M1717.8 2096.4h0M1718.4 2155.7h0M1719.1 2176.7h0M1719.8 2142.7h0M1720.5 2096.3h0M1721.2 2103.9h0M1721.9 2252.3h0M1722.6 2153.8h0M1723.3 2033.7h0M1724 2114h0M1724.7 2065.1h0M1725.4 2065.2h0M1726.1 1973.9h0M1726.8 2093.9h0M1727.5 2040.1h0M1728.2 2101.4h0M1728.9 2199.2h0M1729.6 2174.9h0M1730.2 2069.8h0M1730.9 2072.2h0M1731.6 2077.5h0M1732.3 2032.1h0M1733 2081.4h0M1733.7 2098.6h0M1734.4 2067.9h0M1735.1 2154.6h0M1735.8 2130.2h0M1736.5 2067h0M1737.2 2192h0M1737.9 2166h0M1738.6 2123.9h0M1739.3 2200.4h0M1740 2192h0M1740.7 2114.1h0M1741.3 2153.1h0M1742 2098.1h0M1742.7 2034.9h0M1743.4 2226.6h0M1744.1 2161.4h0M1744.8 2016.1h0M1745.5 2107.1h0M1746.2 2003.5h0M1746.9 2179.1h0M1747.6 2086.3h0M1748.3 2059h0M1749 2192.3h0M1749.7 2091.9h0M1750.4 2071.7h0M1751.1 2127.3h0M1751.8 2075.2h0M1752.5 2135.5h0M1753.1 2091.3h0M1753.8 2140.8h0M1754.5 2143.2h0M1755.2 2168.5h0M1755.9 2047.4h0M1756.6 2175.4h0M1757.3 2070.7h0M1758 2176.8h0M1758.7 2069.7h0M1759.4 2077.7h0M1760.1 2082.7h0M1760.8 2143.2h0M1761.5 2069.4h0M1762.2 2115.6h0M1762.9 2003.8h0M1763.6 2045.9h0M1764.3 2087h0M1764.9 2073h0M1765.6 1987h0M1766.3 2114h0M1767 2033.8h0M1767.7 2224.7h0M1768.4 2099.1h0M1769.1 2220.3h0M1769.8 2147.4h0M1770.5 2122.9h0M1771.2 2070.1h0M1771.9 2064h0M1772.6 2093.8h0M1773.3 1940.5h0M1774 2114.2h0M1774.7 1982.4h0M1775.4 2021.8h0M1776.1 1938.4h0M1776.7 2083.4h0M1777.4 2078.4h0M1778.1 2056.9h0M1778.8 2095.9h0M1779.5 2058.2h0M1780.2 2095h0M1780.9 2113h0M1781.6 2022.6h0M1782.3 2083h0M1783 2100.9h0M1783.7 2061.7h0M1784.4 2100.3h0M1785.1 2101.1h0M1785.8 2073.4h0M1786.5 2192.6h0M1787.2 2081.4h0M1787.9 2180.1h0M1788.5 2137.7h0M1789.2 1928.5h0M1789.9 2112.7h0M1790.6 2192.3h0M1791.3 2161.3h0M1792 2042.9h0M1792.7 2106.1h0M1793.4 2014.7h0M1794.1 2019.1h0M1794.8 2057.4h0M1795.5 2077.1h0M1796.2 2141.9h0M1796.9 2067.8h0M1797.6 2115.8h0M1798.3 2007.2h0M1799 1987.6h0M1799.6 2058.6h0M1800.3 2217.8h0M1801 1994.5h0M1801.7 1987.4h0M1802.4 2063.4h0M1803.1 2199.1h0M1803.8 2039.4h0M1804.5 2123.6h0M1805.2 2049h0M1805.9 2223.2h0M1806.6 2130.4h0M1807.3 2100.4h0M1808 2102.7h0M1808.7 2092h0M1809.4 2106h0M1810.1 2044.1h0M1810.8 2039.5h0M1811.4 2042.1h0M1812.1 2106.9h0M1812.8 2047.4h0M1813.5 2162.1h0M1814.2 1971.7h0M1814.9 2143.9h0M1815.6 2124.3h0M1816.3 2218.1h0M1817 2102.8h0M1817.7 1977.4h0M1818.4 2042.6h0M1819.1 2144h0M1819.8 2065.2h0M1820.5 2063.3h0M1821.2 2049.2h0M1821.9 2094.6h0M1822.6 2101.7h0M1823.2 2027h0M1823.9 2074.9h0M1824.6 2156.3h0M1825.3 2180h0M1826 2097.4h0M1826.7 2057.6h0M1827.4 2155.6h0M1828.1 2056.3h0M1828.8 1968.9h0M1829.5 2084.4h0M1830.2 2119.6h0M1830.9 2176.7h0M1831.6 2049.4h0M1832.3 2116.4h0M1833 2090h0M1833.7 2192h0M1834.4 2147.3h0M1835 2137.7h0M1835.7 2075.2h0M1836.4 2107.3h0M1837.1 2112.9h0M1837.8 1965.7h0M1838.5 2161.3h0M1839.2 2112.6h0M1839.9 2082.9h0M1840.6 2109.4h0M1841.3 2140.9h0M1842 2140.4h0M1842.7 2039h0M1843.4 2107.7h0M1844.1 2101.6h0M1844.8 2096.3h0M1845.5 2004.1h0M1846.1 2068.1h0M1846.8 2022.1h0M1847.5 2121.1h0M1848.2 2153.8h0M1848.9 2139.6h0M1849.6 2070.1h0M1850.3 2053.5h0M1851 2057.2h0M1851.7 2105.3h0M1852.4 2065.3h0M1853.1 2087h0M1853.8 1980h0M1854.5 2061.8h0M1855.2 2091.4h0M1640.5 2347.8h0M1634.2 2362.8h0M1619.8 2368.1h0M1640.2 2376h0M1794.6 1912.3h0" stroke="#0000ff" stroke-width="13.2" stroke-linecap="round" fill="none"/>
<path d="M258.3 1952.3 L262.3 1950.6 L266.3 1949.3 L270.3 1948.3 L274.3 1947.8 L278.3 1947.8 L282.3 1948.3 L286.3 1949.4 L290.3 1951 L294.2 1953.2 L298.2 1956.1 L302.2 1959.5 L306.2 1963.6 L310.2 1968.3 L314.2 1973.5 L318.2 1979.3 L322.2 1985.5 L326.2 1992.1 L330.2 1999 L334.2 2006.1 L338.2 2013.3 L342.2 2020.5 L346.2 2027.7 L350.2 2034.6 L354.2 2041.3 L358.2 2047.5 L362.2 2053.3 L366.1 2058.5 L370.1 2063.1 L374.1 2066.9 L378.1 2070.1 L382.1 2072.5 L386.1 2074 L390.1 2074.8 L394.1 2074.9 L398.1 2074.2 L402.1 2072.8 L406.1 2070.8 L410.1 2068.1 L414.1 2065 L418.1 2061.4 L422.1 2057.4 L426.1 2053.2 L430.1 2048.6 L434 2044 L438 2039.2 L442 2034.4 L446 2029.6 L450 2024.9 L454 2020.2 L458 2015.6 L462 2011.2 L466 2007 L470 2002.8 L474 1998.9 L478 1995.1 L482 1991.5 L486 1988.1 L490 1984.9 L494 1981.8 L498 1978.9 L501.9 1976.3 L505.9 1973.9 L509.9 1971.8 L513.9 1969.9 L517.9 1968.5 L521.9 1967.3 L525.9 1966.6 L529.9 1966.4 L533.9 1966.6 L537.9 1967.4 L541.9 1968.8 L545.9 1970.7 L549.9 1973.3 L553.9 1976.5 L557.9 1980.3 L561.9 1984.7 L565.9 1989.7 L569.9 1995.2 L573.8 2001.2 L577.8 2007.6 L581.8 2014.4 L585.8 2021.4 L589.8 2028.6 L593.8 2035.8 L597.8 2043 L601.8 2050 L605.8 2056.8 L609.8 2063.3 L613.8 2069.3 L617.8 2074.8 L621.8 2079.7 L625.8 2083.9 L629.8 2087.3 L633.8 2090.1 L637.8 2092 L641.7 2093.2 L645.7 2093.6 L649.7 2093.2 L653.7 2092.2 L657.7 2090.4 L661.7 2088.1 L665.7 2085.1 L669.7 2081.8 L673.7 2077.9 L677.7 2073.8 L681.7 2069.4 L685.7 2064.8 L689.7 2060.1 L693.7 2055.3 L697.7 2050.5 L701.7 2045.7 L705.7 2041 L709.6 2036.4 L713.6 2031.9 L717.6 2027.6 L721.6 2023.4 L725.6 2019.4 L729.6 2015.5 L733.6 2011.8 L737.6 2008.3 L741.6 2005 L745.6 2001.8 L749.6 1998.9 L753.6 1996.1 L757.6 1993.6 L761.6 1991.4 L765.6 1989.4 L769.6 1987.7 L773.6 1986.4 L777.6 1985.5 L781.5 1985.1 L785.5 1985.1 L789.5 1985.6 L793.5 1986.7 L797.5 1988.4 L801.5 1990.7 L805.5 1993.6 L809.5 1997.1 L813.5 2001.2 L817.5 2005.9 L821.5 2011.2 L825.5 2017 L829.5 2023.2 L833.5 2029.8 L837.5 2036.7 L841.5 2043.8 L845.5 2051 L849.4 2058.3 L853.4 2065.4 L857.4 2072.3 L861.4 2079 L865.4 2085.2 L869.4 2090.9 L873.4 2096.1 L877.4 2100.6 L881.4 2104.4 L885.4 2107.5 L889.4 2109.8 L893.4 2111.4 L897.4 2112.1 L901.4 2112.1 L905.4 2111.4 L909.4 2109.9 L913.4 2107.9 L917.3 2105.2 L921.3 2102 L925.3 2098.4 L929.3 2094.4 L933.3 2090.1 L937.3 2085.6 L941.3 2080.9 L945.3 2076.2 L949.3 2071.3 L953.3 2066.5 L957.3 2061.8 L961.3 2057.1 L965.3 2052.6 L969.3 2048.2 L973.3 2043.9 L977.3 2039.8 L981.3 2035.9 L985.3 2032.1 L989.2 2028.6 L993.2 2025.1 L997.2 2021.9 L1001.2 2018.9 L1005.2 2016 L1009.2 2013.4 L1013.2 2011 L1017.2 2008.9 L1021.2 2007.1 L1025.2 2005.6 L1029.2 2004.5 L1033.2 2003.9 L1037.2 2003.6 L1041.2 2003.9 L1045.2 2004.8 L1049.2 2006.2 L1053.2 2008.1 L1057.1 2010.8 L1061.1 2014 L1065.1 2017.8 L1069.1 2022.3 L1073.1 2027.3 L1077.1 2032.8 L1081.1 2038.9 L1085.1 2045.3 L1089.1 2052.1 L1093.1 2059.1 L1097.1 2066.3 L1101.1 2073.5 L1105.1 2080.7 L1109.1 2087.8 L1113.1 2094.6 L1117.1 2101 L1121.1 2107 L1125 2112.4 L1129 2117.2 L1133 2121.4 L1137 2124.8 L1141 2127.5 L1145 2129.4 L1149 2130.5 L1153 2130.9 L1157 2130.4 L1161 2129.3 L1165 2127.5 L1169 2125.1 L1173 2122.2 L1177 2118.8 L1181 2114.9 L1185 2110.8 L1189 2106.4 L1193 2101.8 L1196.9 2097 L1200.9 2092.2 L1204.9 2087.4 L1208.9 2082.6 L1212.9 2077.9 L1216.9 2073.3 L1220.9 2068.9 L1224.9 2064.5 L1228.9 2060.4 L1232.9 2056.4 L1236.9 2052.5 L1240.9 2048.8 L1244.9 2045.3 L1248.9 2042 L1252.9 2038.9 L1256.9 2035.9 L1260.9 2033.2 L1264.8 2030.7 L1268.8 2028.5 L1272.8 2026.5 L1276.8 2024.9 L1280.8 2023.6 L1284.8 2022.8 L1288.8 2022.3 L1292.8 2022.4 L1296.8 2022.9 L1300.8 2024.1 L1304.8 2025.8 L1308.8 2028.1 L1312.8 2031 L1316.8 2034.6 L1320.8 2038.8 L1324.8 2043.5 L1328.8 2048.8 L1332.7 2054.6 L1336.7 2060.9 L1340.7 2067.5 L1344.7 2074.4 L1348.7 2081.6 L1352.7 2088.8 L1356.7 2096 L1360.7 2103.1 L1364.7 2110.1 L1368.7 2116.7 L1372.7 2122.9 L1376.7 2128.6 L1380.7 2133.7 L1384.7 2138.2 L1388.7 2141.9 L1392.7 2145 L1396.7 2147.2 L1400.7 2148.7 L1404.6 2149.4 L1408.6 2149.4 L1412.6 2148.6 L1416.6 2147.1 L1420.6 2145 L1424.6 2142.3 L1428.6 2139.1 L1432.6 2135.4 L1436.6 2131.4 L1440.6 2127.1 L1444.6 2122.6 L1448.6 2117.9 L1452.6 2113.1 L1456.6 2108.3 L1460.6 2103.5 L1464.6 2098.7 L1468.6 2094.1 L1472.5 2089.6 L1476.5 2085.2 L1480.5 2080.9 L1484.5 2076.8 L1488.5 2072.9 L1492.5 2069.2 L1496.5 2065.6 L1500.5 2062.2 L1504.5 2059 L1508.5 2055.9 L1512.5 2053.1 L1516.5 2050.5 L1520.5 2048.1 L1524.5 2046 L1528.5 2044.3 L1532.5 2042.8 L1536.5 2041.7 L1540.4 2041.1 L1544.4 2040.9 L1548.4 2041.2 L1552.4 2042.1 L1556.4 2043.5 L1560.4 2045.6 L1564.4 2048.2 L1568.4 2051.5 L1572.4 2055.4 L1576.4 2059.9 L1580.4 2064.9 L1584.4 2070.5 L1588.4 2076.6 L1592.4 2083 L1596.4 2089.8 L1600.4 2096.9 L1604.4 2104.1 L1608.4 2111.3 L1612.3 2118.5 L1616.3 2125.5 L1620.3 2132.3 L1624.3 2138.7 L1628.3 2144.6 L1632.3 2150 L1636.3 2154.8 L1640.3 2158.9 L1644.3 2162.3 L1648.3 2164.9 L1652.3 2166.8 L1656.3 2167.8 L1660.3 2168.1 L1664.3 2167.7 L1668.3 2166.5 L1672.3 2164.7 L1676.3 2162.2 L1680.2 2159.2 L1684.2 2155.8 L1688.2 2151.9 L1692.2 2147.8 L1696.2 2143.3 L1700.2 2138.7 L1704.2 2134 L1708.2 2129.2 L1712.2 2124.4 L1716.2 2119.6 L1720.2 2114.9 L1724.2 2110.3 L1728.2 2105.8 L1732.2 2101.5 L1736.2 2097.3 L1740.2 2093.4 L1744.2 2089.5 L1748.1 2085.9 L1752.1 2082.4 L1756.1 2079.1 L1760.1 2075.9 L1764.1 2073 L1768.1 2070.3 L1772.1 2067.8 L1776.1 2065.6 L1780.1 2063.7 L1784.1 2062.1 L1788.1 2060.8 L1792.1 2060 L1796.1 2059.6 L1800.1 2059.7 L1804.1 2060.3 L1808.1 2061.4 L1812.1 2063.2 L1816.1 2065.5 L1820 2068.5 L1824 2072.1 L1828 2076.3 L1832 2081.1 L1836 2086.5 L1840 2092.3 L1844 2098.6 L1848 2105.2 L1852 2112.2" stroke="#ff0000" stroke-width="8" fill="none" stroke-linejoin="round"/>
<path d="M275.1 1751.2v-9.8M275.1 2389v9.8M338.5 1751.2v-18.7M338.5 2389v18.7M401.9 1751.2v-9.8M401.9 2389v9.8M465.2 1751.2v-9.8M465.2 2389v9.8M528.6 1751.2v-9.8M528.6 2389v9.8M592 1751.2v-18.7M592 2389v18.7M655.4 1751.2v-9.8M655.4 2389v9.8M718.8 1751.2v-9.8M718.8 2389v9.8M782.1 1751.2v-9.8M782.1 2389v9.8M845.5 1751.2v-18.7M845.5 2389v18.7M908.9 1751.2v-9.8M908.9 2389v9.8M972.2 1751.2v-9.8M972.2 2389v9.8M1035.6 1751.2v-9.8M1035.6 2389v9.8M1099 1751.2v-18.7M1099 2389v18.7M1162.4 1751.2v-9.8M1162.4 2389v9.8M1225.8 1751.2v-9.8M1225.8 2389v9.8M1289.1 1751.2v-9.8M1289.1 2389v9.8M1352.5 1751.2v-18.7M1352.5 2389v18.7M1415.9 1751.2v-9.8M1415.9 2389v9.8M1479.2 1751.2v-9.8M1479.2 2389v9.8M1542.6 1751.2v-9.8M1542.6 2389v9.8M1606 1751.2v-18.7M1606 2389v18.7M1669.4 1751.2v-9.8M1669.4 2389v9.8M1732.8 1751.2v-9.8M1732.8 2389v9.8M1796.1 1751.2v-9.8M1796.1 2389v9.8M1859.5 1751.2v-18.7M1859.5 2389v18.7M226 1795.5h-18.7M1884 1795.5h18.7M226 1924.7h-18.7M1884 1924.7h18.7M226 2053.9h-18.7M1884 2053.9h18.7M226 2183.1h-18.7M1884 2183.1h18.7M226 2312.3h-18.7M1884 2312.3h18.7" stroke="#000" stroke-width="2.4" fill="none"/>
<rect x="226" y="1751.2" width="1658" height="637.8" fill="none" stroke="#000" stroke-width="6.0"/>
<text transform="translate(338.2 2455) scale(1 1.08)" text-anchor="middle" font-family="Liberation Sans, sans-serif" font-weight="bold" font-size="41.5">2020</text>
<text transform="translate(591.7 2455) scale(1 1.08)" text-anchor="middle" font-family="Liberation Sans, sans-serif" font-weight="bold" font-size="41.5">2021</text>
<text transform="translate(845.2 2455) scale(1 1.08)" text-anchor="middle" font-family="Liberation Sans, sans-serif" font-weight="bold" font-size="41.5">2022</text>
<text transform="translate(1098.7 2455) scale(1 1.08)" text-anchor="middle" font-family="Liberation Sans, sans-serif" font-weight="bold" font-size="41.5">2023</text>
<text transform="translate(1352.2 2455) scale(1 1.08)" text-anchor="middle" font-family="Liberation Sans, sans-serif" font-weight="bold" font-size="41.5">2024</text>
<text transform="translate(1605.7 2455) scale(1 1.08)" text-anchor="middle" font-family="Liberation Sans, sans-serif" font-weight="bold" font-size="41.5">2025</text>
<text transform="translate(1859.2 2455) scale(1 1.08)" text-anchor="middle" font-family="Liberation Sans, sans-serif" font-weight="bold" font-size="41.5">2026</text>
<text transform="translate(190.6 1811.4) scale(1 1.08)" text-anchor="end" font-family="Liberation Sans, sans-serif" font-weight="bold" font-size="41.5">18</text>
<text transform="translate(190.6 1940.6) scale(1 1.08)" text-anchor="end" font-family="Liberation Sans, sans-serif" font-weight="bold" font-size="41.5">9</text>
<text transform="translate(190.6 2069.8) scale(1 1.08)" text-anchor="end" font-family="Liberation Sans, sans-serif" font-weight="bold" font-size="41.5">0</text>
<text transform="translate(190.6 2199) scale(1 1.08)" text-anchor="end" font-family="Liberation Sans, sans-serif" font-weight="bold" font-size="41.5">−9</text>
<text transform="translate(190.6 2328.2) scale(1 1.08)" text-anchor="end" font-family="Liberation Sans, sans-serif" font-weight="bold" font-size="41.5">−18</text>
<text transform="translate(89.9 2069.7) rotate(-90) scale(1 1.065)" text-anchor="middle" font-family="Liberation Sans, sans-serif" font-size="42.3">Up (mm)</text>
<text x="1816" y="1791.2" text-anchor="end" font-family="Liberation Sans, sans-serif" font-weight="bold" font-size="35.4">-1.329+/- 0.844 mm/yr</text>
<text transform="translate(1054.6 2514.1) scale(1 1.047)" text-anchor="middle" font-family="Liberation Sans, sans-serif" font-size="42.77">Time (year)</text>
<rect x="226" y="2618" width="1658" height="153" fill="none" stroke="#000" stroke-width="6.5"/>
<text x="1055.3" y="2666.7" text-anchor="middle" font-family="Liberation Sans, sans-serif" font-weight="bold" font-size="35.55">24 Hour Positions Using Final Orbits (blue) and Rapid Orbits (magenta).</text>
<text x="1055.3" y="2707.5" text-anchor="middle" font-family="Liberation Sans, sans-serif" font-weight="bold" font-size="35.55">Processed by the Nevada Geodetic Laboratory.</text>
<text x="1055.3" y="2748.3" text-anchor="middle" font-family="Liberation Sans, sans-serif" font-weight="bold" font-size="35.55">Plotted on 2026-Jan-11. Last data on 2025-Dec-20.</text>
</svg>
</body></html>
